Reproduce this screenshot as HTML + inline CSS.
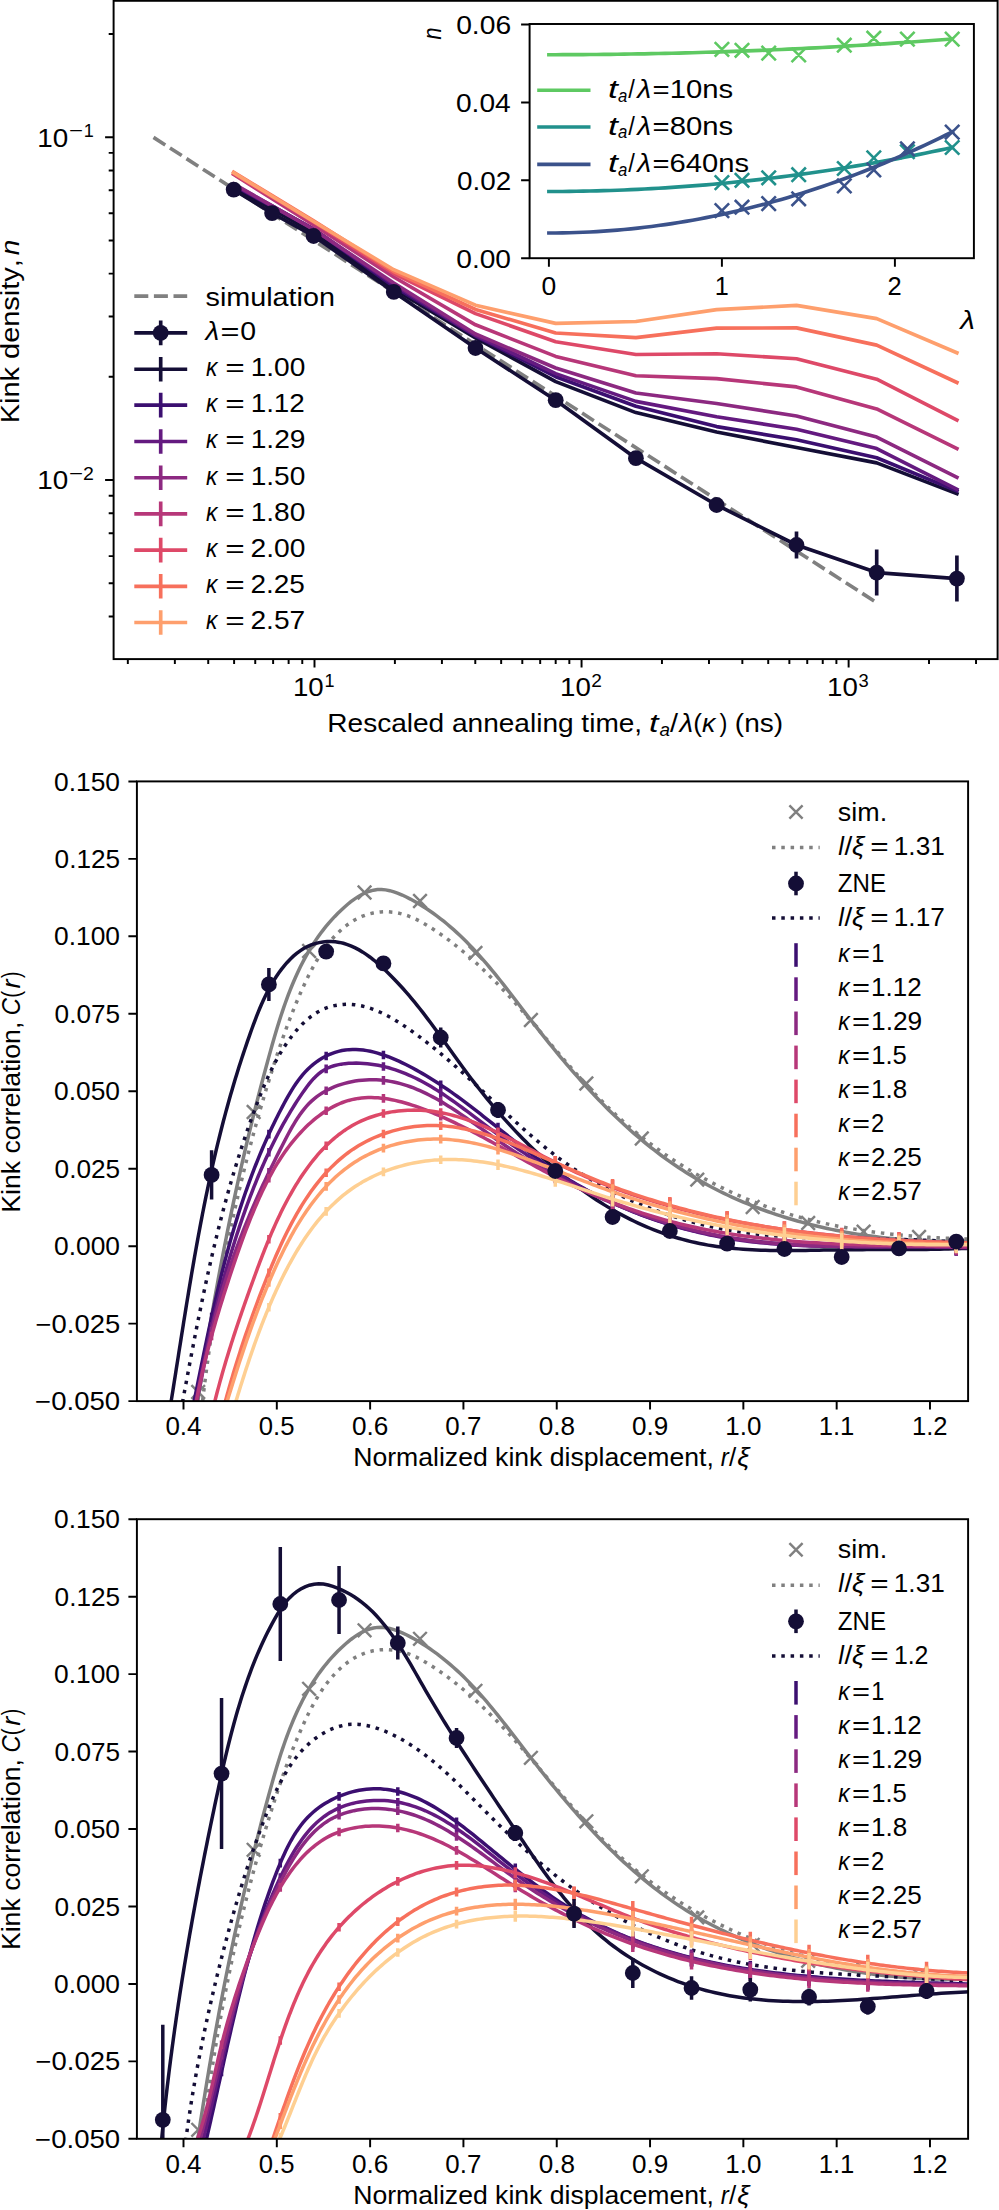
<!DOCTYPE html><html><head><meta charset="utf-8"><style>html,body{margin:0;padding:0;background:#fff;}svg{display:block}text{font-family:"Liberation Sans",sans-serif;fill:#000;font-kerning:none}</style></head><body>
<svg width="999" height="2210" viewBox="0 0 999 2210">
<rect width="999" height="2210" fill="#fff"/>
<clipPath id="c1"><rect x="113.6" y="0.8" width="884.0" height="658.3000000000001"/></clipPath>
<path d="M127.83,659.1 v4.9 M174.86,659.1 v4.9 M208.23,659.1 v4.9 M234.11,659.1 v4.9 M255.25,659.1 v4.9 M273.13,659.1 v4.9 M288.62,659.1 v4.9 M302.28,659.1 v4.9 M314.5,659.1 v8.5 M394.89,659.1 v4.9 M441.92,659.1 v4.9 M475.29,659.1 v4.9 M501.17,659.1 v4.9 M522.31,659.1 v4.9 M540.19,659.1 v4.9 M555.68,659.1 v4.9 M569.34,659.1 v4.9 M581.56,659.1 v8.5 M661.95,659.1 v4.9 M708.98,659.1 v4.9 M742.35,659.1 v4.9 M768.23,659.1 v4.9 M789.37,659.1 v4.9 M807.25,659.1 v4.9 M822.74,659.1 v4.9 M836.4,659.1 v4.9 M848.62,659.1 v8.5 M929.01,659.1 v4.9 M976.04,659.1 v4.9 M113.6,616.48 h-4.9 M113.6,583.26 h-4.9 M113.6,556.11 h-4.9 M113.6,533.16 h-4.9 M113.6,513.28 h-4.9 M113.6,495.74 h-4.9 M113.6,480.05 h-8.5 M113.6,376.84 h-4.9 M113.6,316.47 h-4.9 M113.6,273.63 h-4.9 M113.6,240.41 h-4.9 M113.6,213.26 h-4.9 M113.6,190.31 h-4.9 M113.6,170.43 h-4.9 M113.6,152.89 h-4.9 M113.6,137.2 h-8.5 M113.6,33.99 h-4.9 " stroke="#000" stroke-width="1.95" fill="none"/>
<g clip-path="url(#c1)">
<path d="M153.5,137.4 L876.7,602.6" stroke="#808080" stroke-width="3.65" stroke-dasharray="14 5.6" fill="none"/>
<path d="M233.7,187.2 L272.1,209.21 L313.6,233 L393.8,289 L475.5,338 L555.7,381.6 L635.9,412.6 L716.6,432 L796.5,447.5 L876.7,462.9 L956.9,493.7" stroke="#140e36" stroke-width="3.65" fill="none" stroke-linecap="square" stroke-linejoin="round"/>
<path d="M233.7,185.5 L272.1,206.41 L313.6,229 L393.8,286.5 L475.5,336 L555.7,376.7 L635.9,406.3 L716.6,426.6 L796.5,439.8 L876.7,457.8 L956.9,490.9" stroke="#3b0f70" stroke-width="3.65" fill="none" stroke-linecap="square" stroke-linejoin="round"/>
<path d="M233.7,184.5 L272.1,205.89 L313.6,229 L393.8,284.5 L475.5,335.4 L555.7,373.6 L635.9,401.4 L716.6,416.8 L796.5,429.2 L876.7,448.6 L956.9,489.3" stroke="#641a80" stroke-width="3.65" fill="none" stroke-linecap="square" stroke-linejoin="round"/>
<path d="M233.7,183.9 L272.1,205.82 L313.6,229.5 L393.8,283 L475.5,334 L555.7,368 L635.9,393 L716.6,403.5 L796.5,416 L876.7,437.1 L956.9,477.2" stroke="#8c2981" stroke-width="3.65" fill="none" stroke-linecap="square" stroke-linejoin="round"/>
<path d="M233.7,174.5 L272.1,198.77 L313.6,225 L393.8,277 L475.5,324.8 L555.7,356.4 L635.9,375.8 L716.6,378.6 L796.5,386.9 L876.7,408.9 L956.9,448.6" stroke="#b73779" stroke-width="3.65" fill="none" stroke-linecap="square" stroke-linejoin="round"/>
<path d="M233.7,173.8 L272.1,196.96 L313.6,222 L393.8,273.5 L475.5,313.6 L555.7,341.7 L635.9,354.5 L716.6,353.8 L796.5,358.7 L876.7,379.2 L956.9,420" stroke="#de4968" stroke-width="3.65" fill="none" stroke-linecap="square" stroke-linejoin="round"/>
<path d="M233.7,172.2 L272.1,195.56 L313.6,220.8 L393.8,271.5 L475.5,309.4 L555.7,333 L635.9,337.6 L716.6,328.1 L796.5,327.9 L876.7,345.1 L956.9,382.5" stroke="#f7705c" stroke-width="3.65" fill="none" stroke-linecap="square" stroke-linejoin="round"/>
<path d="M233.7,172.8 L272.1,196.21 L313.6,221.5 L393.8,269.7 L475.5,305.2 L555.7,323.4 L635.9,321.5 L716.6,309.6 L796.5,305.4 L876.7,318.6 L956.9,352.8" stroke="#fe9f6d" stroke-width="3.65" fill="none" stroke-linecap="square" stroke-linejoin="round"/>
<path d="M233.7,189.6 L272.1,213.1 L313.6,236 L393.8,291.9 L475.5,348 L555.7,400.2 L635.9,458.2 L716.6,505 L796.5,545 L876.7,572.6 L956.9,578.6" stroke="#140e36" stroke-width="3.65" fill="none" stroke-linejoin="round"/>
<path d="M796.5,531.5 V558.5 M876.7,549.6 V595.6 M956.9,555.6 V601.6 " stroke="#140e36" stroke-width="3.65" fill="none"/>
<circle cx="233.7" cy="189.6" r="7.9" fill="#140e36"/>
<circle cx="272.1" cy="213.1" r="7.9" fill="#140e36"/>
<circle cx="313.6" cy="236" r="7.9" fill="#140e36"/>
<circle cx="393.8" cy="291.9" r="7.9" fill="#140e36"/>
<circle cx="475.5" cy="348" r="7.9" fill="#140e36"/>
<circle cx="555.7" cy="400.2" r="7.9" fill="#140e36"/>
<circle cx="635.9" cy="458.2" r="7.9" fill="#140e36"/>
<circle cx="716.6" cy="505" r="7.9" fill="#140e36"/>
<circle cx="796.5" cy="545" r="7.9" fill="#140e36"/>
<circle cx="876.7" cy="572.6" r="7.9" fill="#140e36"/>
<circle cx="956.9" cy="578.6" r="7.9" fill="#140e36"/>
</g>
<rect x="113.6" y="0.8" width="884" height="658.3" fill="none" stroke="#000" stroke-width="1.95"/>
<text x="37.38" y="146.8" font-size="26.6" textLength="31.01" lengthAdjust="spacingAndGlyphs">10</text>
<text x="69.01" y="137.3" font-size="18.62" textLength="14.06" lengthAdjust="spacingAndGlyphs">−</text>
<text x="83.72" y="137.3" font-size="18.62" textLength="10.06" lengthAdjust="spacingAndGlyphs">1</text>
<text x="37.38" y="489.2" font-size="26.6" textLength="31.01" lengthAdjust="spacingAndGlyphs">10</text>
<text x="69.01" y="479.7" font-size="18.62" textLength="14.06" lengthAdjust="spacingAndGlyphs">−</text>
<text x="83.02" y="479.7" font-size="18.62" textLength="10.87" lengthAdjust="spacingAndGlyphs">2</text>
<text x="292.99" y="696.2" font-size="26.6" textLength="30.79" lengthAdjust="spacingAndGlyphs">10</text>
<text x="324.62" y="686.6" font-size="18.62" textLength="10.06" lengthAdjust="spacingAndGlyphs">1</text>
<text x="560.05" y="696.2" font-size="26.6" textLength="30.79" lengthAdjust="spacingAndGlyphs">10</text>
<text x="591.2" y="686.6" font-size="18.62" textLength="10.62" lengthAdjust="spacingAndGlyphs">2</text>
<text x="827.09" y="696.2" font-size="26.6" textLength="30.79" lengthAdjust="spacingAndGlyphs">10</text>
<text x="858.5" y="686.6" font-size="18.62" textLength="10.21" lengthAdjust="spacingAndGlyphs">3</text>
<text x="327.3" y="731.6" font-size="26.6" textLength="314.82" lengthAdjust="spacingAndGlyphs">Rescaled annealing time,</text>
<text x="648.95" y="731.6" font-size="26.6" textLength="9.47" lengthAdjust="spacingAndGlyphs" font-style="italic">t</text>
<text x="659.48" y="736" font-size="18.62" textLength="10.47" lengthAdjust="spacingAndGlyphs" font-style="italic">a</text>
<text x="670" y="731.6" font-size="26.6" textLength="8" lengthAdjust="spacingAndGlyphs">/</text>
<text x="679.56" y="731.6" font-size="26.6" textLength="13.62" lengthAdjust="spacingAndGlyphs" font-style="italic">λ</text>
<text x="693.36" y="731.6" font-size="26.6" textLength="8.79" lengthAdjust="spacingAndGlyphs">(</text>
<text x="702.06" y="731.6" font-size="26.6" textLength="13.32" lengthAdjust="spacingAndGlyphs" font-style="italic">κ</text>
<text x="719.56" y="731.6" font-size="26.6" textLength="7.91" lengthAdjust="spacingAndGlyphs">)</text>
<text x="734.86" y="731.6" font-size="26.6" textLength="48.28" lengthAdjust="spacingAndGlyphs">(ns)</text>
<g transform="translate(18.8,420.85) rotate(-90)">
<text x="-2.37" y="0" font-size="26.6" textLength="164.02" lengthAdjust="spacingAndGlyphs">Kink density,</text>
<text x="165.58" y="0" font-size="26.6" textLength="15.64" lengthAdjust="spacingAndGlyphs" font-style="italic">n</text>
</g>
<path d="M134.3,296.1 H187.2" stroke="#808080" stroke-width="3.65" stroke-dasharray="14 5.6"/>
<text x="205.5" y="305.5" font-size="26.6" textLength="129.47" lengthAdjust="spacingAndGlyphs">simulation</text>
<path d="M134.3,332.9 H187.2 M160.7,320.59999999999997 V345.2" stroke="#140e36" stroke-width="3.65"/>
<circle cx="160.7" cy="332.9" r="7.9" fill="#140e36"/>
<text x="205.57" y="340.4" font-size="26.6" textLength="13.72" lengthAdjust="spacingAndGlyphs" font-style="italic">λ</text>
<text x="220.41" y="340.4" font-size="26.6" textLength="18.99" lengthAdjust="spacingAndGlyphs">=</text>
<text x="240.39" y="340.4" font-size="26.6" textLength="15.82" lengthAdjust="spacingAndGlyphs">0</text>
<path d="M134.3,369.2 H187.2 M160.7,356.9 V381.5" stroke="#140e36" stroke-width="3.65"/>
<text x="205.92" y="376.15" font-size="26.6" textLength="11.42" lengthAdjust="spacingAndGlyphs" font-style="italic">κ</text>
<text x="225.17" y="376.15" font-size="26.6" textLength="19.47" lengthAdjust="spacingAndGlyphs">=</text>
<text x="250.66" y="376.15" font-size="26.6" textLength="54.7" lengthAdjust="spacingAndGlyphs">1.00</text>
<path d="M134.3,405.1 H187.2 M160.7,392.8 V417.4" stroke="#3b0f70" stroke-width="3.65"/>
<text x="205.92" y="412.05" font-size="26.6" textLength="11.42" lengthAdjust="spacingAndGlyphs" font-style="italic">κ</text>
<text x="225.17" y="412.05" font-size="26.6" textLength="19.47" lengthAdjust="spacingAndGlyphs">=</text>
<text x="250.68" y="412.05" font-size="26.6" textLength="54.13" lengthAdjust="spacingAndGlyphs">1.12</text>
<path d="M134.3,441.5 H187.2 M160.7,429.2 V453.8" stroke="#641a80" stroke-width="3.65"/>
<text x="205.92" y="448.45" font-size="26.6" textLength="11.42" lengthAdjust="spacingAndGlyphs" font-style="italic">κ</text>
<text x="225.17" y="448.45" font-size="26.6" textLength="19.47" lengthAdjust="spacingAndGlyphs">=</text>
<text x="250.65" y="448.45" font-size="26.6" textLength="54.85" lengthAdjust="spacingAndGlyphs">1.29</text>
<path d="M134.3,477.7 H187.2 M160.7,465.4 V490" stroke="#8c2981" stroke-width="3.65"/>
<text x="205.92" y="484.65" font-size="26.6" textLength="11.42" lengthAdjust="spacingAndGlyphs" font-style="italic">κ</text>
<text x="225.17" y="484.65" font-size="26.6" textLength="19.47" lengthAdjust="spacingAndGlyphs">=</text>
<text x="250.66" y="484.65" font-size="26.6" textLength="54.7" lengthAdjust="spacingAndGlyphs">1.50</text>
<path d="M134.3,513.9 H187.2 M160.7,501.6 V526.2" stroke="#b73779" stroke-width="3.65"/>
<text x="205.92" y="520.85" font-size="26.6" textLength="11.42" lengthAdjust="spacingAndGlyphs" font-style="italic">κ</text>
<text x="225.17" y="520.85" font-size="26.6" textLength="19.47" lengthAdjust="spacingAndGlyphs">=</text>
<text x="250.66" y="520.85" font-size="26.6" textLength="54.7" lengthAdjust="spacingAndGlyphs">1.80</text>
<path d="M134.3,550.1 H187.2 M160.7,537.8 V562.4" stroke="#de4968" stroke-width="3.65"/>
<text x="205.92" y="557.05" font-size="26.6" textLength="11.42" lengthAdjust="spacingAndGlyphs" font-style="italic">κ</text>
<text x="225.17" y="557.05" font-size="26.6" textLength="19.47" lengthAdjust="spacingAndGlyphs">=</text>
<text x="250.46" y="557.05" font-size="26.6" textLength="54.9" lengthAdjust="spacingAndGlyphs">2.00</text>
<path d="M134.3,586.3 H187.2 M160.7,574 V598.6" stroke="#f7705c" stroke-width="3.65"/>
<text x="205.92" y="593.25" font-size="26.6" textLength="11.42" lengthAdjust="spacingAndGlyphs" font-style="italic">κ</text>
<text x="225.17" y="593.25" font-size="26.6" textLength="19.47" lengthAdjust="spacingAndGlyphs">=</text>
<text x="250.47" y="593.25" font-size="26.6" textLength="54.44" lengthAdjust="spacingAndGlyphs">2.25</text>
<path d="M134.3,622.5 H187.2 M160.7,610.2 V634.8" stroke="#fe9f6d" stroke-width="3.65"/>
<text x="205.92" y="629.45" font-size="26.6" textLength="11.42" lengthAdjust="spacingAndGlyphs" font-style="italic">κ</text>
<text x="225.17" y="629.45" font-size="26.6" textLength="19.47" lengthAdjust="spacingAndGlyphs">=</text>
<text x="250.47" y="629.45" font-size="26.6" textLength="54.73" lengthAdjust="spacingAndGlyphs">2.57</text>
<rect x="529.6" y="24.0" width="444.3" height="234.2" fill="#fff"/>
<clipPath id="ci"><rect x="529.6" y="24.0" width="444.3" height="234.2"/></clipPath>
<g clip-path="url(#ci)">
<path d="M548.9,54.7 L555.74,54.7 L562.58,54.68 L569.41,54.66 L576.25,54.63 L583.09,54.59 L589.93,54.54 L596.77,54.48 L603.6,54.41 L610.44,54.33 L617.28,54.25 L624.12,54.15 L630.95,54.05 L637.79,53.93 L644.63,53.81 L651.47,53.68 L658.31,53.54 L665.14,53.39 L671.98,53.23 L678.82,53.06 L685.66,52.89 L692.5,52.7 L699.33,52.51 L706.17,52.3 L713.01,52.09 L719.85,51.87 L726.69,51.64 L733.52,51.4 L740.36,51.15 L747.2,50.89 L754.04,50.62 L760.87,50.35 L767.71,50.06 L774.55,49.77 L781.39,49.46 L788.23,49.15 L795.06,48.83 L801.9,48.5 L808.74,48.16 L815.58,47.81 L822.42,47.45 L829.25,47.08 L836.09,46.71 L842.93,46.32 L849.77,45.93 L856.61,45.53 L863.44,45.11 L870.28,44.69 L877.12,44.26 L883.96,43.82 L890.79,43.37 L897.63,42.92 L904.47,42.45 L911.31,41.97 L918.15,41.49 L924.98,41 L931.82,40.49 L938.66,39.98 L945.5,39.46 L952.34,38.93" stroke="#5ec962" stroke-width="3.65" fill="none" stroke-linecap="square"/>
<path d="M714.7,42.2 L729.1,56.6 M714.7,56.6 L729.1,42.2 M734.8,43.1 L749.2,57.5 M734.8,57.5 L749.2,43.1 M761.5,45.9 L775.9,60.3 M761.5,60.3 L775.9,45.9 M791.5,47.8 L805.9,62.2 M791.5,62.2 L805.9,47.8 M837.1,38 L851.5,52.4 M837.1,52.4 L851.5,38 M866.6,31 L881,45.4 M866.6,45.4 L881,31 M900.2,31.9 L914.6,46.3 M900.2,46.3 L914.6,31.9 M945,31.9 L959.4,46.3 M945,46.3 L959.4,31.9 " stroke="#5ec962" stroke-width="2.6" fill="none"/>
<path d="M548.9,191.5 L555.74,191.49 L562.58,191.45 L569.41,191.39 L576.25,191.3 L583.09,191.18 L589.93,191.04 L596.77,190.88 L603.6,190.69 L610.44,190.48 L617.28,190.23 L624.12,189.97 L630.95,189.68 L637.79,189.36 L644.63,189.02 L651.47,188.65 L658.31,188.26 L665.14,187.84 L671.98,187.4 L678.82,186.93 L685.66,186.44 L692.5,185.92 L699.33,185.38 L706.17,184.81 L713.01,184.21 L719.85,183.59 L726.69,182.95 L733.52,182.28 L740.36,181.58 L747.2,180.86 L754.04,180.11 L760.87,179.34 L767.71,178.54 L774.55,177.72 L781.39,176.87 L788.23,176 L795.06,175.1 L801.9,174.18 L808.74,173.23 L815.58,172.25 L822.42,171.25 L829.25,170.23 L836.09,169.18 L842.93,168.1 L849.77,167 L856.61,165.88 L863.44,164.72 L870.28,163.55 L877.12,162.34 L883.96,161.12 L890.79,159.86 L897.63,158.59 L904.47,157.28 L911.31,155.95 L918.15,154.6 L924.98,153.22 L931.82,151.82 L938.66,150.39 L945.5,148.93 L952.34,147.45" stroke="#21918c" stroke-width="3.65" fill="none" stroke-linecap="square"/>
<path d="M714.7,175.4 L729.1,189.8 M714.7,189.8 L729.1,175.4 M734.8,173.1 L749.2,187.5 M734.8,187.5 L749.2,173.1 M761.5,170.6 L775.9,185 M761.5,185 L775.9,170.6 M791.5,167.5 L805.9,181.9 M791.5,181.9 L805.9,167.5 M837.1,161.3 L851.5,175.7 M837.1,175.7 L851.5,161.3 M866.6,150.7 L881,165.1 M866.6,165.1 L881,150.7 M900.2,144.5 L914.6,158.9 M900.2,158.9 L914.6,144.5 M945,140.3 L959.4,154.7 M945,154.7 L959.4,140.3 " stroke="#21918c" stroke-width="2.6" fill="none"/>
<path d="M548.9,233 L555.74,232.97 L562.58,232.88 L569.41,232.74 L576.25,232.54 L583.09,232.27 L589.93,231.95 L596.77,231.58 L603.6,231.14 L610.44,230.65 L617.28,230.09 L624.12,229.48 L630.95,228.82 L637.79,228.09 L644.63,227.3 L651.47,226.46 L658.31,225.56 L665.14,224.6 L671.98,223.59 L678.82,222.51 L685.66,221.38 L692.5,220.19 L699.33,218.94 L706.17,217.63 L713.01,216.26 L719.85,214.84 L726.69,213.36 L733.52,211.82 L740.36,210.22 L747.2,208.56 L754.04,206.85 L760.87,205.08 L767.71,203.24 L774.55,201.36 L781.39,199.41 L788.23,197.4 L795.06,195.34 L801.9,193.22 L808.74,191.04 L815.58,188.8 L822.42,186.51 L829.25,184.15 L836.09,181.74 L842.93,179.27 L849.77,176.74 L856.61,174.16 L863.44,171.51 L870.28,168.81 L877.12,166.05 L883.96,163.23 L890.79,160.35 L897.63,157.42 L904.47,154.43 L911.31,151.38 L918.15,148.27 L924.98,145.1 L931.82,141.87 L938.66,138.59 L945.5,135.25 L952.34,131.85" stroke="#3b528b" stroke-width="3.65" fill="none" stroke-linecap="square"/>
<path d="M714.7,203.4 L729.1,217.8 M714.7,217.8 L729.1,203.4 M734.8,200 L749.2,214.4 M734.8,214.4 L749.2,200 M761.5,196.4 L775.9,210.8 M761.5,210.8 L775.9,196.4 M791.5,191.6 L805.9,206 M791.5,206 L805.9,191.6 M837.1,178.7 L851.5,193.1 M837.1,193.1 L851.5,178.7 M866.6,162.7 L881,177.1 M866.6,177.1 L881,162.7 M900.2,141.7 L914.6,156.1 M900.2,156.1 L914.6,141.7 M945,124.9 L959.4,139.3 M945,139.3 L959.4,124.9 " stroke="#3b528b" stroke-width="2.6" fill="none"/>
</g>
<rect x="529.6" y="24.0" width="444.3" height="234.2" fill="none" stroke="#000" stroke-width="1.95"/>
<path d="M529.6,258.2 h-8.5 M529.6,180.3 h-8.5 M529.6,102.4 h-8.5 M529.6,24.5 h-8.5 M548.9,258.2 v8.5 M721.9,258.2 v8.5 M894.9,258.2 v8.5 " stroke="#000" stroke-width="1.95" fill="none"/>
<text x="456.24" y="267.5" font-size="26.6" textLength="54.76" lengthAdjust="spacingAndGlyphs">0.00</text>
<text x="457.09" y="189.6" font-size="26.6" textLength="54.21" lengthAdjust="spacingAndGlyphs">0.02</text>
<text x="455.98" y="111.7" font-size="26.6" textLength="54.75" lengthAdjust="spacingAndGlyphs">0.04</text>
<text x="456.15" y="33.8" font-size="26.6" textLength="55" lengthAdjust="spacingAndGlyphs">0.06</text>
<text x="541.54" y="295.2" font-size="26.6" textLength="14.72" lengthAdjust="spacingAndGlyphs">0</text>
<text x="714.75" y="295.2" font-size="26.6" textLength="14.05" lengthAdjust="spacingAndGlyphs">1</text>
<text x="887.47" y="295.2" font-size="26.6" textLength="14.18" lengthAdjust="spacingAndGlyphs">2</text>
<g transform="translate(441,39.2) rotate(-90)">
<text x="-0.36" y="0" font-size="26.6" textLength="12.04" lengthAdjust="spacingAndGlyphs" font-style="italic">n</text>
</g>
<text x="960.15" y="328.7" font-size="26.6" textLength="14.63" lengthAdjust="spacingAndGlyphs" font-style="italic">λ</text>
<path d="M537.2,90.2 H590.5" stroke="#5ec962" stroke-width="3.65"/>
<text x="607.98" y="97.8" font-size="26.6" textLength="9.88" lengthAdjust="spacingAndGlyphs" font-style="italic">t</text>
<text x="618.12" y="101.5" font-size="18.62" textLength="9.35" lengthAdjust="spacingAndGlyphs" font-style="italic">a</text>
<text x="628.2" y="97.8" font-size="26.6" textLength="6.6" lengthAdjust="spacingAndGlyphs">/</text>
<text x="637.28" y="97.8" font-size="26.6" textLength="13.92" lengthAdjust="spacingAndGlyphs" font-style="italic">λ</text>
<text x="652.57" y="97.8" font-size="26.6" textLength="80.56" lengthAdjust="spacingAndGlyphs">=10ns</text>
<path d="M537.2,127.0 H590.5" stroke="#21918c" stroke-width="3.65"/>
<text x="607.98" y="134.6" font-size="26.6" textLength="9.88" lengthAdjust="spacingAndGlyphs" font-style="italic">t</text>
<text x="618.12" y="138.3" font-size="18.62" textLength="9.35" lengthAdjust="spacingAndGlyphs" font-style="italic">a</text>
<text x="628.2" y="134.6" font-size="26.6" textLength="6.6" lengthAdjust="spacingAndGlyphs">/</text>
<text x="637.28" y="134.6" font-size="26.6" textLength="13.92" lengthAdjust="spacingAndGlyphs" font-style="italic">λ</text>
<text x="652.57" y="134.6" font-size="26.6" textLength="80.56" lengthAdjust="spacingAndGlyphs">=80ns</text>
<path d="M537.2,164.4 H590.5" stroke="#3b528b" stroke-width="3.65"/>
<text x="607.98" y="172" font-size="26.6" textLength="9.88" lengthAdjust="spacingAndGlyphs" font-style="italic">t</text>
<text x="618.12" y="175.7" font-size="18.62" textLength="9.35" lengthAdjust="spacingAndGlyphs" font-style="italic">a</text>
<text x="628.2" y="172" font-size="26.6" textLength="6.6" lengthAdjust="spacingAndGlyphs">/</text>
<text x="637.28" y="172" font-size="26.6" textLength="13.92" lengthAdjust="spacingAndGlyphs" font-style="italic">λ</text>
<text x="652.58" y="172" font-size="26.6" textLength="96.52" lengthAdjust="spacingAndGlyphs">=640ns</text>
<clipPath id="c2"><rect x="136.9" y="781.4" width="831.2" height="619.7"/></clipPath>
<g clip-path="url(#c2)">
<path d="M195.24,1418.59 L195.9,1414.16 L196.56,1409.74 L197.22,1405.32 L197.89,1400.91 L198.56,1396.51 L199.23,1392.11 L199.9,1387.71 L200.58,1383.33 L201.27,1378.95 L201.96,1374.57 L202.65,1370.2 L203.34,1365.83 L204.04,1361.47 L204.75,1357.11 L205.45,1352.76 L206.17,1348.41 L206.88,1344.07 L207.6,1339.74 L208.33,1335.4 L209.06,1331.07 L209.79,1326.75 L210.53,1322.43 L211.27,1318.11 L212.02,1313.8 L212.78,1309.49 L213.53,1305.19 L214.3,1300.88 L215.07,1296.59 L215.84,1292.29 L216.62,1288 L217.4,1283.71 L218.19,1279.43 L218.99,1275.14 L219.79,1270.86 L220.6,1266.59 L221.41,1262.31 L222.23,1258.04 L223.05,1253.77 L223.88,1249.5 L224.71,1245.24 L225.56,1240.98 L226.4,1236.72 L227.26,1232.46 L228.12,1228.2 L228.98,1223.95 L229.86,1219.69 L230.74,1215.44 L231.62,1211.19 L232.51,1206.94 L233.41,1202.69 L234.32,1198.44 L235.23,1194.2 L236.15,1189.95 L237.08,1185.7 L238.01,1181.46 L238.95,1177.22 L239.9,1172.97 L240.86,1168.73 L241.82,1164.48 L242.79,1160.24 L243.77,1156 L244.75,1151.76 L245.75,1147.51 L246.75,1143.27 L247.75,1139.02 L248.77,1134.78 L249.8,1130.53 L250.83,1126.29 L251.87,1122.04 L252.92,1117.79 L253.97,1113.54 L255.04,1109.29 L256.11,1105.04 L257.19,1100.78 L258.28,1096.53 L259.38,1092.27 L260.49,1088.02 L261.6,1083.76 L262.73,1079.49 L263.86,1075.23 L265.01,1070.96 L266.16,1066.69 L267.32,1062.42 L268.49,1058.15 L269.67,1053.87 L270.86,1049.6 L272.06,1045.32 L273.28,1041.04 L274.51,1036.77 L275.77,1032.51 L277.04,1028.25 L278.35,1024 L279.68,1019.76 L281.03,1015.54 L282.43,1011.33 L283.85,1007.14 L285.31,1002.97 L286.81,998.82 L288.36,994.69 L289.94,990.59 L291.58,986.51 L293.26,982.46 L294.99,978.45 L296.78,974.46 L298.62,970.51 L300.52,966.6 L302.48,962.72 L304.51,958.89 L306.6,955.09 L308.76,951.34 L310.98,947.64 L313.29,943.98 L315.66,940.37 L318.12,936.81 L320.65,933.31 L323.27,929.86 L325.97,926.47 L328.76,923.14 L331.63,919.87 L334.6,916.66 L337.67,913.52 L340.83,910.44 L344.09,907.43 L347.45,904.5 L350.9,901.7 L354.45,899.06 L358.09,896.65 L361.81,894.5 L365.61,892.67 L369.48,891.21 L373.43,890.16 L377.44,889.58 L381.51,889.5 L385.62,889.88 L389.77,890.68 L393.93,891.84 L398.09,893.31 L402.22,895.04 L406.33,896.98 L410.38,899.08 L414.37,901.28 L418.28,903.55 L422.11,905.89 L425.87,908.29 L429.56,910.76 L433.19,913.29 L436.75,915.88 L440.24,918.53 L443.68,921.24 L447.05,923.99 L450.37,926.81 L453.64,929.67 L456.85,932.58 L460.02,935.54 L463.14,938.54 L466.21,941.58 L469.25,944.67 L472.24,947.79 L475.19,950.95 L478.11,954.15 L481,957.38 L483.86,960.64 L486.69,963.93 L489.49,967.25 L492.27,970.59 L495.03,973.95 L497.77,977.34 L500.49,980.75 L503.2,984.17 L505.9,987.61 L508.59,991.07 L511.27,994.53 L513.95,998.01 L516.62,1001.49 L519.3,1004.98 L521.97,1008.48 L524.65,1011.98 L527.34,1015.47 L530.04,1018.97 L532.75,1022.46 L535.47,1025.95 L538.2,1029.43 L540.94,1032.91 L543.7,1036.38 L546.47,1039.84 L549.25,1043.3 L552.05,1046.74 L554.86,1050.18 L557.68,1053.6 L560.52,1057.02 L563.38,1060.42 L566.25,1063.8 L569.13,1067.18 L572.03,1070.54 L574.95,1073.88 L577.88,1077.21 L580.83,1080.52 L583.8,1083.81 L586.79,1087.08 L589.79,1090.34 L592.81,1093.57 L595.85,1096.78 L598.91,1099.97 L601.98,1103.13 L605.08,1106.28 L608.2,1109.39 L611.33,1112.48 L614.49,1115.55 L617.67,1118.59 L620.87,1121.6 L624.09,1124.58 L627.33,1127.53 L630.59,1130.46 L633.88,1133.35 L637.19,1136.2 L640.52,1139.03 L643.88,1141.82 L647.26,1144.58 L650.66,1147.3 L654.09,1149.99 L657.54,1152.64 L661.02,1155.25 L664.52,1157.82 L668.05,1160.36 L671.6,1162.85 L675.18,1165.3 L678.79,1167.71 L682.42,1170.08 L686.08,1172.41 L689.76,1174.69 L693.48,1176.93 L697.21,1179.13 L700.98,1181.29 L704.76,1183.4 L708.57,1185.47 L712.4,1187.51 L716.26,1189.5 L720.14,1191.45 L724.04,1193.36 L727.96,1195.23 L731.9,1197.05 L735.86,1198.84 L739.84,1200.59 L743.85,1202.3 L747.87,1203.97 L751.91,1205.6 L755.96,1207.19 L760.04,1208.74 L764.13,1210.25 L768.24,1211.73 L772.36,1213.16 L776.5,1214.56 L780.66,1215.92 L784.83,1217.24 L789.01,1218.53 L793.21,1219.77 L797.42,1220.98 L801.65,1222.16 L805.88,1223.29 L810.13,1224.39 L814.39,1225.45 L818.66,1226.48 L822.94,1227.47 L827.23,1228.42 L831.53,1229.34 L835.84,1230.23 L840.16,1231.07 L844.49,1231.89 L848.82,1232.67 L853.16,1233.41 L857.51,1234.12 L861.86,1234.79 L866.22,1235.43 L870.58,1236.04 L874.95,1236.61 L879.32,1237.15 L883.7,1237.66 L888.08,1238.13 L892.46,1238.57 L896.85,1238.98 L901.23,1239.35 L905.62,1239.7 L910.01,1240.01 L914.4,1240.28 L918.79,1240.53 L923.18,1240.74 L927.57,1240.93 L931.95,1241.08 L936.34,1241.2 L940.72,1241.29 L945.1,1241.35 L949.48,1241.38 L953.85,1241.38 L958.21,1241.35 L962.58,1241.29 L966.93,1241.2 L971.29,1241.08 L975.63,1240.93 L979.97,1240.75" stroke="#808080" stroke-width="3.5" fill="none"/>
<path d="M202.62,1400.78 L203.1,1396.67 L203.59,1392.56 L204.09,1388.45 L204.6,1384.33 L205.12,1380.22 L205.65,1376.1 L206.18,1371.98 L206.73,1367.86 L207.29,1363.73 L207.85,1359.6 L208.43,1355.48 L209.01,1351.35 L209.6,1347.22 L210.21,1343.08 L210.82,1338.95 L211.44,1334.81 L212.07,1330.68 L212.71,1326.54 L213.36,1322.4 L214.02,1318.27 L214.69,1314.13 L215.37,1309.99 L216.06,1305.85 L216.76,1301.71 L217.46,1297.57 L218.18,1293.43 L218.91,1289.29 L219.64,1285.16 L220.39,1281.02 L221.14,1276.88 L221.9,1272.74 L222.68,1268.61 L223.46,1264.47 L224.25,1260.34 L225.06,1256.2 L225.87,1252.07 L226.69,1247.94 L227.52,1243.81 L228.36,1239.68 L229.21,1235.55 L230.07,1231.43 L230.94,1227.31 L231.82,1223.19 L232.71,1219.07 L233.61,1214.95 L234.52,1210.84 L235.44,1206.73 L236.37,1202.62 L237.3,1198.51 L238.25,1194.41 L239.21,1190.31 L240.17,1186.21 L241.15,1182.12 L242.14,1178.03 L243.13,1173.94 L244.14,1169.85 L245.15,1165.77 L246.18,1161.7 L247.21,1157.63 L248.26,1153.56 L249.31,1149.49 L250.37,1145.43 L251.45,1141.38 L252.53,1137.32 L253.62,1133.28 L254.73,1129.23 L255.84,1125.2 L256.96,1121.16 L258.1,1117.14 L259.24,1113.11 L260.39,1109.09 L261.55,1105.08 L262.73,1101.08 L263.91,1097.07 L265.1,1093.08 L266.3,1089.09 L267.51,1085.11 L268.73,1081.13 L269.97,1077.16 L271.21,1073.19 L272.46,1069.23 L273.72,1065.28 L274.99,1061.33 L276.28,1057.39 L277.57,1053.46 L278.89,1049.53 L280.22,1045.6 L281.57,1041.68 L282.93,1037.76 L284.32,1033.84 L285.74,1029.93 L287.17,1026.01 L288.64,1022.1 L290.13,1018.18 L291.65,1014.27 L293.21,1010.35 L294.79,1006.44 L296.41,1002.52 L298.07,998.6 L299.76,994.67 L301.49,990.74 L303.27,986.81 L305.08,982.88 L306.95,978.95 L308.87,975.04 L310.86,971.16 L312.91,967.31 L315.03,963.51 L317.23,959.75 L319.51,956.05 L321.88,952.42 L324.35,948.87 L326.91,945.4 L329.58,942.03 L332.36,938.76 L335.25,935.6 L338.24,932.58 L341.33,929.7 L344.52,926.99 L347.81,924.46 L351.19,922.13 L354.65,920.01 L358.2,918.11 L361.83,916.46 L365.54,915.05 L369.31,913.9 L373.14,912.99 L377,912.34 L380.91,911.93 L384.83,911.77 L388.76,911.85 L392.7,912.18 L396.62,912.76 L400.53,913.58 L404.4,914.64 L408.24,915.93 L412.04,917.44 L415.8,919.14 L419.52,921 L423.2,923.01 L426.84,925.15 L430.44,927.38 L434,929.68 L437.52,932.05 L440.99,934.46 L444.42,936.91 L447.82,939.41 L451.18,941.94 L454.5,944.52 L457.78,947.13 L461.03,949.79 L464.25,952.48 L467.43,955.2 L470.58,957.96 L473.7,960.75 L476.8,963.58 L479.86,966.43 L482.9,969.31 L485.91,972.22 L488.9,975.16 L491.87,978.12 L494.81,981.11 L497.73,984.12 L500.63,987.15 L503.51,990.2 L506.38,993.27 L509.23,996.36 L512.06,999.47 L514.88,1002.59 L517.68,1005.73 L520.47,1008.88 L523.26,1012.04 L526.03,1015.22 L528.79,1018.4 L531.55,1021.59 L534.3,1024.79 L537.04,1027.99 L539.78,1031.2 L542.52,1034.41 L545.25,1037.63 L547.99,1040.84 L550.72,1044.06 L553.46,1047.27 L556.2,1050.48 L558.94,1053.69 L561.68,1056.89 L564.44,1060.09 L567.2,1063.28 L569.97,1066.46 L572.75,1069.63 L575.53,1072.79 L578.33,1075.94 L581.15,1079.07 L583.97,1082.19 L586.82,1085.29 L589.67,1088.38 L592.55,1091.44 L595.44,1094.49 L598.36,1097.52 L601.29,1100.52 L604.25,1103.5 L607.23,1106.46 L610.23,1109.39 L613.26,1112.29 L616.31,1115.17 L619.39,1118.02 L622.5,1120.83 L625.64,1123.62 L628.81,1126.37 L632,1129.09 L635.22,1131.79 L638.47,1134.45 L641.74,1137.07 L645.04,1139.67 L648.37,1142.24 L651.72,1144.77 L655.09,1147.27 L658.49,1149.74 L661.91,1152.17 L665.36,1154.57 L668.83,1156.94 L672.32,1159.28 L675.83,1161.58 L679.37,1163.85 L682.92,1166.08 L686.5,1168.28 L690.1,1170.45 L693.72,1172.58 L697.35,1174.68 L701.01,1176.75 L704.69,1178.77 L708.38,1180.77 L712.09,1182.73 L715.82,1184.65 L719.57,1186.54 L723.34,1188.39 L727.12,1190.21 L730.91,1191.99 L734.73,1193.73 L738.55,1195.44 L742.4,1197.11 L746.26,1198.75 L750.13,1200.34 L754.01,1201.9 L757.91,1203.43 L761.82,1204.91 L765.75,1206.36 L769.68,1207.77 L773.63,1209.15 L777.59,1210.48 L781.56,1211.78 L785.54,1213.03 L789.53,1214.25 L793.53,1215.44 L797.54,1216.58 L801.57,1217.7 L805.6,1218.77 L809.63,1219.81 L813.68,1220.82 L817.74,1221.79 L821.8,1222.73 L825.87,1223.63 L829.96,1224.51 L834.04,1225.35 L838.14,1226.16 L842.24,1226.94 L846.35,1227.69 L850.47,1228.42 L854.59,1229.11 L858.72,1229.78 L862.85,1230.41 L866.99,1231.02 L871.14,1231.61 L875.29,1232.17 L879.45,1232.7 L883.61,1233.21 L887.77,1233.69 L891.94,1234.15 L896.12,1234.59 L900.29,1235 L904.47,1235.4 L908.66,1235.77 L912.85,1236.12 L917.04,1236.45 L921.23,1236.76 L925.42,1237.05 L929.62,1237.33 L933.82,1237.58 L938.02,1237.82 L942.22,1238.04 L946.42,1238.24 L950.63,1238.43 L954.83,1238.61 L959.04,1238.76 L963.24,1238.91 L967.44,1239.04 L971.65,1239.16 L975.85,1239.27 L980.05,1239.36" stroke="#808080" stroke-width="3.5" fill="none" stroke-dasharray="3.5 5.8"/>
<path d="M191.4,1385.2 L205,1398.8 M191.4,1398.8 L205,1385.2 M246.85,1105.2 L260.45,1118.8 M246.85,1118.8 L260.45,1105.2 M302.3,944.2 L315.9,957.8 M302.3,957.8 L315.9,944.2 M357.75,885.7 L371.35,899.3 M357.75,899.3 L371.35,885.7 M413.2,894.2 L426.8,907.8 M413.2,907.8 L426.8,894.2 M468.65,946.2 L482.25,959.8 M468.65,959.8 L482.25,946.2 M524.1,1013.2 L537.7,1026.8 M524.1,1026.8 L537.7,1013.2 M579.55,1076.7 L593.15,1090.3 M579.55,1090.3 L593.15,1076.7 M635,1131.7 L648.6,1145.3 M635,1145.3 L648.6,1131.7 M690.45,1172.8 L704.05,1186.4 M690.45,1186.4 L704.05,1172.8 M745.9,1200.2 L759.5,1213.8 M745.9,1213.8 L759.5,1200.2 M801.35,1216.2 L814.95,1229.8 M801.35,1229.8 L814.95,1216.2 M856.8,1224.8 L870.4,1238.4 M856.8,1238.4 L870.4,1224.8 M912.25,1230.2 L925.85,1243.8 M912.25,1243.8 L925.85,1230.2 " stroke="#808080" stroke-width="2.45" fill="none"/>
<path d="M166.5,1429.89 L167.21,1425.6 L167.92,1421.3 L168.62,1417 L169.32,1412.7 L170.02,1408.4 L170.71,1404.1 L171.4,1399.79 L172.09,1395.48 L172.78,1391.17 L173.47,1386.86 L174.15,1382.55 L174.83,1378.24 L175.51,1373.92 L176.19,1369.6 L176.87,1365.29 L177.55,1360.97 L178.23,1356.65 L178.91,1352.33 L179.59,1348.01 L180.28,1343.69 L180.96,1339.37 L181.64,1335.05 L182.33,1330.73 L183.01,1326.41 L183.7,1322.08 L184.4,1317.76 L185.09,1313.44 L185.79,1309.12 L186.49,1304.8 L187.19,1300.48 L187.9,1296.16 L188.62,1291.84 L189.33,1287.52 L190.05,1283.2 L190.78,1278.88 L191.51,1274.57 L192.25,1270.25 L192.99,1265.93 L193.74,1261.62 L194.49,1257.31 L195.26,1253 L196.02,1248.69 L196.8,1244.38 L197.58,1240.08 L198.37,1235.77 L199.17,1231.47 L199.98,1227.17 L200.79,1222.87 L201.61,1218.57 L202.44,1214.28 L203.29,1209.99 L204.14,1205.7 L205,1201.41 L205.87,1197.13 L206.75,1192.85 L207.64,1188.57 L208.54,1184.29 L209.45,1180.02 L210.38,1175.75 L211.31,1171.48 L212.26,1167.22 L213.22,1162.96 L214.2,1158.7 L215.18,1154.45 L216.18,1150.2 L217.19,1145.96 L218.22,1141.71 L219.25,1137.48 L220.31,1133.24 L221.38,1129.01 L222.46,1124.79 L223.55,1120.56 L224.67,1116.35 L225.79,1112.13 L226.94,1107.93 L228.1,1103.72 L229.27,1099.52 L230.46,1095.33 L231.67,1091.14 L232.89,1086.95 L234.14,1082.77 L235.39,1078.59 L236.67,1074.42 L237.96,1070.25 L239.27,1066.08 L240.6,1061.92 L241.95,1057.77 L243.32,1053.62 L244.7,1049.47 L246.11,1045.32 L247.53,1041.18 L248.97,1037.05 L250.43,1032.91 L251.91,1028.78 L253.41,1024.66 L254.95,1020.54 L256.52,1016.44 L258.13,1012.35 L259.8,1008.27 L261.54,1004.22 L263.34,1000.2 L265.23,996.2 L267.2,992.23 L269.28,988.3 L271.46,984.41 L273.75,980.56 L276.17,976.76 L278.72,973.02 L281.39,969.36 L284.19,965.82 L287.12,962.43 L290.18,959.2 L293.36,956.17 L296.66,953.37 L300.09,950.82 L303.65,948.55 L307.33,946.58 L311.12,944.94 L315.02,943.61 L318.99,942.61 L323.02,941.94 L327.1,941.58 L331.19,941.53 L335.29,941.81 L339.38,942.41 L343.42,943.31 L347.42,944.54 L351.36,946.05 L355.24,947.84 L359.06,949.88 L362.82,952.14 L366.52,954.6 L370.15,957.23 L373.73,960.02 L377.23,962.95 L380.68,965.97 L384.05,969.08 L387.36,972.25 L390.6,975.46 L393.78,978.7 L396.89,981.95 L399.94,985.24 L402.94,988.54 L405.88,991.87 L408.77,995.21 L411.61,998.58 L414.4,1001.96 L417.16,1005.36 L419.88,1008.77 L422.56,1012.2 L425.21,1015.64 L427.83,1019.09 L430.43,1022.55 L433,1026.02 L435.56,1029.5 L438.1,1032.99 L440.62,1036.48 L443.14,1039.98 L445.65,1043.48 L448.15,1046.99 L450.66,1050.49 L453.17,1054 L455.68,1057.5 L458.21,1061 L460.74,1064.5 L463.3,1067.99 L465.87,1071.48 L468.46,1074.96 L471.08,1078.43 L473.72,1081.89 L476.39,1085.34 L479.08,1088.78 L481.8,1092.21 L484.55,1095.63 L487.32,1099.03 L490.12,1102.41 L492.94,1105.79 L495.79,1109.14 L498.66,1112.48 L501.56,1115.8 L504.49,1119.1 L507.44,1122.38 L510.41,1125.64 L513.41,1128.87 L516.44,1132.09 L519.49,1135.28 L522.57,1138.44 L525.67,1141.58 L528.8,1144.69 L531.95,1147.78 L535.13,1150.84 L538.33,1153.86 L541.56,1156.86 L544.81,1159.83 L548.09,1162.76 L551.39,1165.66 L554.72,1168.53 L558.08,1171.37 L561.46,1174.16 L564.86,1176.92 L568.29,1179.65 L571.74,1182.33 L575.22,1184.98 L578.72,1187.58 L582.25,1190.15 L585.8,1192.67 L589.38,1195.15 L592.98,1197.59 L596.61,1199.98 L600.26,1202.33 L603.94,1204.62 L607.64,1206.88 L611.36,1209.08 L615.11,1211.23 L618.89,1213.34 L622.69,1215.39 L626.51,1217.39 L630.36,1219.34 L634.23,1221.23 L638.13,1223.07 L642.05,1224.86 L646,1226.59 L649.97,1228.26 L653.97,1229.87 L657.99,1231.42 L662.03,1232.91 L666.1,1234.34 L670.19,1235.71 L674.31,1237.02 L678.45,1238.26 L682.61,1239.44 L686.8,1240.55 L691.01,1241.6 L695.25,1242.58 L699.51,1243.49 L703.8,1244.33 L708.1,1245.1 L712.43,1245.82 L716.78,1246.47 L721.15,1247.06 L725.53,1247.59 L729.93,1248.07 L734.34,1248.5 L738.77,1248.88 L743.21,1249.22 L747.66,1249.51 L752.12,1249.76 L756.58,1249.96 L761.06,1250.14 L765.53,1250.28 L770.02,1250.38 L774.5,1250.46 L778.98,1250.51 L783.47,1250.54 L787.95,1250.54 L792.43,1250.53 L796.9,1250.5 L801.37,1250.45 L805.83,1250.4 L810.28,1250.33 L814.73,1250.26 L819.16,1250.18 L823.58,1250.1 L827.98,1250.02 L832.37,1249.95 L836.74,1249.88 L841.1,1249.82 L845.43,1249.76 L849.75,1249.72 L854.05,1249.69 L858.34,1249.66 L862.62,1249.64 L866.89,1249.62 L871.15,1249.61 L875.4,1249.6 L879.65,1249.6 L883.89,1249.59 L888.14,1249.59 L892.38,1249.58 L896.63,1249.58 L900.88,1249.57 L905.14,1249.55 L909.41,1249.54 L913.68,1249.51 L917.97,1249.48 L922.28,1249.44 L926.59,1249.39 L930.93,1249.33 L935.29,1249.26 L939.66,1249.18 L944.06,1249.09 L948.49,1248.98 L952.94,1248.86 L957.42,1248.72 L961.92,1248.56 L966.47,1248.38 L971.04,1248.19 L975.65,1247.97 L980.3,1247.74" stroke="#140e36" stroke-width="3.5" fill="none"/>
<path d="M177.42,1429.87 L178.14,1425.98 L178.86,1422.1 L179.57,1418.21 L180.29,1414.32 L181,1410.44 L181.72,1406.55 L182.44,1402.66 L183.16,1398.77 L183.87,1394.88 L184.59,1390.99 L185.31,1387.1 L186.04,1383.2 L186.76,1379.31 L187.49,1375.42 L188.22,1371.53 L188.95,1367.64 L189.68,1363.75 L190.42,1359.86 L191.16,1355.97 L191.9,1352.08 L192.65,1348.19 L193.4,1344.3 L194.15,1340.41 L194.91,1336.52 L195.67,1332.63 L196.43,1328.75 L197.21,1324.86 L197.98,1320.98 L198.76,1317.09 L199.55,1313.21 L200.34,1309.33 L201.14,1305.45 L201.94,1301.57 L202.75,1297.69 L203.57,1293.82 L204.39,1289.94 L205.22,1286.07 L206.05,1282.2 L206.9,1278.33 L207.75,1274.46 L208.61,1270.6 L209.47,1266.73 L210.35,1262.87 L211.23,1259.01 L212.12,1255.16 L213.02,1251.3 L213.93,1247.45 L214.85,1243.6 L215.77,1239.75 L216.71,1235.91 L217.65,1232.07 L218.61,1228.23 L219.58,1224.39 L220.55,1220.56 L221.54,1216.73 L222.53,1212.9 L223.54,1209.07 L224.56,1205.25 L225.59,1201.43 L226.63,1197.62 L227.69,1193.81 L228.75,1190 L229.83,1186.19 L230.92,1182.39 L232.03,1178.6 L233.14,1174.8 L234.27,1171.01 L235.41,1167.23 L236.57,1163.45 L237.74,1159.67 L238.92,1155.9 L240.12,1152.13 L241.33,1148.36 L242.55,1144.6 L243.79,1140.84 L245.05,1137.09 L246.32,1133.35 L247.6,1129.6 L248.9,1125.86 L250.22,1122.13 L251.55,1118.4 L252.9,1114.68 L254.27,1110.96 L255.65,1107.25 L257.05,1103.54 L258.46,1099.84 L259.9,1096.15 L261.36,1092.46 L262.86,1088.79 L264.39,1085.14 L265.95,1081.5 L267.56,1077.88 L269.21,1074.28 L270.91,1070.7 L272.66,1067.15 L274.47,1063.63 L276.33,1060.13 L278.26,1056.67 L280.26,1053.24 L282.33,1049.85 L284.48,1046.5 L286.7,1043.18 L289.01,1039.91 L291.4,1036.69 L293.88,1033.52 L296.46,1030.42 L299.13,1027.41 L301.9,1024.51 L304.77,1021.73 L307.74,1019.11 L310.82,1016.64 L314,1014.36 L317.3,1012.27 L320.72,1010.4 L324.25,1008.77 L327.9,1007.39 L331.65,1006.27 L335.47,1005.4 L339.33,1004.79 L343.19,1004.42 L347.03,1004.29 L350.85,1004.4 L354.63,1004.72 L358.39,1005.26 L362.12,1005.99 L365.82,1006.92 L369.49,1008.01 L373.13,1009.27 L376.74,1010.69 L380.32,1012.24 L383.87,1013.93 L387.4,1015.73 L390.89,1017.65 L394.35,1019.65 L397.79,1021.75 L401.19,1023.91 L404.57,1026.14 L407.91,1028.42 L411.23,1030.74 L414.51,1033.09 L417.77,1035.47 L420.99,1037.88 L424.19,1040.31 L427.37,1042.77 L430.52,1045.25 L433.65,1047.76 L436.75,1050.28 L439.83,1052.83 L442.89,1055.4 L445.94,1057.98 L448.96,1060.58 L451.97,1063.2 L454.96,1065.83 L457.94,1068.47 L460.9,1071.13 L463.85,1073.79 L466.79,1076.47 L469.72,1079.15 L472.64,1081.84 L475.55,1084.54 L478.45,1087.24 L481.35,1089.95 L484.24,1092.65 L487.13,1095.36 L490.02,1098.07 L492.9,1100.77 L495.78,1103.48 L498.66,1106.17 L501.55,1108.87 L504.43,1111.56 L507.32,1114.24 L510.22,1116.91 L513.12,1119.57 L516.03,1122.22 L518.94,1124.86 L521.87,1127.48 L524.8,1130.09 L527.75,1132.68 L530.7,1135.26 L533.67,1137.82 L536.66,1140.35 L539.66,1142.87 L542.68,1145.37 L545.71,1147.84 L548.77,1150.28 L551.84,1152.7 L554.93,1155.1 L558.05,1157.46 L561.19,1159.8 L564.35,1162.11 L567.54,1164.38 L570.76,1166.62 L574,1168.83 L577.27,1171 L580.56,1173.14 L583.88,1175.24 L587.23,1177.31 L590.6,1179.35 L593.99,1181.35 L597.41,1183.32 L600.84,1185.25 L604.3,1187.15 L607.79,1189.01 L611.29,1190.84 L614.81,1192.63 L618.36,1194.39 L621.92,1196.12 L625.5,1197.8 L629.1,1199.46 L632.72,1201.08 L636.35,1202.66 L640.01,1204.21 L643.67,1205.72 L647.36,1207.19 L651.06,1208.63 L654.77,1210.04 L658.5,1211.41 L662.24,1212.74 L665.99,1214.04 L669.76,1215.3 L673.54,1216.52 L677.33,1217.71 L681.13,1218.87 L684.94,1219.98 L688.76,1221.06 L692.59,1222.1 L696.43,1223.11 L700.28,1224.08 L704.13,1225.01 L707.99,1225.91 L711.86,1226.77 L715.73,1227.59 L719.61,1228.38 L723.5,1229.13 L727.39,1229.84 L731.28,1230.51 L735.18,1231.15 L739.08,1231.75 L742.98,1232.32 L746.89,1232.86 L750.8,1233.36 L754.71,1233.84 L758.63,1234.28 L762.55,1234.69 L766.48,1235.08 L770.4,1235.44 L774.33,1235.78 L778.26,1236.09 L782.2,1236.38 L786.14,1236.64 L790.07,1236.88 L794.02,1237.11 L797.96,1237.31 L801.91,1237.5 L805.85,1237.67 L809.8,1237.82 L813.75,1237.96 L817.71,1238.09 L821.66,1238.2 L825.62,1238.3 L829.58,1238.4 L833.53,1238.48 L837.49,1238.55 L841.46,1238.62 L845.42,1238.68 L849.38,1238.73 L853.34,1238.78 L857.31,1238.83 L861.27,1238.88 L865.24,1238.92 L869.2,1238.97 L873.17,1239.02 L877.14,1239.07 L881.1,1239.12 L885.07,1239.18 L889.03,1239.24 L893,1239.31 L896.96,1239.39 L900.93,1239.47 L904.89,1239.57 L908.86,1239.68 L912.82,1239.79 L916.78,1239.93 L920.74,1240.07 L924.7,1240.24 L928.66,1240.41 L932.62,1240.61 L936.57,1240.82 L940.53,1241.06 L944.48,1241.31 L948.43,1241.59 L952.38,1241.89 L956.33,1242.21 L960.28,1242.56 L964.22,1242.93 L968.16,1243.33 L972.1,1243.76 L976.04,1244.22 L979.97,1244.71" stroke="#140e36" stroke-width="3.5" fill="none" stroke-dasharray="3.5 5.8"/>
<path d="M188.21,1429.85 L188.98,1426.19 L189.74,1422.53 L190.5,1418.88 L191.26,1415.22 L192.01,1411.56 L192.76,1407.91 L193.5,1404.26 L194.25,1400.6 L194.99,1396.95 L195.74,1393.3 L196.48,1389.65 L197.22,1386 L197.96,1382.35 L198.7,1378.7 L199.44,1375.06 L200.18,1371.41 L200.92,1367.77 L201.66,1364.13 L202.41,1360.49 L203.16,1356.85 L203.91,1353.21 L204.66,1349.58 L205.41,1345.94 L206.17,1342.31 L206.93,1338.68 L207.7,1335.05 L208.47,1331.43 L209.25,1327.8 L210.03,1324.18 L210.82,1320.56 L211.61,1316.95 L212.41,1313.33 L213.21,1309.72 L214.02,1306.11 L214.84,1302.5 L215.66,1298.9 L216.5,1295.29 L217.34,1291.69 L218.19,1288.1 L219.05,1284.5 L219.92,1280.91 L220.79,1277.33 L221.68,1273.74 L222.58,1270.16 L223.49,1266.58 L224.41,1263.01 L225.34,1259.43 L226.28,1255.87 L227.23,1252.3 L228.2,1248.74 L229.17,1245.18 L230.16,1241.63 L231.17,1238.08 L232.19,1234.53 L233.22,1230.99 L234.26,1227.45 L235.32,1223.91 L236.4,1220.38 L237.49,1216.86 L238.59,1213.33 L239.72,1209.82 L240.85,1206.3 L242.01,1202.79 L243.18,1199.29 L244.37,1195.79 L245.57,1192.29 L246.8,1188.8 L248.04,1185.31 L249.3,1181.83 L250.58,1178.36 L251.88,1174.88 L253.2,1171.42 L254.54,1167.96 L255.89,1164.5 L257.27,1161.05 L258.67,1157.6 L260.1,1154.16 L261.54,1150.72 L263,1147.29 L264.49,1143.87 L266,1140.45 L267.53,1137.04 L269.09,1133.63 L270.67,1130.23 L272.28,1126.83 L273.9,1123.44 L275.56,1120.06 L277.23,1116.68 L278.94,1113.31 L280.67,1109.94 L282.42,1106.58 L284.2,1103.23 L286.02,1099.89 L287.87,1096.58 L289.78,1093.3 L291.73,1090.07 L293.75,1086.89 L295.83,1083.77 L298,1080.73 L300.24,1077.77 L302.57,1074.91 L305,1072.15 L307.54,1069.5 L310.19,1066.97 L312.95,1064.58 L315.83,1062.33 L318.83,1060.23 L321.92,1058.29 L325.1,1056.52 L328.36,1054.93 L331.68,1053.53 L335.06,1052.32 L338.49,1051.33 L341.95,1050.55 L345.44,1049.99 L348.95,1049.63 L352.49,1049.47 L356.04,1049.5 L359.61,1049.71 L363.18,1050.1 L366.77,1050.64 L370.36,1051.33 L373.95,1052.17 L377.54,1053.13 L381.12,1054.23 L384.7,1055.43 L388.27,1056.74 L391.82,1058.15 L395.35,1059.64 L398.86,1061.2 L402.34,1062.84 L405.8,1064.53 L409.22,1066.27 L412.62,1068.06 L415.97,1069.87 L419.3,1071.73 L422.59,1073.62 L425.85,1075.54 L429.09,1077.49 L432.29,1079.47 L435.47,1081.49 L438.63,1083.53 L441.76,1085.59 L444.86,1087.68 L447.94,1089.8 L451.01,1091.93 L454.05,1094.09 L457.08,1096.27 L460.08,1098.46 L463.07,1100.67 L466.05,1102.9 L469.01,1105.14 L471.96,1107.4 L474.9,1109.66 L477.83,1111.94 L480.75,1114.22 L483.66,1116.52 L486.57,1118.82 L489.47,1121.12 L492.36,1123.43 L495.26,1125.74 L498.15,1128.05 L501.04,1130.36 L503.93,1132.67 L506.82,1134.98 L509.72,1137.28 L512.62,1139.57 L515.52,1141.86 L518.44,1144.14 L521.36,1146.41 L524.29,1148.67 L527.22,1150.92 L530.17,1153.15 L533.14,1155.37 L536.11,1157.57 L539.11,1159.76 L542.11,1161.92 L545.14,1164.07 L548.18,1166.19 L551.24,1168.29 L554.33,1170.37 L557.43,1172.42 L560.56,1174.45 L563.71,1176.45 L566.87,1178.42 L570.06,1180.37 L573.27,1182.29 L576.49,1184.18 L579.74,1186.05 L583,1187.89 L586.28,1189.7 L589.58,1191.48 L592.89,1193.24 L596.22,1194.97 L599.57,1196.67 L602.93,1198.34 L606.3,1199.98 L609.69,1201.59 L613.1,1203.18 L616.52,1204.73 L619.95,1206.25 L623.39,1207.75 L626.85,1209.21 L630.32,1210.64 L633.8,1212.05 L637.29,1213.42 L640.79,1214.76 L644.3,1216.06 L647.82,1217.34 L651.35,1218.59 L654.89,1219.8 L658.43,1220.98 L661.99,1222.12 L665.55,1223.24 L669.12,1224.32 L672.7,1225.37 L676.28,1226.38 L679.86,1227.36 L683.46,1228.31 L687.06,1229.23 L690.66,1230.12 L694.28,1230.97 L697.89,1231.8 L701.52,1232.6 L705.14,1233.37 L708.78,1234.11 L712.41,1234.82 L716.06,1235.51 L719.71,1236.17 L723.36,1236.8 L727.02,1237.41 L730.68,1237.99 L734.34,1238.55 L738.01,1239.08 L741.69,1239.59 L745.37,1240.08 L749.05,1240.55 L752.74,1240.99 L756.43,1241.41 L760.12,1241.81 L763.82,1242.2 L767.52,1242.56 L771.22,1242.9 L774.93,1243.22 L778.64,1243.53 L782.35,1243.82 L786.06,1244.09 L789.78,1244.34 L793.5,1244.58 L797.22,1244.81 L800.95,1245.02 L804.68,1245.21 L808.4,1245.39 L812.14,1245.56 L815.87,1245.71 L819.6,1245.86 L823.34,1245.99 L827.07,1246.11 L830.81,1246.22 L834.55,1246.31 L838.29,1246.4 L842.03,1246.48 L845.77,1246.56 L849.52,1246.62 L853.26,1246.68 L857,1246.73 L860.75,1246.77 L864.49,1246.81 L868.23,1246.84 L871.98,1246.87 L875.72,1246.9 L879.47,1246.92 L883.21,1246.93 L886.95,1246.95 L890.69,1246.96 L894.43,1246.97 L898.17,1246.98 L901.91,1246.99 L905.65,1247 L909.39,1247.01 L913.12,1247.03 L916.86,1247.04 L920.59,1247.05 L924.32,1247.07 L928.05,1247.1 L931.77,1247.12 L935.5,1247.15 L939.22,1247.19 L942.94,1247.23 L946.66,1247.28 L950.37,1247.33 L954.08,1247.39 L957.79,1247.46 L961.5,1247.53 L965.2,1247.62 L968.9,1247.71 L972.6,1247.82 L976.29,1247.93 L979.98,1248.06" stroke="#3b0f70" stroke-width="3.5" fill="none"/>
<path d="M211.6,1312.68 V1321.28 M268.88,1129.79 V1138.39 M326.16,1051.7 V1060.3 M383.44,1050.71 V1059.31 M440.72,1080.61 V1089.21 M498,1122.67 V1133.19 M555.28,1164.59 V1177.4 M612.56,1195.37 V1210.48 M669.84,1216.23 V1232.83 M727.12,1229.12 V1245.72 M784.4,1235.67 V1252.27 M841.68,1238.18 V1254.78 M898.96,1238.68 V1255.28 M956.24,1239.13 V1255.73 " stroke="#3b0f70" stroke-width="3.5" fill="none"/>
<path d="M190.27,1429.95 L190.95,1426.36 L191.62,1422.77 L192.3,1419.19 L192.98,1415.6 L193.67,1412.02 L194.36,1408.43 L195.05,1404.84 L195.75,1401.26 L196.45,1397.67 L197.16,1394.09 L197.87,1390.5 L198.58,1386.92 L199.3,1383.33 L200.03,1379.75 L200.76,1376.17 L201.49,1372.59 L202.24,1369.01 L202.98,1365.43 L203.74,1361.85 L204.5,1358.27 L205.27,1354.7 L206.04,1351.12 L206.83,1347.55 L207.61,1343.98 L208.41,1340.41 L209.22,1336.84 L210.03,1333.27 L210.85,1329.71 L211.68,1326.15 L212.52,1322.59 L213.36,1319.03 L214.22,1315.48 L215.09,1311.92 L215.96,1308.37 L216.84,1304.83 L217.74,1301.28 L218.64,1297.74 L219.56,1294.2 L220.48,1290.67 L221.42,1287.13 L222.36,1283.61 L223.32,1280.08 L224.29,1276.56 L225.27,1273.04 L226.26,1269.52 L227.27,1266.01 L228.29,1262.5 L229.31,1259 L230.36,1255.5 L231.41,1252 L232.48,1248.51 L233.56,1245.02 L234.65,1241.54 L235.76,1238.06 L236.88,1234.58 L238.02,1231.11 L239.17,1227.64 L240.33,1224.18 L241.51,1220.73 L242.7,1217.28 L243.91,1213.83 L245.14,1210.39 L246.37,1206.95 L247.63,1203.52 L248.9,1200.1 L250.19,1196.68 L251.49,1193.27 L252.81,1189.86 L254.15,1186.46 L255.51,1183.06 L256.88,1179.67 L258.27,1176.29 L259.68,1172.92 L261.11,1169.56 L262.57,1166.21 L264.04,1162.87 L265.53,1159.53 L267.04,1156.21 L268.58,1152.9 L270.14,1149.61 L271.72,1146.32 L273.32,1143.05 L274.95,1139.79 L276.6,1136.54 L278.28,1133.31 L279.98,1130.1 L281.71,1126.9 L283.46,1123.71 L285.24,1120.55 L287.05,1117.4 L288.88,1114.26 L290.74,1111.15 L292.63,1108.05 L294.55,1104.97 L296.5,1101.92 L298.48,1098.88 L300.49,1095.86 L302.53,1092.86 L304.61,1089.89 L306.73,1086.96 L308.9,1084.1 L311.16,1081.34 L313.52,1078.69 L315.99,1076.2 L318.58,1073.89 L321.33,1071.77 L324.23,1069.89 L327.32,1068.26 L330.58,1066.89 L333.99,1065.76 L337.52,1064.85 L341.15,1064.15 L344.86,1063.64 L348.62,1063.31 L352.41,1063.14 L356.21,1063.11 L359.98,1063.21 L363.72,1063.43 L367.42,1063.75 L371.07,1064.18 L374.68,1064.71 L378.25,1065.34 L381.78,1066.07 L385.28,1066.89 L388.74,1067.8 L392.17,1068.8 L395.56,1069.89 L398.92,1071.06 L402.26,1072.3 L405.56,1073.62 L408.83,1075.02 L412.08,1076.48 L415.3,1078.02 L418.49,1079.61 L421.66,1081.27 L424.81,1082.98 L427.94,1084.75 L431.05,1086.58 L434.14,1088.45 L437.22,1090.37 L440.27,1092.33 L443.32,1094.33 L446.35,1096.37 L449.36,1098.44 L452.37,1100.55 L455.37,1102.68 L458.36,1104.84 L461.34,1107.02 L464.31,1109.23 L467.28,1111.45 L470.25,1113.68 L473.21,1115.92 L476.17,1118.17 L479.14,1120.43 L482.1,1122.69 L485.07,1124.94 L488.04,1127.2 L491.01,1129.44 L493.99,1131.68 L496.98,1133.9 L499.98,1136.11 L502.99,1138.3 L506,1140.48 L509.02,1142.64 L512.06,1144.78 L515.1,1146.9 L518.15,1149.01 L521.21,1151.1 L524.28,1153.17 L527.35,1155.22 L530.44,1157.26 L533.53,1159.28 L536.63,1161.28 L539.75,1163.26 L542.87,1165.22 L545.99,1167.16 L549.13,1169.09 L552.28,1170.99 L555.43,1172.87 L558.59,1174.74 L561.77,1176.58 L564.95,1178.41 L568.14,1180.21 L571.33,1181.99 L574.54,1183.76 L577.75,1185.5 L580.98,1187.22 L584.21,1188.92 L587.45,1190.59 L590.7,1192.25 L593.96,1193.88 L597.22,1195.49 L600.5,1197.08 L603.78,1198.65 L607.07,1200.19 L610.37,1201.71 L613.68,1203.21 L616.99,1204.68 L620.32,1206.13 L623.65,1207.56 L626.99,1208.96 L630.34,1210.34 L633.7,1211.69 L637.07,1213.02 L640.44,1214.33 L643.83,1215.61 L647.22,1216.86 L650.62,1218.09 L654.02,1219.29 L657.44,1220.47 L660.87,1221.62 L664.3,1222.75 L667.74,1223.85 L671.19,1224.92 L674.65,1225.97 L678.11,1226.99 L681.59,1227.98 L685.07,1228.94 L688.56,1229.88 L692.06,1230.79 L695.56,1231.67 L699.08,1232.53 L702.6,1233.35 L706.13,1234.15 L709.67,1234.92 L713.22,1235.66 L716.77,1236.37 L720.34,1237.05 L723.91,1237.7 L727.49,1238.32 L731.08,1238.91 L734.67,1239.48 L738.27,1240.01 L741.88,1240.52 L745.5,1241 L749.12,1241.46 L752.75,1241.89 L756.39,1242.29 L760.03,1242.67 L763.68,1243.03 L767.33,1243.36 L770.99,1243.68 L774.65,1243.97 L778.32,1244.24 L781.99,1244.49 L785.67,1244.73 L789.35,1244.94 L793.04,1245.14 L796.72,1245.32 L800.41,1245.48 L804.11,1245.63 L807.8,1245.76 L811.5,1245.88 L815.2,1245.98 L818.91,1246.08 L822.61,1246.16 L826.32,1246.23 L830.02,1246.28 L833.73,1246.33 L837.44,1246.37 L841.15,1246.4 L844.86,1246.43 L848.57,1246.44 L852.28,1246.45 L855.98,1246.45 L859.69,1246.45 L863.4,1246.45 L867.1,1246.44 L870.8,1246.42 L874.5,1246.41 L878.2,1246.39 L881.9,1246.38 L885.59,1246.36 L889.28,1246.34 L892.97,1246.33 L896.66,1246.31 L900.34,1246.3 L904.01,1246.3 L907.69,1246.29 L911.35,1246.29 L915.02,1246.3 L918.68,1246.31 L922.33,1246.33 L925.98,1246.36 L929.62,1246.4 L933.26,1246.44 L936.89,1246.5 L940.51,1246.56 L944.13,1246.64 L947.74,1246.73 L951.34,1246.83 L954.94,1246.94 L958.52,1247.07 L962.1,1247.21 L965.68,1247.37 L969.24,1247.54 L972.79,1247.73 L976.34,1247.94 L979.88,1248.17" stroke="#641a80" stroke-width="3.5" fill="none"/>
<path d="M211.6,1322.19 V1330.79 M268.88,1147.96 V1156.56 M326.16,1064.57 V1073.17 M383.44,1062.16 V1070.76 M440.72,1088.32 V1096.92 M498,1129.39 V1139.91 M555.28,1166.38 V1179.19 M612.56,1195.15 V1210.25 M669.84,1216.2 V1232.8 M727.12,1229.96 V1246.56 M784.4,1236.35 V1252.95 M841.68,1238.11 V1254.71 M898.96,1238.01 V1254.61 M956.24,1238.69 V1255.29 " stroke="#641a80" stroke-width="3.5" fill="none"/>
<path d="M190.64,1429.92 L191.42,1426.45 L192.18,1422.97 L192.94,1419.49 L193.69,1416.01 L194.42,1412.52 L195.16,1409.04 L195.88,1405.55 L196.6,1402.06 L197.32,1398.56 L198.04,1395.07 L198.75,1391.58 L199.46,1388.08 L200.17,1384.59 L200.88,1381.09 L201.59,1377.6 L202.3,1374.1 L203.02,1370.61 L203.74,1367.12 L204.46,1363.62 L205.19,1360.13 L205.93,1356.64 L206.67,1353.15 L207.43,1349.66 L208.19,1346.18 L208.96,1342.7 L209.74,1339.22 L210.53,1335.74 L211.34,1332.26 L212.16,1328.79 L212.99,1325.32 L213.84,1321.86 L214.71,1318.4 L215.59,1314.94 L216.49,1311.49 L217.41,1308.04 L218.35,1304.6 L219.31,1301.16 L220.28,1297.73 L221.28,1294.3 L222.29,1290.87 L223.32,1287.46 L224.37,1284.04 L225.44,1280.64 L226.52,1277.23 L227.62,1273.84 L228.74,1270.45 L229.87,1267.06 L231.02,1263.68 L232.19,1260.31 L233.37,1256.94 L234.57,1253.58 L235.79,1250.23 L237.02,1246.88 L238.27,1243.54 L239.53,1240.2 L240.81,1236.87 L242.1,1233.55 L243.4,1230.24 L244.72,1226.93 L246.06,1223.63 L247.4,1220.33 L248.77,1217.05 L250.14,1213.77 L251.53,1210.5 L252.93,1207.23 L254.35,1203.98 L255.77,1200.73 L257.21,1197.49 L258.66,1194.25 L260.13,1191.03 L261.6,1187.81 L263.09,1184.6 L264.59,1181.39 L266.1,1178.19 L267.63,1174.99 L269.17,1171.79 L270.72,1168.6 L272.28,1165.4 L273.86,1162.2 L275.45,1159.01 L277.05,1155.81 L278.66,1152.6 L280.29,1149.39 L281.93,1146.18 L283.58,1142.96 L285.25,1139.73 L286.94,1136.51 L288.65,1133.29 L290.39,1130.08 L292.17,1126.91 L294,1123.78 L295.88,1120.7 L297.83,1117.67 L299.84,1114.72 L301.94,1111.85 L304.11,1109.08 L306.38,1106.4 L308.75,1103.84 L311.23,1101.4 L313.82,1099.1 L316.52,1096.93 L319.33,1094.89 L322.23,1092.99 L325.22,1091.22 L328.3,1089.58 L331.45,1088.07 L334.68,1086.69 L337.96,1085.44 L341.31,1084.32 L344.7,1083.32 L348.13,1082.45 L351.61,1081.7 L355.11,1081.07 L358.63,1080.57 L362.17,1080.19 L365.72,1079.92 L369.27,1079.78 L372.82,1079.76 L376.36,1079.85 L379.88,1080.06 L383.37,1080.38 L386.84,1080.82 L390.28,1081.37 L393.68,1082.02 L397.06,1082.78 L400.42,1083.64 L403.74,1084.59 L407.05,1085.63 L410.33,1086.77 L413.58,1087.98 L416.81,1089.28 L420.03,1090.66 L423.22,1092.1 L426.39,1093.62 L429.55,1095.21 L432.69,1096.85 L435.81,1098.56 L438.91,1100.32 L442,1102.13 L445.08,1103.99 L448.14,1105.89 L451.2,1107.83 L454.24,1109.81 L457.27,1111.82 L460.3,1113.86 L463.31,1115.93 L466.32,1118.01 L469.32,1120.12 L472.32,1122.24 L475.31,1124.37 L478.3,1126.5 L481.29,1128.64 L484.27,1130.78 L487.26,1132.92 L490.24,1135.04 L493.23,1137.16 L496.22,1139.26 L499.21,1141.34 L502.21,1143.4 L505.21,1145.44 L508.21,1147.45 L511.22,1149.44 L514.23,1151.42 L517.25,1153.37 L520.28,1155.3 L523.31,1157.2 L526.34,1159.09 L529.38,1160.96 L532.43,1162.8 L535.48,1164.63 L538.54,1166.43 L541.61,1168.21 L544.68,1169.98 L547.76,1171.72 L550.85,1173.45 L553.94,1175.15 L557.04,1176.83 L560.15,1178.5 L563.27,1180.14 L566.39,1181.77 L569.53,1183.38 L572.67,1184.96 L575.82,1186.53 L578.98,1188.08 L582.15,1189.61 L585.33,1191.13 L588.52,1192.62 L591.72,1194.1 L594.92,1195.56 L598.14,1197 L601.37,1198.42 L604.61,1199.83 L607.86,1201.21 L611.12,1202.58 L614.39,1203.94 L617.67,1205.27 L620.96,1206.59 L624.27,1207.89 L627.58,1209.18 L630.91,1210.44 L634.24,1211.69 L637.58,1212.91 L640.94,1214.12 L644.3,1215.31 L647.67,1216.48 L651.05,1217.62 L654.44,1218.75 L657.84,1219.86 L661.24,1220.94 L664.66,1222.01 L668.08,1223.05 L671.51,1224.07 L674.94,1225.07 L678.38,1226.05 L681.83,1227 L685.29,1227.93 L688.75,1228.84 L692.21,1229.72 L695.69,1230.58 L699.16,1231.42 L702.65,1232.23 L706.13,1233.01 L709.63,1233.78 L713.12,1234.51 L716.63,1235.22 L720.13,1235.91 L723.64,1236.57 L727.15,1237.2 L730.67,1237.8 L734.19,1238.38 L737.71,1238.94 L741.24,1239.46 L744.76,1239.97 L748.29,1240.45 L751.83,1240.91 L755.37,1241.34 L758.91,1241.75 L762.45,1242.15 L765.99,1242.52 L769.54,1242.86 L773.09,1243.19 L776.64,1243.51 L780.19,1243.8 L783.75,1244.07 L787.3,1244.33 L790.86,1244.57 L794.43,1244.79 L797.99,1245 L801.55,1245.19 L805.12,1245.37 L808.69,1245.53 L812.25,1245.68 L815.82,1245.82 L819.4,1245.94 L822.97,1246.05 L826.54,1246.16 L830.12,1246.25 L833.69,1246.33 L837.27,1246.4 L840.84,1246.46 L844.42,1246.52 L848,1246.56 L851.58,1246.6 L855.16,1246.63 L858.73,1246.66 L862.31,1246.68 L865.89,1246.7 L869.47,1246.71 L873.05,1246.72 L876.63,1246.72 L880.21,1246.73 L883.79,1246.73 L887.37,1246.73 L890.94,1246.73 L894.52,1246.72 L898.1,1246.72 L901.67,1246.72 L905.25,1246.72 L908.82,1246.73 L912.39,1246.73 L915.97,1246.74 L919.54,1246.75 L923.11,1246.77 L926.68,1246.79 L930.24,1246.82 L933.81,1246.85 L937.37,1246.89 L940.93,1246.94 L944.49,1246.99 L948.05,1247.06 L951.61,1247.13 L955.16,1247.21 L958.72,1247.3 L962.27,1247.4 L965.81,1247.52 L969.36,1247.64 L972.9,1247.78 L976.44,1247.93 L979.98,1248.09" stroke="#8c2981" stroke-width="3.5" fill="none"/>
<path d="M211.6,1326.87 V1335.47 M268.88,1168.09 V1176.69 M326.16,1086.42 V1095.02 M383.44,1076.09 V1084.69 M440.72,1097.08 V1105.68 M498,1135.24 V1145.76 M555.28,1169.47 V1182.28 M612.56,1195.63 V1210.73 M669.84,1215.27 V1231.87 M727.12,1228.89 V1245.49 M784.4,1235.82 V1252.42 M841.68,1238.17 V1254.77 M898.96,1238.42 V1255.02 M956.24,1238.94 V1255.54 " stroke="#8c2981" stroke-width="3.5" fill="none"/>
<path d="M191.68,1429.98 L192.16,1426.54 L192.66,1423.11 L193.19,1419.68 L193.73,1416.25 L194.29,1412.83 L194.87,1409.41 L195.47,1405.99 L196.09,1402.58 L196.73,1399.16 L197.39,1395.76 L198.06,1392.35 L198.75,1388.95 L199.46,1385.55 L200.18,1382.16 L200.92,1378.77 L201.68,1375.38 L202.45,1371.99 L203.24,1368.61 L204.04,1365.23 L204.86,1361.86 L205.69,1358.48 L206.54,1355.12 L207.4,1351.75 L208.27,1348.39 L209.16,1345.03 L210.05,1341.68 L210.96,1338.32 L211.89,1334.98 L212.82,1331.63 L213.77,1328.29 L214.72,1324.95 L215.69,1321.62 L216.67,1318.28 L217.65,1314.96 L218.65,1311.63 L219.65,1308.31 L220.67,1304.99 L221.69,1301.68 L222.72,1298.37 L223.76,1295.06 L224.81,1291.76 L225.86,1288.46 L226.93,1285.16 L227.99,1281.86 L229.07,1278.57 L230.15,1275.29 L231.23,1272 L232.32,1268.72 L233.42,1265.45 L234.52,1262.18 L235.63,1258.91 L236.75,1255.64 L237.88,1252.38 L239.02,1249.13 L240.17,1245.88 L241.33,1242.64 L242.51,1239.4 L243.7,1236.16 L244.9,1232.94 L246.12,1229.71 L247.35,1226.5 L248.6,1223.29 L249.87,1220.09 L251.16,1216.89 L252.47,1213.71 L253.79,1210.52 L255.14,1207.35 L256.51,1204.19 L257.9,1201.03 L259.32,1197.88 L260.76,1194.74 L262.22,1191.61 L263.72,1188.48 L265.24,1185.37 L266.8,1182.27 L268.4,1179.18 L270.03,1176.11 L271.71,1173.05 L273.43,1170 L275.19,1166.97 L277.01,1163.95 L278.88,1160.95 L280.8,1157.97 L282.78,1155.01 L284.82,1152.07 L286.91,1149.15 L289.07,1146.27 L291.27,1143.42 L293.54,1140.6 L295.86,1137.84 L298.23,1135.12 L300.65,1132.46 L303.12,1129.86 L305.64,1127.32 L308.21,1124.86 L310.83,1122.46 L313.5,1120.15 L316.2,1117.92 L318.96,1115.79 L321.75,1113.74 L324.59,1111.8 L327.47,1109.96 L330.39,1108.23 L333.34,1106.62 L336.34,1105.12 L339.37,1103.75 L342.43,1102.51 L345.53,1101.4 L348.67,1100.44 L351.83,1099.61 L355.03,1098.93 L358.25,1098.39 L361.5,1097.99 L364.78,1097.72 L368.07,1097.58 L371.39,1097.55 L374.73,1097.65 L378.08,1097.85 L381.45,1098.17 L384.83,1098.58 L388.22,1099.1 L391.61,1099.71 L395.02,1100.41 L398.42,1101.19 L401.83,1102.05 L405.24,1102.99 L408.65,1103.99 L412.06,1105.07 L415.45,1106.2 L418.85,1107.39 L422.22,1108.63 L425.59,1109.92 L428.95,1111.25 L432.28,1112.62 L435.6,1114.02 L438.9,1115.45 L442.18,1116.9 L445.43,1118.37 L448.67,1119.87 L451.88,1121.38 L455.07,1122.91 L458.24,1124.45 L461.4,1126.02 L464.53,1127.59 L467.66,1129.18 L470.76,1130.79 L473.86,1132.4 L476.93,1134.03 L480,1135.67 L483.06,1137.31 L486.1,1138.97 L489.14,1140.63 L492.17,1142.29 L495.19,1143.97 L498.2,1145.64 L501.21,1147.32 L504.21,1149 L507.21,1150.69 L510.21,1152.37 L513.21,1154.05 L516.2,1155.73 L519.2,1157.41 L522.19,1159.09 L525.19,1160.76 L528.19,1162.42 L531.2,1164.08 L534.21,1165.73 L537.23,1167.37 L540.25,1169 L543.28,1170.63 L546.32,1172.24 L549.37,1173.83 L552.43,1175.42 L555.5,1176.99 L558.59,1178.55 L561.68,1180.09 L564.79,1181.61 L567.91,1183.12 L571.04,1184.62 L574.18,1186.1 L577.33,1187.56 L580.5,1189 L583.67,1190.43 L586.85,1191.84 L590.04,1193.24 L593.24,1194.62 L596.45,1195.98 L599.67,1197.32 L602.9,1198.64 L606.14,1199.95 L609.39,1201.24 L612.64,1202.5 L615.9,1203.75 L619.17,1204.98 L622.45,1206.2 L625.73,1207.39 L629.03,1208.56 L632.32,1209.71 L635.63,1210.84 L638.94,1211.95 L642.26,1213.04 L645.58,1214.11 L648.91,1215.16 L652.25,1216.19 L655.59,1217.19 L658.93,1218.18 L662.28,1219.14 L665.64,1220.08 L669,1220.99 L672.36,1221.88 L675.73,1222.76 L679.1,1223.6 L682.48,1224.43 L685.86,1225.24 L689.24,1226.02 L692.63,1226.78 L696.02,1227.53 L699.41,1228.25 L702.81,1228.95 L706.21,1229.63 L709.61,1230.29 L713.02,1230.94 L716.43,1231.56 L719.85,1232.17 L723.27,1232.75 L726.69,1233.32 L730.11,1233.87 L733.54,1234.41 L736.97,1234.93 L740.4,1235.43 L743.83,1235.91 L747.27,1236.38 L750.71,1236.83 L754.16,1237.27 L757.6,1237.69 L761.05,1238.09 L764.5,1238.49 L767.95,1238.86 L771.4,1239.23 L774.86,1239.58 L778.32,1239.91 L781.78,1240.24 L785.24,1240.55 L788.71,1240.85 L792.17,1241.13 L795.64,1241.41 L799.11,1241.67 L802.58,1241.92 L806.05,1242.16 L809.52,1242.39 L813,1242.61 L816.47,1242.82 L819.95,1243.02 L823.43,1243.21 L826.91,1243.39 L830.39,1243.56 L833.87,1243.73 L837.35,1243.88 L840.84,1244.03 L844.32,1244.17 L847.8,1244.3 L851.29,1244.43 L854.77,1244.55 L858.26,1244.66 L861.74,1244.77 L865.23,1244.87 L868.72,1244.97 L872.2,1245.06 L875.69,1245.14 L879.18,1245.22 L882.66,1245.3 L886.15,1245.37 L889.64,1245.44 L893.12,1245.51 L896.61,1245.57 L900.1,1245.63 L903.58,1245.69 L907.07,1245.75 L910.55,1245.8 L914.03,1245.85 L917.51,1245.9 L921,1245.96 L924.48,1246.01 L927.96,1246.06 L931.44,1246.11 L934.91,1246.16 L938.39,1246.21 L941.87,1246.26 L945.34,1246.31 L948.81,1246.37 L952.28,1246.42 L955.75,1246.48 L959.22,1246.54 L962.69,1246.61 L966.15,1246.67 L969.61,1246.74 L973.08,1246.82 L976.54,1246.9 L979.99,1246.98" stroke="#b73779" stroke-width="3.5" fill="none"/>
<path d="M211.6,1331.71 V1340.31 M268.88,1173.98 V1182.58 M326.16,1106.5 V1115.1 M383.44,1094.11 V1102.71 M440.72,1111.95 V1120.55 M498,1140.27 V1150.79 M555.28,1170.47 V1183.28 M612.56,1194.92 V1210.02 M669.84,1212.92 V1229.52 M727.12,1225.09 V1241.69 M784.4,1232.17 V1248.77 M841.68,1235.77 V1252.37 M898.96,1237.31 V1253.91 M956.24,1238.19 V1254.79 " stroke="#b73779" stroke-width="3.5" fill="none"/>
<path d="M208.2,1430.19 L208.91,1426.86 L209.63,1423.53 L210.37,1420.21 L211.12,1416.91 L211.88,1413.61 L212.65,1410.33 L213.44,1407.05 L214.24,1403.78 L215.05,1400.53 L215.87,1397.28 L216.7,1394.03 L217.55,1390.8 L218.41,1387.58 L219.28,1384.36 L220.16,1381.15 L221.05,1377.94 L221.95,1374.75 L222.86,1371.55 L223.78,1368.37 L224.71,1365.19 L225.65,1362.02 L226.61,1358.85 L227.57,1355.68 L228.54,1352.53 L229.52,1349.37 L230.51,1346.22 L231.5,1343.07 L232.51,1339.93 L233.52,1336.79 L234.55,1333.65 L235.58,1330.52 L236.62,1327.39 L237.67,1324.26 L238.72,1321.13 L239.78,1318 L240.85,1314.88 L241.93,1311.75 L243.01,1308.63 L244.1,1305.51 L245.2,1302.38 L246.3,1299.26 L247.41,1296.14 L248.52,1293.01 L249.64,1289.89 L250.77,1286.76 L251.9,1283.63 L253.04,1280.5 L254.18,1277.37 L255.33,1274.24 L256.48,1271.1 L257.65,1267.97 L258.82,1264.83 L260,1261.7 L261.2,1258.57 L262.4,1255.44 L263.62,1252.31 L264.85,1249.18 L266.1,1246.06 L267.37,1242.94 L268.65,1239.83 L269.95,1236.72 L271.27,1233.62 L272.61,1230.52 L273.97,1227.43 L275.35,1224.35 L276.76,1221.27 L278.19,1218.21 L279.64,1215.15 L281.13,1212.1 L282.63,1209.07 L284.17,1206.04 L285.74,1203.03 L287.34,1200.02 L288.97,1197.03 L290.63,1194.06 L292.32,1191.09 L294.05,1188.15 L295.81,1185.22 L297.61,1182.31 L299.44,1179.43 L301.31,1176.57 L303.21,1173.74 L305.16,1170.94 L307.13,1168.18 L309.15,1165.45 L311.2,1162.77 L313.29,1160.12 L315.42,1157.52 L317.59,1154.96 L319.8,1152.46 L322.05,1150 L324.34,1147.61 L326.67,1145.26 L329.04,1142.98 L331.46,1140.76 L333.91,1138.61 L336.41,1136.52 L338.95,1134.5 L341.54,1132.55 L344.17,1130.68 L346.84,1128.89 L349.56,1127.18 L352.32,1125.55 L355.13,1124 L357.99,1122.54 L360.88,1121.16 L363.81,1119.87 L366.78,1118.65 L369.79,1117.52 L372.83,1116.48 L375.89,1115.51 L378.99,1114.63 L382.12,1113.82 L385.26,1113.1 L388.43,1112.45 L391.62,1111.89 L394.83,1111.4 L398.06,1110.99 L401.3,1110.66 L404.55,1110.41 L407.81,1110.23 L411.07,1110.13 L414.35,1110.1 L417.62,1110.15 L420.9,1110.28 L424.18,1110.47 L427.45,1110.75 L430.72,1111.09 L433.98,1111.51 L437.24,1112 L440.48,1112.57 L443.71,1113.2 L446.92,1113.9 L450.13,1114.67 L453.32,1115.5 L456.51,1116.39 L459.68,1117.34 L462.85,1118.35 L466,1119.41 L469.15,1120.52 L472.28,1121.67 L475.41,1122.88 L478.53,1124.12 L481.64,1125.41 L484.74,1126.73 L487.84,1128.1 L490.93,1129.49 L494.01,1130.92 L497.08,1132.37 L500.15,1133.85 L503.22,1135.36 L506.28,1136.88 L509.33,1138.43 L512.38,1139.99 L515.43,1141.56 L518.47,1143.15 L521.51,1144.74 L524.55,1146.35 L527.58,1147.95 L530.61,1149.56 L533.64,1151.16 L536.67,1152.77 L539.69,1154.36 L542.72,1155.95 L545.74,1157.53 L548.76,1159.09 L551.79,1160.64 L554.81,1162.17 L557.84,1163.68 L560.86,1165.17 L563.89,1166.63 L566.92,1168.08 L569.95,1169.51 L572.98,1170.92 L576.02,1172.3 L579.05,1173.67 L582.09,1175.02 L585.14,1176.35 L588.19,1177.66 L591.24,1178.96 L594.3,1180.23 L597.36,1181.49 L600.42,1182.73 L603.5,1183.95 L606.57,1185.16 L609.66,1186.35 L612.75,1187.52 L615.84,1188.68 L618.94,1189.82 L622.05,1190.95 L625.17,1192.06 L628.29,1193.15 L631.41,1194.23 L634.54,1195.29 L637.68,1196.34 L640.83,1197.37 L643.98,1198.39 L647.13,1199.39 L650.29,1200.38 L653.46,1201.35 L656.63,1202.31 L659.81,1203.25 L662.99,1204.18 L666.18,1205.09 L669.37,1205.99 L672.57,1206.88 L675.77,1207.75 L678.98,1208.61 L682.19,1209.46 L685.41,1210.29 L688.63,1211.1 L691.85,1211.91 L695.08,1212.7 L698.32,1213.48 L701.55,1214.24 L704.8,1214.99 L708.04,1215.73 L711.29,1216.46 L714.55,1217.17 L717.8,1217.87 L721.07,1218.56 L724.33,1219.23 L727.6,1219.9 L730.87,1220.55 L734.15,1221.19 L737.43,1221.82 L740.71,1222.43 L743.99,1223.04 L747.28,1223.63 L750.57,1224.21 L753.86,1224.78 L757.16,1225.34 L760.46,1225.89 L763.76,1226.42 L767.07,1226.95 L770.37,1227.46 L773.68,1227.97 L776.99,1228.46 L780.31,1228.95 L783.62,1229.42 L786.94,1229.88 L790.26,1230.33 L793.58,1230.78 L796.9,1231.21 L800.23,1231.63 L803.55,1232.05 L806.88,1232.45 L810.21,1232.84 L813.54,1233.23 L816.87,1233.61 L820.21,1233.97 L823.54,1234.33 L826.88,1234.68 L830.21,1235.02 L833.55,1235.35 L836.89,1235.68 L840.22,1235.99 L843.56,1236.3 L846.9,1236.59 L850.24,1236.88 L853.58,1237.17 L856.92,1237.44 L860.26,1237.71 L863.6,1237.97 L866.94,1238.22 L870.28,1238.46 L873.62,1238.7 L876.96,1238.93 L880.3,1239.15 L883.64,1239.37 L886.98,1239.57 L890.32,1239.78 L893.65,1239.97 L896.99,1240.16 L900.32,1240.34 L903.66,1240.52 L906.99,1240.69 L910.33,1240.85 L913.66,1241.01 L916.99,1241.16 L920.31,1241.31 L923.64,1241.45 L926.97,1241.58 L930.29,1241.71 L933.61,1241.84 L936.93,1241.95 L940.25,1242.07 L943.57,1242.18 L946.88,1242.28 L950.2,1242.38 L953.51,1242.47 L956.81,1242.56 L960.12,1242.65 L963.42,1242.73 L966.72,1242.81 L970.02,1242.88 L973.32,1242.95 L976.61,1243.02 L979.9,1243.08" stroke="#de4968" stroke-width="3.5" fill="none"/>
<path d="M211.6,1410.51 V1419.11 M268.88,1234.98 V1243.58 M326.16,1141.48 V1150.08 M383.44,1109.22 V1117.82 M440.72,1108.32 V1116.92 M498,1127.55 V1138.07 M555.28,1156 V1168.81 M612.56,1179.9 V1195 M669.84,1197.82 V1214.42 M727.12,1211.5 V1228.1 M784.4,1221.23 V1237.83 M841.68,1227.82 V1244.42 M898.96,1231.97 V1248.57 M956.24,1234.25 V1250.85 " stroke="#de4968" stroke-width="3.5" fill="none"/>
<path d="M217.71,1430.17 L218.54,1426.89 L219.38,1423.63 L220.22,1420.39 L221.06,1417.16 L221.91,1413.95 L222.76,1410.76 L223.61,1407.57 L224.47,1404.41 L225.33,1401.25 L226.2,1398.11 L227.07,1394.98 L227.95,1391.86 L228.84,1388.76 L229.72,1385.66 L230.62,1382.57 L231.52,1379.5 L232.43,1376.43 L233.34,1373.37 L234.26,1370.32 L235.19,1367.28 L236.12,1364.25 L237.06,1361.22 L238.01,1358.2 L238.97,1355.18 L239.93,1352.17 L240.9,1349.16 L241.88,1346.16 L242.87,1343.16 L243.87,1340.16 L244.87,1337.17 L245.89,1334.18 L246.91,1331.19 L247.94,1328.2 L248.99,1325.21 L250.04,1322.22 L251.1,1319.23 L252.17,1316.24 L253.25,1313.25 L254.35,1310.25 L255.45,1307.26 L256.57,1304.26 L257.69,1301.25 L258.83,1298.24 L259.98,1295.23 L261.14,1292.21 L262.31,1289.19 L263.5,1286.16 L264.69,1283.12 L265.9,1280.07 L267.12,1277.02 L268.36,1273.96 L269.61,1270.9 L270.87,1267.84 L272.15,1264.77 L273.45,1261.7 L274.76,1258.63 L276.09,1255.57 L277.44,1252.51 L278.81,1249.45 L280.19,1246.4 L281.6,1243.36 L283.02,1240.33 L284.47,1237.31 L285.93,1234.3 L287.42,1231.31 L288.94,1228.33 L290.47,1225.36 L292.03,1222.42 L293.62,1219.49 L295.23,1216.58 L296.87,1213.7 L298.53,1210.84 L300.22,1208 L301.94,1205.19 L303.68,1202.41 L305.46,1199.65 L307.26,1196.93 L309.1,1194.24 L310.97,1191.58 L312.87,1188.95 L314.8,1186.36 L316.76,1183.81 L318.76,1181.3 L320.79,1178.82 L322.85,1176.39 L324.96,1174 L327.09,1171.66 L329.27,1169.36 L331.48,1167.11 L333.73,1164.9 L336.02,1162.75 L338.34,1160.65 L340.71,1158.6 L343.12,1156.6 L345.56,1154.66 L348.05,1152.78 L350.59,1150.95 L353.16,1149.18 L355.78,1147.48 L358.43,1145.83 L361.13,1144.25 L363.86,1142.72 L366.63,1141.26 L369.43,1139.86 L372.27,1138.52 L375.13,1137.25 L378.03,1136.03 L380.95,1134.88 L383.9,1133.8 L386.88,1132.78 L389.88,1131.82 L392.9,1130.93 L395.94,1130.11 L399,1129.35 L402.08,1128.66 L405.17,1128.03 L408.28,1127.47 L411.4,1126.98 L414.54,1126.55 L417.68,1126.2 L420.83,1125.91 L423.99,1125.69 L427.16,1125.54 L430.32,1125.46 L433.49,1125.45 L436.67,1125.51 L439.84,1125.64 L443.01,1125.85 L446.18,1126.12 L449.34,1126.46 L452.51,1126.86 L455.67,1127.32 L458.83,1127.85 L461.98,1128.43 L465.14,1129.07 L468.29,1129.76 L471.44,1130.5 L474.58,1131.3 L477.72,1132.14 L480.86,1133.03 L484,1133.96 L487.13,1134.93 L490.26,1135.94 L493.38,1136.99 L496.5,1138.07 L499.62,1139.19 L502.73,1140.33 L505.84,1141.51 L508.94,1142.71 L512.04,1143.93 L515.14,1145.18 L518.23,1146.45 L521.31,1147.73 L524.39,1149.04 L527.47,1150.35 L530.54,1151.68 L533.61,1153.01 L536.67,1154.36 L539.72,1155.71 L542.77,1157.06 L545.81,1158.41 L548.85,1159.77 L551.88,1161.12 L554.9,1162.46 L557.92,1163.8 L560.93,1165.13 L563.94,1166.45 L566.94,1167.76 L569.94,1169.06 L572.94,1170.36 L575.93,1171.64 L578.92,1172.92 L581.91,1174.18 L584.9,1175.43 L587.88,1176.68 L590.87,1177.91 L593.86,1179.13 L596.85,1180.34 L599.84,1181.53 L602.83,1182.72 L605.83,1183.89 L608.83,1185.04 L611.83,1186.19 L614.84,1187.31 L617.85,1188.43 L620.87,1189.53 L623.9,1190.62 L626.93,1191.69 L629.96,1192.75 L633,1193.8 L636.04,1194.83 L639.09,1195.85 L642.14,1196.85 L645.19,1197.84 L648.25,1198.82 L651.32,1199.79 L654.39,1200.74 L657.46,1201.68 L660.54,1202.6 L663.62,1203.52 L666.7,1204.42 L669.79,1205.3 L672.89,1206.18 L675.99,1207.04 L679.09,1207.89 L682.19,1208.73 L685.3,1209.55 L688.41,1210.36 L691.53,1211.16 L694.65,1211.95 L697.77,1212.73 L700.9,1213.49 L704.03,1214.24 L707.16,1214.98 L710.3,1215.71 L713.44,1216.43 L716.58,1217.13 L719.73,1217.83 L722.88,1218.51 L726.03,1219.18 L729.19,1219.84 L732.34,1220.49 L735.51,1221.13 L738.67,1221.75 L741.84,1222.37 L745.01,1222.97 L748.18,1223.57 L751.35,1224.15 L754.53,1224.72 L757.71,1225.28 L760.89,1225.83 L764.08,1226.37 L767.26,1226.9 L770.45,1227.42 L773.65,1227.93 L776.84,1228.43 L780.03,1228.92 L783.23,1229.4 L786.43,1229.87 L789.63,1230.33 L792.84,1230.78 L796.04,1231.22 L799.25,1231.65 L802.46,1232.08 L805.67,1232.49 L808.88,1232.89 L812.1,1233.28 L815.31,1233.67 L818.53,1234.04 L821.75,1234.41 L824.97,1234.77 L828.19,1235.12 L831.41,1235.46 L834.63,1235.79 L837.86,1236.11 L841.08,1236.42 L844.31,1236.73 L847.54,1237.02 L850.76,1237.31 L853.99,1237.59 L857.22,1237.87 L860.45,1238.13 L863.68,1238.39 L866.92,1238.63 L870.15,1238.87 L873.38,1239.11 L876.62,1239.33 L879.85,1239.55 L883.09,1239.76 L886.32,1239.96 L889.55,1240.15 L892.79,1240.34 L896.03,1240.52 L899.26,1240.7 L902.5,1240.86 L905.73,1241.02 L908.97,1241.17 L912.2,1241.32 L915.44,1241.46 L918.67,1241.59 L921.91,1241.71 L925.14,1241.83 L928.37,1241.94 L931.61,1242.05 L934.84,1242.15 L938.07,1242.24 L941.31,1242.33 L944.54,1242.41 L947.77,1242.49 L951,1242.55 L954.22,1242.62 L957.45,1242.68 L960.68,1242.73 L963.91,1242.77 L967.13,1242.81 L970.35,1242.85 L973.58,1242.88 L976.8,1242.9 L980.02,1242.92" stroke="#f7705c" stroke-width="3.5" fill="none"/>
<path d="M268.88,1268.39 V1276.99 M326.16,1168.38 V1176.98 M383.44,1129.67 V1138.27 M440.72,1121.4 V1130 M498,1133.35 V1143.87 M555.28,1156.22 V1169.03 M612.56,1178.91 V1194.01 M669.84,1197.02 V1213.62 M727.12,1211.11 V1227.71 M784.4,1221.27 V1237.87 M841.68,1228.18 V1244.78 M898.96,1232.38 V1248.98 M956.24,1234.35 V1250.95 " stroke="#f7705c" stroke-width="3.5" fill="none"/>
<path d="M218.46,1429.6 L219.4,1426.53 L220.34,1423.47 L221.27,1420.42 L222.2,1417.37 L223.14,1414.33 L224.06,1411.3 L224.99,1408.27 L225.92,1405.24 L226.85,1402.22 L227.78,1399.2 L228.71,1396.19 L229.64,1393.18 L230.58,1390.18 L231.51,1387.18 L232.45,1384.19 L233.39,1381.19 L234.34,1378.2 L235.28,1375.22 L236.24,1372.23 L237.19,1369.25 L238.15,1366.27 L239.12,1363.3 L240.09,1360.32 L241.07,1357.35 L242.06,1354.38 L243.05,1351.41 L244.05,1348.44 L245.05,1345.47 L246.07,1342.51 L247.09,1339.54 L248.12,1336.58 L249.16,1333.61 L250.21,1330.65 L251.27,1327.68 L252.35,1324.71 L253.43,1321.75 L254.52,1318.78 L255.62,1315.81 L256.74,1312.84 L257.87,1309.87 L259.01,1306.9 L260.17,1303.92 L261.33,1300.94 L262.52,1297.97 L263.71,1294.98 L264.92,1292 L266.15,1289.01 L267.39,1286.02 L268.65,1283.03 L269.92,1280.03 L271.21,1277.04 L272.52,1274.04 L273.85,1271.04 L275.19,1268.05 L276.55,1265.06 L277.94,1262.08 L279.34,1259.1 L280.76,1256.13 L282.2,1253.17 L283.67,1250.22 L285.16,1247.28 L286.66,1244.36 L288.19,1241.45 L289.75,1238.56 L291.33,1235.68 L292.93,1232.83 L294.56,1229.99 L296.21,1227.17 L297.89,1224.38 L299.59,1221.61 L301.32,1218.86 L303.08,1216.15 L304.86,1213.45 L306.67,1210.79 L308.52,1208.16 L310.39,1205.56 L312.29,1203 L314.22,1200.47 L316.18,1197.97 L318.17,1195.51 L320.19,1193.09 L322.25,1190.71 L324.34,1188.37 L326.46,1186.08 L328.61,1183.82 L330.8,1181.61 L333.02,1179.45 L335.28,1177.34 L337.57,1175.27 L339.9,1173.26 L342.26,1171.29 L344.67,1169.38 L347.11,1167.53 L349.58,1165.73 L352.1,1163.98 L354.65,1162.3 L357.24,1160.67 L359.87,1159.1 L362.53,1157.59 L365.22,1156.13 L367.95,1154.74 L370.71,1153.4 L373.49,1152.12 L376.31,1150.9 L379.15,1149.74 L382.02,1148.64 L384.91,1147.6 L387.83,1146.62 L390.76,1145.69 L393.72,1144.83 L396.7,1144.03 L399.7,1143.28 L402.71,1142.6 L405.74,1141.97 L408.78,1141.41 L411.84,1140.9 L414.91,1140.46 L417.99,1140.08 L421.08,1139.75 L424.18,1139.49 L427.28,1139.29 L430.39,1139.15 L433.51,1139.07 L436.63,1139.05 L439.75,1139.1 L442.87,1139.2 L446,1139.37 L449.12,1139.59 L452.24,1139.87 L455.37,1140.2 L458.49,1140.58 L461.62,1141.02 L464.74,1141.5 L467.87,1142.04 L470.99,1142.62 L474.12,1143.24 L477.24,1143.91 L480.36,1144.61 L483.48,1145.36 L486.59,1146.15 L489.71,1146.97 L492.82,1147.82 L495.94,1148.71 L499.04,1149.63 L502.15,1150.58 L505.25,1151.55 L508.36,1152.55 L511.45,1153.58 L514.55,1154.63 L517.64,1155.7 L520.72,1156.79 L523.81,1157.9 L526.89,1159.02 L529.96,1160.16 L533.03,1161.31 L536.09,1162.47 L539.15,1163.64 L542.21,1164.82 L545.26,1166 L548.3,1167.19 L551.34,1168.38 L554.37,1169.57 L557.4,1170.76 L560.42,1171.95 L563.43,1173.14 L566.44,1174.32 L569.45,1175.5 L572.45,1176.68 L575.45,1177.85 L578.45,1179.02 L581.44,1180.18 L584.43,1181.34 L587.42,1182.48 L590.41,1183.62 L593.39,1184.76 L596.38,1185.88 L599.37,1186.99 L602.36,1188.1 L605.35,1189.19 L608.34,1190.27 L611.34,1191.34 L614.33,1192.4 L617.33,1193.44 L620.34,1194.48 L623.34,1195.5 L626.35,1196.5 L629.37,1197.5 L632.38,1198.48 L635.4,1199.45 L638.42,1200.41 L641.44,1201.36 L644.47,1202.29 L647.5,1203.21 L650.53,1204.12 L653.57,1205.02 L656.61,1205.91 L659.65,1206.78 L662.69,1207.65 L665.74,1208.5 L668.79,1209.34 L671.84,1210.16 L674.89,1210.98 L677.95,1211.79 L681.01,1212.58 L684.07,1213.36 L687.13,1214.13 L690.2,1214.89 L693.27,1215.64 L696.34,1216.38 L699.42,1217.1 L702.49,1217.82 L705.57,1218.52 L708.65,1219.21 L711.74,1219.89 L714.82,1220.56 L717.91,1221.23 L721,1221.87 L724.1,1222.51 L727.19,1223.14 L730.29,1223.76 L733.39,1224.37 L736.49,1224.96 L739.59,1225.55 L742.7,1226.12 L745.81,1226.69 L748.92,1227.25 L752.03,1227.79 L755.15,1228.33 L758.26,1228.85 L761.38,1229.37 L764.5,1229.87 L767.62,1230.37 L770.75,1230.85 L773.87,1231.33 L777,1231.79 L780.13,1232.25 L783.26,1232.69 L786.4,1233.13 L789.53,1233.56 L792.67,1233.97 L795.81,1234.38 L798.95,1234.78 L802.09,1235.17 L805.24,1235.55 L808.38,1235.92 L811.53,1236.28 L814.68,1236.64 L817.83,1236.98 L820.98,1237.31 L824.14,1237.64 L827.29,1237.96 L830.45,1238.26 L833.61,1238.56 L836.77,1238.85 L839.93,1239.14 L843.09,1239.41 L846.26,1239.67 L849.43,1239.93 L852.59,1240.18 L855.76,1240.42 L858.93,1240.65 L862.1,1240.87 L865.27,1241.08 L868.45,1241.29 L871.62,1241.49 L874.8,1241.68 L877.98,1241.86 L881.16,1242.03 L884.34,1242.2 L887.52,1242.36 L890.7,1242.51 L893.88,1242.65 L897.07,1242.79 L900.25,1242.91 L903.44,1243.03 L906.62,1243.15 L909.81,1243.25 L913,1243.35 L916.19,1243.44 L919.38,1243.52 L922.57,1243.59 L925.77,1243.66 L928.96,1243.72 L932.16,1243.78 L935.35,1243.82 L938.55,1243.86 L941.74,1243.9 L944.94,1243.92 L948.14,1243.94 L951.34,1243.96 L954.54,1243.96 L957.74,1243.96 L960.94,1243.95 L964.14,1243.94 L967.34,1243.92 L970.55,1243.89 L973.75,1243.86 L976.95,1243.82 L980.16,1243.77" stroke="#fe9f6d" stroke-width="3.5" fill="none"/>
<path d="M268.88,1278.18 V1286.78 M326.16,1182.1 V1190.7 M383.44,1143.83 V1152.43 M440.72,1134.83 V1143.43 M498,1144.06 V1154.58 M555.28,1163.52 V1176.33 M612.56,1184.22 V1199.32 M669.84,1201.32 V1217.92 M727.12,1214.83 V1231.43 M784.4,1224.55 V1241.15 M841.68,1230.99 V1247.59 M898.96,1234.56 V1251.16 M956.24,1235.66 V1252.26 " stroke="#fe9f6d" stroke-width="3.5" fill="none"/>
<path d="M227.42,1429.43 L228.3,1426.53 L229.17,1423.63 L230.04,1420.73 L230.92,1417.82 L231.8,1414.92 L232.67,1412.01 L233.55,1409.1 L234.44,1406.2 L235.32,1403.29 L236.21,1400.38 L237.1,1397.47 L238,1394.56 L238.9,1391.65 L239.81,1388.74 L240.72,1385.83 L241.63,1382.92 L242.56,1380.01 L243.49,1377.1 L244.42,1374.19 L245.36,1371.29 L246.31,1368.38 L247.27,1365.47 L248.24,1362.57 L249.21,1359.66 L250.19,1356.76 L251.19,1353.86 L252.19,1350.96 L253.2,1348.06 L254.23,1345.16 L255.26,1342.27 L256.31,1339.37 L257.36,1336.48 L258.43,1333.59 L259.52,1330.71 L260.61,1327.82 L261.72,1324.94 L262.84,1322.06 L263.98,1319.18 L265.13,1316.31 L266.29,1313.44 L267.47,1310.57 L268.67,1307.7 L269.88,1304.84 L271.11,1301.98 L272.35,1299.13 L273.61,1296.28 L274.89,1293.43 L276.19,1290.59 L277.5,1287.75 L278.84,1284.91 L280.19,1282.08 L281.56,1279.26 L282.95,1276.45 L284.37,1273.64 L285.8,1270.85 L287.26,1268.07 L288.73,1265.3 L290.23,1262.54 L291.75,1259.8 L293.3,1257.07 L294.87,1254.36 L296.46,1251.67 L298.08,1249 L299.72,1246.35 L301.39,1243.72 L303.08,1241.11 L304.8,1238.53 L306.55,1235.97 L308.32,1233.44 L310.12,1230.93 L311.95,1228.46 L313.81,1226.01 L315.69,1223.59 L317.61,1221.21 L319.56,1218.85 L321.53,1216.53 L323.54,1214.25 L325.58,1212 L327.65,1209.79 L329.75,1207.62 L331.88,1205.49 L334.05,1203.4 L336.25,1201.35 L338.48,1199.34 L340.75,1197.38 L343.05,1195.46 L345.39,1193.59 L347.77,1191.76 L350.18,1189.99 L352.62,1188.26 L355.11,1186.58 L357.63,1184.96 L360.18,1183.38 L362.77,1181.86 L365.39,1180.39 L368.04,1178.96 L370.71,1177.59 L373.42,1176.27 L376.16,1175 L378.92,1173.77 L381.7,1172.6 L384.51,1171.48 L387.34,1170.41 L390.19,1169.39 L393.06,1168.42 L395.95,1167.5 L398.86,1166.63 L401.78,1165.81 L404.72,1165.04 L407.67,1164.32 L410.64,1163.65 L413.61,1163.04 L416.6,1162.47 L419.59,1161.95 L422.6,1161.48 L425.61,1161.06 L428.62,1160.69 L431.64,1160.37 L434.66,1160.11 L437.68,1159.89 L440.71,1159.72 L443.73,1159.6 L446.75,1159.53 L449.78,1159.5 L452.8,1159.53 L455.82,1159.6 L458.84,1159.71 L461.86,1159.86 L464.88,1160.06 L467.9,1160.3 L470.92,1160.58 L473.94,1160.9 L476.96,1161.25 L479.97,1161.65 L482.99,1162.07 L486.01,1162.54 L489.02,1163.03 L492.04,1163.56 L495.05,1164.12 L498.07,1164.71 L501.08,1165.33 L504.1,1165.98 L507.11,1166.65 L510.12,1167.35 L513.14,1168.07 L516.15,1168.82 L519.16,1169.6 L522.17,1170.39 L525.18,1171.2 L528.19,1172.04 L531.2,1172.89 L534.21,1173.76 L537.22,1174.64 L540.23,1175.55 L543.23,1176.46 L546.24,1177.39 L549.25,1178.33 L552.25,1179.28 L555.26,1180.24 L558.26,1181.21 L561.27,1182.19 L564.27,1183.18 L567.28,1184.17 L570.28,1185.16 L573.28,1186.16 L576.28,1187.16 L579.29,1188.16 L582.29,1189.16 L585.29,1190.17 L588.29,1191.17 L591.28,1192.16 L594.28,1193.15 L597.28,1194.14 L600.28,1195.12 L603.28,1196.1 L606.27,1197.06 L609.27,1198.02 L612.26,1198.96 L615.26,1199.9 L618.25,1200.82 L621.25,1201.73 L624.24,1202.63 L627.23,1203.52 L630.23,1204.4 L633.22,1205.26 L636.21,1206.12 L639.2,1206.96 L642.19,1207.79 L645.18,1208.61 L648.17,1209.42 L651.16,1210.22 L654.16,1211.01 L657.15,1211.78 L660.14,1212.55 L663.13,1213.3 L666.12,1214.05 L669.11,1214.78 L672.1,1215.51 L675.09,1216.22 L678.08,1216.92 L681.07,1217.61 L684.06,1218.3 L687.05,1218.97 L690.04,1219.63 L693.04,1220.28 L696.03,1220.92 L699.02,1221.55 L702.01,1222.17 L705.01,1222.78 L708,1223.38 L711,1223.98 L713.99,1224.56 L716.99,1225.13 L719.98,1225.69 L722.98,1226.24 L725.98,1226.79 L728.97,1227.32 L731.97,1227.85 L734.97,1228.36 L737.97,1228.87 L740.98,1229.37 L743.98,1229.85 L746.98,1230.33 L749.98,1230.8 L752.99,1231.26 L755.99,1231.71 L759,1232.16 L762.01,1232.59 L765.02,1233.02 L768.03,1233.43 L771.04,1233.84 L774.05,1234.24 L777.07,1234.63 L780.08,1235.01 L783.1,1235.39 L786.12,1235.76 L789.14,1236.11 L792.16,1236.46 L795.18,1236.8 L798.2,1237.14 L801.23,1237.46 L804.25,1237.78 L807.28,1238.09 L810.31,1238.39 L813.34,1238.69 L816.37,1238.97 L819.41,1239.25 L822.44,1239.52 L825.48,1239.79 L828.52,1240.04 L831.56,1240.29 L834.61,1240.53 L837.65,1240.77 L840.7,1240.99 L843.75,1241.21 L846.8,1241.42 L849.85,1241.63 L852.91,1241.83 L855.97,1242.02 L859.03,1242.2 L862.09,1242.38 L865.15,1242.55 L868.22,1242.72 L871.29,1242.88 L874.36,1243.03 L877.43,1243.17 L880.5,1243.31 L883.58,1243.44 L886.66,1243.57 L889.74,1243.69 L892.83,1243.8 L895.92,1243.91 L899.01,1244.01 L902.1,1244.1 L905.2,1244.19 L908.29,1244.27 L911.39,1244.35 L914.5,1244.42 L917.6,1244.49 L920.71,1244.55 L923.82,1244.6 L926.94,1244.65 L930.06,1244.69 L933.18,1244.73 L936.3,1244.76 L939.43,1244.79 L942.56,1244.81 L945.69,1244.83 L948.82,1244.84 L951.96,1244.84 L955.1,1244.84 L958.25,1244.84 L961.4,1244.83 L964.55,1244.82 L967.7,1244.8 L970.86,1244.78 L974.02,1244.75 L977.19,1244.72 L980.35,1244.68" stroke="#fecf92" stroke-width="3.5" fill="none"/>
<path d="M268.88,1302.9 V1311.5 M326.16,1207.08 V1215.68 M383.44,1167.61 V1176.21 M440.72,1155.42 V1164.02 M498,1159.44 V1169.96 M555.28,1173.84 V1186.66 M612.56,1191.51 V1206.61 M669.84,1206.66 V1223.26 M727.12,1218.69 V1235.29 M784.4,1227.25 V1243.85 M841.68,1232.76 V1249.36 M898.96,1235.71 V1252.31 M956.24,1236.54 V1253.14 " stroke="#fecf92" stroke-width="3.5" fill="none"/>
<path d="M211.6,1150.2 V1199.6 M268.88,967.9 V1000.9 M326.16,945.6 V957.6 M383.44,957.4 V969.4 M440.72,1027.5 V1047.5 M498,1102 V1118 M555.28,1165 V1177 M612.56,1211 V1223 M669.84,1225 V1237 M727.12,1237.7 V1249.7 M784.4,1243 V1255 M841.68,1251 V1263 M898.96,1242.4 V1254.4 M956.24,1235.6 V1247.6 " stroke="#140e36" stroke-width="3.5" fill="none"/>
<circle cx="211.6" cy="1174.9" r="7.9" fill="#140e36"/>
<circle cx="268.88" cy="984.4" r="7.9" fill="#140e36"/>
<circle cx="326.16" cy="951.6" r="7.9" fill="#140e36"/>
<circle cx="383.44" cy="963.4" r="7.9" fill="#140e36"/>
<circle cx="440.72" cy="1037.5" r="7.9" fill="#140e36"/>
<circle cx="498" cy="1110" r="7.9" fill="#140e36"/>
<circle cx="555.28" cy="1171" r="7.9" fill="#140e36"/>
<circle cx="612.56" cy="1217" r="7.9" fill="#140e36"/>
<circle cx="669.84" cy="1231" r="7.9" fill="#140e36"/>
<circle cx="727.12" cy="1243.7" r="7.9" fill="#140e36"/>
<circle cx="784.4" cy="1249" r="7.9" fill="#140e36"/>
<circle cx="841.68" cy="1257" r="7.9" fill="#140e36"/>
<circle cx="898.96" cy="1248.4" r="7.9" fill="#140e36"/>
<circle cx="956.24" cy="1241.6" r="7.9" fill="#140e36"/>
</g>
<rect x="136.9" y="781.4" width="831.2" height="619.7" fill="none" stroke="#000" stroke-width="1.95"/>
<path d="M136.9,1401.1 h-8.5 M136.9,1323.64 h-8.5 M136.9,1246.17 h-8.5 M136.9,1168.71 h-8.5 M136.9,1091.25 h-8.5 M136.9,1013.79 h-8.5 M136.9,936.32 h-8.5 M136.9,858.86 h-8.5 M136.9,781.4 h-8.5 M183.5,1401.1 v8.5 M276.81,1401.1 v8.5 M370.12,1401.1 v8.5 M463.43,1401.1 v8.5 M556.74,1401.1 v8.5 M650.05,1401.1 v8.5 M743.36,1401.1 v8.5 M836.67,1401.1 v8.5 M929.98,1401.1 v8.5 " stroke="#000" stroke-width="1.95" fill="none"/>
<text x="35.08" y="1410.2" font-size="24.9" textLength="85" lengthAdjust="spacingAndGlyphs">−0.050</text>
<text x="35.58" y="1332.74" font-size="24.9" textLength="84.57" lengthAdjust="spacingAndGlyphs">−0.025</text>
<text x="54.08" y="1255.27" font-size="24.9" textLength="65.95" lengthAdjust="spacingAndGlyphs">0.000</text>
<text x="54.58" y="1177.81" font-size="24.9" textLength="65.52" lengthAdjust="spacingAndGlyphs">0.025</text>
<text x="54.08" y="1100.35" font-size="24.9" textLength="65.95" lengthAdjust="spacingAndGlyphs">0.050</text>
<text x="54.58" y="1022.89" font-size="24.9" textLength="65.52" lengthAdjust="spacingAndGlyphs">0.075</text>
<text x="54.08" y="945.42" font-size="24.9" textLength="65.95" lengthAdjust="spacingAndGlyphs">0.100</text>
<text x="54.58" y="867.96" font-size="24.9" textLength="65.52" lengthAdjust="spacingAndGlyphs">0.125</text>
<text x="54.08" y="790.5" font-size="24.9" textLength="65.95" lengthAdjust="spacingAndGlyphs">0.150</text>
<text x="165.42" y="1435.4" font-size="24.9" textLength="36.13" lengthAdjust="spacingAndGlyphs">0.4</text>
<text x="258.74" y="1435.4" font-size="24.9" textLength="35.71" lengthAdjust="spacingAndGlyphs">0.5</text>
<text x="352.03" y="1435.4" font-size="24.9" textLength="36.37" lengthAdjust="spacingAndGlyphs">0.6</text>
<text x="445.35" y="1435.4" font-size="24.9" textLength="35.98" lengthAdjust="spacingAndGlyphs">0.7</text>
<text x="538.66" y="1435.4" font-size="24.9" textLength="36.22" lengthAdjust="spacingAndGlyphs">0.8</text>
<text x="631.97" y="1435.4" font-size="24.9" textLength="36.28" lengthAdjust="spacingAndGlyphs">0.9</text>
<text x="725.35" y="1435.4" font-size="24.9" textLength="36.08" lengthAdjust="spacingAndGlyphs">1.0</text>
<text x="818.68" y="1435.4" font-size="24.9" textLength="35.69" lengthAdjust="spacingAndGlyphs">1.1</text>
<text x="912" y="1435.4" font-size="24.9" textLength="35.53" lengthAdjust="spacingAndGlyphs">1.2</text>
<text x="353.22" y="1466.4" font-size="24.9" textLength="360.67" lengthAdjust="spacingAndGlyphs">Normalized kink displacement,</text>
<text x="720.7" y="1466.4" font-size="24.9" textLength="7.99" lengthAdjust="spacingAndGlyphs" font-style="italic">r</text>
<text x="728.9" y="1466.4" font-size="24.9" textLength="7.2" lengthAdjust="spacingAndGlyphs">/</text>
<text x="737.16" y="1466.4" font-size="24.9" textLength="12.3" lengthAdjust="spacingAndGlyphs" font-style="italic">ξ</text>
<g transform="translate(19.6,1210.5) rotate(-90)">
<text x="-2.18" y="0" font-size="24.9" textLength="190.98" lengthAdjust="spacingAndGlyphs">Kink correlation,</text>
<text x="195.3" y="0" font-size="24.9" textLength="17.08" lengthAdjust="spacingAndGlyphs" font-style="italic">C</text>
<text x="212.71" y="0" font-size="24.9" textLength="6.91" lengthAdjust="spacingAndGlyphs">(</text>
<text x="222.04" y="0" font-size="24.9" textLength="9.13" lengthAdjust="spacingAndGlyphs" font-style="italic">r</text>
<text x="232.59" y="0" font-size="24.9" textLength="6.41" lengthAdjust="spacingAndGlyphs">)</text>
</g>
<path d="M789.4,805.4 L802.6,818.6 M789.4,818.6 L802.6,805.4" stroke="#808080" stroke-width="2.45"/>
<text x="837.85" y="820.5" font-size="24.9" textLength="49.3" lengthAdjust="spacingAndGlyphs">sim.</text>
<path d="M772,847.5 H819.7" stroke="#808080" stroke-width="3.5" stroke-dasharray="3.5 5.8"/>
<text x="838.19" y="854.5" font-size="24.9" textLength="5.64" lengthAdjust="spacingAndGlyphs" font-style="italic">l</text>
<text x="844.4" y="854.5" font-size="24.9" textLength="7.8" lengthAdjust="spacingAndGlyphs">/</text>
<text x="852.06" y="854.5" font-size="24.9" textLength="12.3" lengthAdjust="spacingAndGlyphs" font-style="italic">ξ</text>
<text x="870.26" y="854.5" font-size="24.9" textLength="18.39" lengthAdjust="spacingAndGlyphs">=</text>
<text x="893.81" y="854.5" font-size="24.9" textLength="50.97" lengthAdjust="spacingAndGlyphs">1.31</text>
<path d="M796.0,871.7 V895.3" stroke="#140e36" stroke-width="3.5"/>
<circle cx="796.0" cy="883.5" r="7.9" fill="#140e36"/>
<text x="837.84" y="891.7" font-size="24.9" textLength="48.2" lengthAdjust="spacingAndGlyphs">ZNE</text>
<path d="M772,918.1 H819.7" stroke="#140e36" stroke-width="3.5" stroke-dasharray="3.5 5.8"/>
<text x="838.19" y="925.7" font-size="24.9" textLength="5.64" lengthAdjust="spacingAndGlyphs" font-style="italic">l</text>
<text x="844.4" y="925.7" font-size="24.9" textLength="7.8" lengthAdjust="spacingAndGlyphs">/</text>
<text x="852.06" y="925.7" font-size="24.9" textLength="12.3" lengthAdjust="spacingAndGlyphs" font-style="italic">ξ</text>
<text x="870.26" y="925.7" font-size="24.9" textLength="18.39" lengthAdjust="spacingAndGlyphs">=</text>
<text x="893.8" y="925.7" font-size="24.9" textLength="51.01" lengthAdjust="spacingAndGlyphs">1.17</text>
<path d="M796.0,943.2 V966.8" stroke="#3b0f70" stroke-width="3.5"/>
<text x="838.22" y="961.7" font-size="24.9" textLength="11.42" lengthAdjust="spacingAndGlyphs" font-style="italic">κ</text>
<text x="852.09" y="961.7" font-size="24.9" textLength="18.03" lengthAdjust="spacingAndGlyphs">=</text>
<text x="871.31" y="961.7" font-size="24.9" textLength="13.1" lengthAdjust="spacingAndGlyphs">1</text>
<path d="M796.0,977.3 V1000.9" stroke="#641a80" stroke-width="3.5"/>
<text x="838.22" y="995.8" font-size="24.9" textLength="11.42" lengthAdjust="spacingAndGlyphs" font-style="italic">κ</text>
<text x="852.09" y="995.8" font-size="24.9" textLength="18.03" lengthAdjust="spacingAndGlyphs">=</text>
<text x="871.12" y="995.8" font-size="24.9" textLength="50.47" lengthAdjust="spacingAndGlyphs">1.12</text>
<path d="M796.0,1011.5 V1035.1" stroke="#8c2981" stroke-width="3.5"/>
<text x="838.22" y="1030" font-size="24.9" textLength="11.42" lengthAdjust="spacingAndGlyphs" font-style="italic">κ</text>
<text x="852.09" y="1030" font-size="24.9" textLength="18.03" lengthAdjust="spacingAndGlyphs">=</text>
<text x="871.1" y="1030" font-size="24.9" textLength="51.13" lengthAdjust="spacingAndGlyphs">1.29</text>
<path d="M796.0,1045.6 V1069.2" stroke="#b73779" stroke-width="3.5"/>
<text x="838.22" y="1064.1" font-size="24.9" textLength="11.42" lengthAdjust="spacingAndGlyphs" font-style="italic">κ</text>
<text x="852.09" y="1064.1" font-size="24.9" textLength="18.03" lengthAdjust="spacingAndGlyphs">=</text>
<text x="871.15" y="1064.1" font-size="24.9" textLength="35.63" lengthAdjust="spacingAndGlyphs">1.5</text>
<path d="M796.0,1079.6 V1103.2" stroke="#de4968" stroke-width="3.5"/>
<text x="838.22" y="1098.1" font-size="24.9" textLength="11.42" lengthAdjust="spacingAndGlyphs" font-style="italic">κ</text>
<text x="852.09" y="1098.1" font-size="24.9" textLength="18.03" lengthAdjust="spacingAndGlyphs">=</text>
<text x="871.12" y="1098.1" font-size="24.9" textLength="36.15" lengthAdjust="spacingAndGlyphs">1.8</text>
<path d="M796.0,1113.7 V1137.3" stroke="#f7705c" stroke-width="3.5"/>
<text x="838.22" y="1132.2" font-size="24.9" textLength="11.42" lengthAdjust="spacingAndGlyphs" font-style="italic">κ</text>
<text x="852.09" y="1132.2" font-size="24.9" textLength="18.03" lengthAdjust="spacingAndGlyphs">=</text>
<text x="871.05" y="1132.2" font-size="24.9" textLength="13.22" lengthAdjust="spacingAndGlyphs">2</text>
<path d="M796.0,1147.7 V1171.3" stroke="#fe9f6d" stroke-width="3.5"/>
<text x="838.22" y="1166.2" font-size="24.9" textLength="11.42" lengthAdjust="spacingAndGlyphs" font-style="italic">κ</text>
<text x="852.09" y="1166.2" font-size="24.9" textLength="18.03" lengthAdjust="spacingAndGlyphs">=</text>
<text x="870.93" y="1166.2" font-size="24.9" textLength="50.75" lengthAdjust="spacingAndGlyphs">2.25</text>
<path d="M796.0,1181.7 V1205.3" stroke="#fecf92" stroke-width="3.5"/>
<text x="838.22" y="1200.2" font-size="24.9" textLength="11.42" lengthAdjust="spacingAndGlyphs" font-style="italic">κ</text>
<text x="852.09" y="1200.2" font-size="24.9" textLength="18.03" lengthAdjust="spacingAndGlyphs">=</text>
<text x="870.92" y="1200.2" font-size="24.9" textLength="51.03" lengthAdjust="spacingAndGlyphs">2.57</text>
<clipPath id="c3"><rect x="136.9" y="1519.2" width="831.2" height="619.6"/></clipPath>
<g clip-path="url(#c3)">
<path d="M195.24,2156.39 L195.9,2151.96 L196.56,2147.54 L197.22,2143.12 L197.89,2138.71 L198.56,2134.31 L199.23,2129.91 L199.9,2125.51 L200.58,2121.13 L201.27,2116.75 L201.96,2112.37 L202.65,2108 L203.34,2103.63 L204.04,2099.27 L204.75,2094.91 L205.45,2090.56 L206.17,2086.21 L206.88,2081.87 L207.6,2077.54 L208.33,2073.2 L209.06,2068.87 L209.79,2064.55 L210.53,2060.23 L211.27,2055.91 L212.02,2051.6 L212.78,2047.29 L213.53,2042.99 L214.3,2038.68 L215.07,2034.39 L215.84,2030.09 L216.62,2025.8 L217.4,2021.51 L218.19,2017.23 L218.99,2012.94 L219.79,2008.66 L220.6,2004.39 L221.41,2000.11 L222.23,1995.84 L223.05,1991.57 L223.88,1987.3 L224.71,1983.04 L225.56,1978.78 L226.4,1974.52 L227.26,1970.26 L228.12,1966 L228.98,1961.75 L229.86,1957.49 L230.74,1953.24 L231.62,1948.99 L232.51,1944.74 L233.41,1940.49 L234.32,1936.24 L235.23,1932 L236.15,1927.75 L237.08,1923.5 L238.01,1919.26 L238.95,1915.02 L239.9,1910.77 L240.86,1906.53 L241.82,1902.28 L242.79,1898.04 L243.77,1893.8 L244.75,1889.56 L245.75,1885.31 L246.75,1881.07 L247.75,1876.82 L248.77,1872.58 L249.8,1868.33 L250.83,1864.09 L251.87,1859.84 L252.92,1855.59 L253.97,1851.34 L255.04,1847.09 L256.11,1842.84 L257.19,1838.58 L258.28,1834.33 L259.38,1830.07 L260.49,1825.82 L261.6,1821.56 L262.73,1817.29 L263.86,1813.03 L265.01,1808.76 L266.16,1804.49 L267.32,1800.22 L268.49,1795.95 L269.67,1791.67 L270.86,1787.4 L272.06,1783.12 L273.28,1778.84 L274.51,1774.57 L275.77,1770.31 L277.04,1766.05 L278.35,1761.8 L279.68,1757.56 L281.03,1753.34 L282.43,1749.13 L283.85,1744.94 L285.31,1740.77 L286.81,1736.62 L288.36,1732.49 L289.94,1728.39 L291.58,1724.31 L293.26,1720.26 L294.99,1716.25 L296.78,1712.26 L298.62,1708.31 L300.52,1704.4 L302.48,1700.52 L304.51,1696.69 L306.6,1692.89 L308.76,1689.14 L310.98,1685.44 L313.29,1681.78 L315.66,1678.17 L318.12,1674.61 L320.65,1671.11 L323.27,1667.66 L325.97,1664.27 L328.76,1660.94 L331.63,1657.67 L334.6,1654.46 L337.67,1651.32 L340.83,1648.24 L344.09,1645.23 L347.45,1642.3 L350.9,1639.5 L354.45,1636.86 L358.09,1634.45 L361.81,1632.3 L365.61,1630.47 L369.48,1629.01 L373.43,1627.96 L377.44,1627.38 L381.51,1627.3 L385.62,1627.68 L389.77,1628.48 L393.93,1629.64 L398.09,1631.11 L402.22,1632.84 L406.33,1634.78 L410.38,1636.88 L414.37,1639.08 L418.28,1641.35 L422.11,1643.69 L425.87,1646.09 L429.56,1648.56 L433.19,1651.09 L436.75,1653.68 L440.24,1656.33 L443.68,1659.04 L447.05,1661.79 L450.37,1664.61 L453.64,1667.47 L456.85,1670.38 L460.02,1673.34 L463.14,1676.34 L466.21,1679.38 L469.25,1682.47 L472.24,1685.59 L475.19,1688.75 L478.11,1691.95 L481,1695.18 L483.86,1698.44 L486.69,1701.73 L489.49,1705.05 L492.27,1708.39 L495.03,1711.75 L497.77,1715.14 L500.49,1718.55 L503.2,1721.97 L505.9,1725.41 L508.59,1728.87 L511.27,1732.33 L513.95,1735.81 L516.62,1739.29 L519.3,1742.78 L521.97,1746.28 L524.65,1749.78 L527.34,1753.27 L530.04,1756.77 L532.75,1760.26 L535.47,1763.75 L538.2,1767.23 L540.94,1770.71 L543.7,1774.18 L546.47,1777.64 L549.25,1781.1 L552.05,1784.54 L554.86,1787.98 L557.68,1791.4 L560.52,1794.82 L563.38,1798.22 L566.25,1801.6 L569.13,1804.98 L572.03,1808.34 L574.95,1811.68 L577.88,1815.01 L580.83,1818.32 L583.8,1821.61 L586.79,1824.88 L589.79,1828.14 L592.81,1831.37 L595.85,1834.58 L598.91,1837.77 L601.98,1840.93 L605.08,1844.08 L608.2,1847.19 L611.33,1850.28 L614.49,1853.35 L617.67,1856.39 L620.87,1859.4 L624.09,1862.38 L627.33,1865.33 L630.59,1868.26 L633.88,1871.15 L637.19,1874 L640.52,1876.83 L643.88,1879.62 L647.26,1882.38 L650.66,1885.1 L654.09,1887.79 L657.54,1890.44 L661.02,1893.05 L664.52,1895.62 L668.05,1898.16 L671.6,1900.65 L675.18,1903.1 L678.79,1905.51 L682.42,1907.88 L686.08,1910.21 L689.76,1912.49 L693.48,1914.73 L697.21,1916.93 L700.98,1919.09 L704.76,1921.2 L708.57,1923.27 L712.4,1925.31 L716.26,1927.3 L720.14,1929.25 L724.04,1931.16 L727.96,1933.03 L731.9,1934.85 L735.86,1936.64 L739.84,1938.39 L743.85,1940.1 L747.87,1941.77 L751.91,1943.4 L755.96,1944.99 L760.04,1946.54 L764.13,1948.05 L768.24,1949.53 L772.36,1950.96 L776.5,1952.36 L780.66,1953.72 L784.83,1955.04 L789.01,1956.33 L793.21,1957.57 L797.42,1958.78 L801.65,1959.96 L805.88,1961.09 L810.13,1962.19 L814.39,1963.25 L818.66,1964.28 L822.94,1965.27 L827.23,1966.22 L831.53,1967.14 L835.84,1968.03 L840.16,1968.87 L844.49,1969.69 L848.82,1970.47 L853.16,1971.21 L857.51,1971.92 L861.86,1972.59 L866.22,1973.23 L870.58,1973.84 L874.95,1974.41 L879.32,1974.95 L883.7,1975.46 L888.08,1975.93 L892.46,1976.37 L896.85,1976.78 L901.23,1977.15 L905.62,1977.5 L910.01,1977.81 L914.4,1978.08 L918.79,1978.33 L923.18,1978.54 L927.57,1978.73 L931.95,1978.88 L936.34,1979 L940.72,1979.09 L945.1,1979.15 L949.48,1979.18 L953.85,1979.18 L958.21,1979.15 L962.58,1979.09 L966.93,1979 L971.29,1978.88 L975.63,1978.73 L979.97,1978.55" stroke="#808080" stroke-width="3.5" fill="none"/>
<path d="M202.62,2138.58 L203.1,2134.47 L203.59,2130.36 L204.09,2126.25 L204.6,2122.13 L205.12,2118.02 L205.65,2113.9 L206.18,2109.78 L206.73,2105.66 L207.29,2101.53 L207.85,2097.4 L208.43,2093.28 L209.01,2089.15 L209.6,2085.02 L210.21,2080.88 L210.82,2076.75 L211.44,2072.61 L212.07,2068.48 L212.71,2064.34 L213.36,2060.2 L214.02,2056.07 L214.69,2051.93 L215.37,2047.79 L216.06,2043.65 L216.76,2039.51 L217.46,2035.37 L218.18,2031.23 L218.91,2027.09 L219.64,2022.96 L220.39,2018.82 L221.14,2014.68 L221.9,2010.54 L222.68,2006.41 L223.46,2002.27 L224.25,1998.14 L225.06,1994 L225.87,1989.87 L226.69,1985.74 L227.52,1981.61 L228.36,1977.48 L229.21,1973.35 L230.07,1969.23 L230.94,1965.11 L231.82,1960.99 L232.71,1956.87 L233.61,1952.75 L234.52,1948.64 L235.44,1944.53 L236.37,1940.42 L237.3,1936.31 L238.25,1932.21 L239.21,1928.11 L240.17,1924.01 L241.15,1919.92 L242.14,1915.83 L243.13,1911.74 L244.14,1907.65 L245.15,1903.57 L246.18,1899.5 L247.21,1895.43 L248.26,1891.36 L249.31,1887.29 L250.37,1883.23 L251.45,1879.18 L252.53,1875.12 L253.62,1871.08 L254.73,1867.03 L255.84,1863 L256.96,1858.96 L258.1,1854.94 L259.24,1850.91 L260.39,1846.89 L261.55,1842.88 L262.73,1838.88 L263.91,1834.87 L265.1,1830.88 L266.3,1826.89 L267.51,1822.91 L268.73,1818.93 L269.97,1814.96 L271.21,1810.99 L272.46,1807.03 L273.72,1803.08 L274.99,1799.13 L276.28,1795.19 L277.57,1791.26 L278.89,1787.33 L280.22,1783.4 L281.57,1779.48 L282.93,1775.56 L284.32,1771.64 L285.74,1767.73 L287.17,1763.81 L288.64,1759.9 L290.13,1755.98 L291.65,1752.07 L293.21,1748.15 L294.79,1744.24 L296.41,1740.32 L298.07,1736.4 L299.76,1732.47 L301.49,1728.54 L303.27,1724.61 L305.08,1720.68 L306.95,1716.75 L308.87,1712.84 L310.86,1708.96 L312.91,1705.11 L315.03,1701.31 L317.23,1697.55 L319.51,1693.85 L321.88,1690.22 L324.35,1686.67 L326.91,1683.2 L329.58,1679.83 L332.36,1676.56 L335.25,1673.4 L338.24,1670.38 L341.33,1667.5 L344.52,1664.79 L347.81,1662.26 L351.19,1659.93 L354.65,1657.81 L358.2,1655.91 L361.83,1654.26 L365.54,1652.85 L369.31,1651.7 L373.14,1650.79 L377,1650.14 L380.91,1649.73 L384.83,1649.57 L388.76,1649.65 L392.7,1649.98 L396.62,1650.56 L400.53,1651.38 L404.4,1652.44 L408.24,1653.73 L412.04,1655.24 L415.8,1656.94 L419.52,1658.8 L423.2,1660.81 L426.84,1662.95 L430.44,1665.18 L434,1667.48 L437.52,1669.85 L440.99,1672.26 L444.42,1674.71 L447.82,1677.21 L451.18,1679.74 L454.5,1682.32 L457.78,1684.93 L461.03,1687.59 L464.25,1690.28 L467.43,1693 L470.58,1695.76 L473.7,1698.55 L476.8,1701.38 L479.86,1704.23 L482.9,1707.11 L485.91,1710.02 L488.9,1712.96 L491.87,1715.92 L494.81,1718.91 L497.73,1721.92 L500.63,1724.95 L503.51,1728 L506.38,1731.07 L509.23,1734.16 L512.06,1737.27 L514.88,1740.39 L517.68,1743.53 L520.47,1746.68 L523.26,1749.84 L526.03,1753.02 L528.79,1756.2 L531.55,1759.39 L534.3,1762.59 L537.04,1765.79 L539.78,1769 L542.52,1772.21 L545.25,1775.43 L547.99,1778.64 L550.72,1781.86 L553.46,1785.07 L556.2,1788.28 L558.94,1791.49 L561.68,1794.69 L564.44,1797.89 L567.2,1801.08 L569.97,1804.26 L572.75,1807.43 L575.53,1810.59 L578.33,1813.74 L581.15,1816.87 L583.97,1819.99 L586.82,1823.09 L589.67,1826.18 L592.55,1829.24 L595.44,1832.29 L598.36,1835.32 L601.29,1838.32 L604.25,1841.3 L607.23,1844.26 L610.23,1847.19 L613.26,1850.09 L616.31,1852.97 L619.39,1855.82 L622.5,1858.63 L625.64,1861.42 L628.81,1864.17 L632,1866.89 L635.22,1869.59 L638.47,1872.25 L641.74,1874.87 L645.04,1877.47 L648.37,1880.04 L651.72,1882.57 L655.09,1885.07 L658.49,1887.54 L661.91,1889.97 L665.36,1892.37 L668.83,1894.74 L672.32,1897.08 L675.83,1899.38 L679.37,1901.65 L682.92,1903.88 L686.5,1906.08 L690.1,1908.25 L693.72,1910.38 L697.35,1912.48 L701.01,1914.55 L704.69,1916.57 L708.38,1918.57 L712.09,1920.53 L715.82,1922.45 L719.57,1924.34 L723.34,1926.19 L727.12,1928.01 L730.91,1929.79 L734.73,1931.53 L738.55,1933.24 L742.4,1934.91 L746.26,1936.55 L750.13,1938.14 L754.01,1939.7 L757.91,1941.23 L761.82,1942.71 L765.75,1944.16 L769.68,1945.57 L773.63,1946.95 L777.59,1948.28 L781.56,1949.58 L785.54,1950.83 L789.53,1952.05 L793.53,1953.24 L797.54,1954.38 L801.57,1955.5 L805.6,1956.57 L809.63,1957.61 L813.68,1958.62 L817.74,1959.59 L821.8,1960.53 L825.87,1961.43 L829.96,1962.31 L834.04,1963.15 L838.14,1963.96 L842.24,1964.74 L846.35,1965.49 L850.47,1966.22 L854.59,1966.91 L858.72,1967.58 L862.85,1968.21 L866.99,1968.82 L871.14,1969.41 L875.29,1969.97 L879.45,1970.5 L883.61,1971.01 L887.77,1971.49 L891.94,1971.95 L896.12,1972.39 L900.29,1972.8 L904.47,1973.2 L908.66,1973.57 L912.85,1973.92 L917.04,1974.25 L921.23,1974.56 L925.42,1974.85 L929.62,1975.13 L933.82,1975.38 L938.02,1975.62 L942.22,1975.84 L946.42,1976.04 L950.63,1976.23 L954.83,1976.41 L959.04,1976.56 L963.24,1976.71 L967.44,1976.84 L971.65,1976.96 L975.85,1977.07 L980.05,1977.16" stroke="#808080" stroke-width="3.5" fill="none" stroke-dasharray="3.5 5.8"/>
<path d="M191.4,2123 L205,2136.6 M191.4,2136.6 L205,2123 M246.85,1843 L260.45,1856.6 M246.85,1856.6 L260.45,1843 M302.3,1682 L315.9,1695.6 M302.3,1695.6 L315.9,1682 M357.75,1623.5 L371.35,1637.1 M357.75,1637.1 L371.35,1623.5 M413.2,1632 L426.8,1645.6 M413.2,1645.6 L426.8,1632 M468.65,1684 L482.25,1697.6 M468.65,1697.6 L482.25,1684 M524.1,1751 L537.7,1764.6 M524.1,1764.6 L537.7,1751 M579.55,1814.5 L593.15,1828.1 M579.55,1828.1 L593.15,1814.5 M635,1869.5 L648.6,1883.1 M635,1883.1 L648.6,1869.5 M690.45,1910.6 L704.05,1924.2 M690.45,1924.2 L704.05,1910.6 M745.9,1938 L759.5,1951.6 M745.9,1951.6 L759.5,1938 M801.35,1954 L814.95,1967.6 M801.35,1967.6 L814.95,1954 M856.8,1962.6 L870.4,1976.2 M856.8,1976.2 L870.4,1962.6 M912.25,1968 L925.85,1981.6 M912.25,1981.6 L925.85,1968 " stroke="#808080" stroke-width="2.45" fill="none"/>
<path d="M159.8,2160.09 L160.22,2155.17 L160.66,2150.25 L161.11,2145.33 L161.56,2140.42 L162.03,2135.51 L162.51,2130.61 L163,2125.7 L163.5,2120.8 L164.01,2115.9 L164.53,2111 L165.06,2106.11 L165.6,2101.22 L166.15,2096.33 L166.71,2091.44 L167.28,2086.55 L167.86,2081.67 L168.45,2076.79 L169.04,2071.91 L169.65,2067.03 L170.27,2062.16 L170.9,2057.28 L171.54,2052.41 L172.18,2047.54 L172.84,2042.68 L173.51,2037.81 L174.18,2032.95 L174.86,2028.08 L175.56,2023.22 L176.26,2018.37 L176.97,2013.51 L177.68,2008.65 L178.41,2003.8 L179.15,1998.95 L179.89,1994.1 L180.64,1989.25 L181.4,1984.4 L182.17,1979.55 L182.95,1974.71 L183.74,1969.87 L184.53,1965.02 L185.33,1960.18 L186.14,1955.34 L186.96,1950.5 L187.78,1945.67 L188.61,1940.83 L189.45,1935.99 L190.3,1931.16 L191.16,1926.33 L192.02,1921.5 L192.89,1916.66 L193.76,1911.83 L194.65,1907 L195.54,1902.18 L196.44,1897.35 L197.34,1892.52 L198.25,1887.69 L199.17,1882.87 L200.09,1878.04 L201.02,1873.22 L201.96,1868.4 L202.91,1863.57 L203.86,1858.75 L204.81,1853.93 L205.78,1849.1 L206.75,1844.28 L207.72,1839.46 L208.7,1834.64 L209.69,1829.82 L210.68,1825 L211.68,1820.18 L212.68,1815.36 L213.69,1810.54 L214.71,1805.72 L215.73,1800.9 L216.75,1796.08 L217.79,1791.26 L218.83,1786.44 L219.88,1781.63 L220.94,1776.82 L222.01,1772.01 L223.1,1767.2 L224.2,1762.4 L225.32,1757.6 L226.45,1752.82 L227.61,1748.03 L228.79,1743.26 L229.99,1738.49 L231.21,1733.74 L232.46,1728.99 L233.74,1724.25 L235.05,1719.53 L236.38,1714.81 L237.75,1710.11 L239.15,1705.43 L240.58,1700.75 L242.05,1696.09 L243.56,1691.45 L245.11,1686.82 L246.69,1682.21 L248.32,1677.62 L249.99,1673.05 L251.71,1668.49 L253.47,1663.95 L255.28,1659.44 L257.15,1654.93 L259.08,1650.44 L261.07,1645.96 L263.13,1641.48 L265.26,1637.02 L267.47,1632.55 L269.76,1628.08 L272.13,1623.62 L274.6,1619.14 L277.17,1614.68 L279.87,1610.28 L282.75,1606.01 L285.85,1601.95 L289.2,1598.16 L292.81,1594.7 L296.67,1591.63 L300.75,1588.99 L305.01,1586.84 L309.43,1585.22 L313.99,1584.2 L318.65,1583.81 L323.39,1584.1 L328.16,1585.02 L332.89,1586.41 L337.52,1588.14 L342,1590.08 L346.32,1592.23 L350.51,1594.56 L354.55,1597.08 L358.46,1599.77 L362.25,1602.63 L365.91,1605.64 L369.46,1608.81 L372.9,1612.11 L376.24,1615.55 L379.48,1619.11 L382.62,1622.78 L385.69,1626.56 L388.67,1630.44 L391.58,1634.41 L394.43,1638.46 L397.21,1642.58 L399.94,1646.77 L402.62,1651.01 L405.25,1655.3 L407.85,1659.62 L410.41,1663.98 L412.95,1668.36 L415.48,1672.75 L417.98,1677.14 L420.48,1681.54 L422.98,1685.91 L425.48,1690.27 L428,1694.6 L430.52,1698.91 L433.05,1703.19 L435.58,1707.44 L438.13,1711.68 L440.69,1715.89 L443.25,1720.08 L445.82,1724.25 L448.4,1728.4 L450.99,1732.53 L453.59,1736.65 L456.19,1740.76 L458.8,1744.85 L461.42,1748.93 L464.05,1753 L466.68,1757.05 L469.32,1761.1 L471.97,1765.15 L474.62,1769.18 L477.28,1773.21 L479.95,1777.24 L482.63,1781.26 L485.31,1785.28 L487.99,1789.31 L490.69,1793.33 L493.38,1797.35 L496.09,1801.38 L498.8,1805.41 L501.51,1809.45 L504.23,1813.5 L506.96,1817.55 L509.69,1821.61 L512.42,1825.68 L515.16,1829.76 L517.91,1833.86 L520.66,1837.96 L523.43,1842.07 L526.2,1846.18 L528.99,1850.28 L531.8,1854.38 L534.62,1858.48 L537.47,1862.56 L540.34,1866.63 L543.23,1870.68 L546.15,1874.71 L549.1,1878.72 L552.08,1882.7 L555.1,1886.65 L558.15,1890.57 L561.24,1894.45 L564.37,1898.29 L567.54,1902.1 L570.75,1905.85 L574.02,1909.56 L577.33,1913.21 L580.69,1916.81 L584.1,1920.36 L587.58,1923.84 L591.1,1927.26 L594.69,1930.61 L598.34,1933.89 L602.05,1937.09 L605.83,1940.22 L609.67,1943.28 L613.57,1946.26 L617.53,1949.16 L621.54,1951.99 L625.61,1954.73 L629.73,1957.4 L633.9,1959.99 L638.12,1962.51 L642.39,1964.94 L646.7,1967.29 L651.05,1969.57 L655.44,1971.76 L659.87,1973.87 L664.34,1975.9 L668.84,1977.85 L673.37,1979.72 L677.94,1981.51 L682.53,1983.21 L687.15,1984.83 L691.79,1986.36 L696.45,1987.82 L701.14,1989.18 L705.84,1990.47 L710.56,1991.67 L715.3,1992.79 L720.05,1993.83 L724.82,1994.8 L729.61,1995.69 L734.41,1996.51 L739.22,1997.26 L744.05,1997.94 L748.89,1998.56 L753.75,1999.11 L758.61,1999.6 L763.49,2000.03 L768.37,2000.4 L773.27,2000.72 L778.17,2000.99 L783.09,2001.2 L788.01,2001.36 L792.94,2001.48 L797.87,2001.55 L802.82,2001.58 L807.76,2001.57 L812.72,2001.52 L817.67,2001.43 L822.63,2001.31 L827.6,2001.15 L832.56,2000.97 L837.53,2000.75 L842.5,2000.51 L847.47,2000.24 L852.44,1999.96 L857.41,1999.65 L862.38,1999.32 L867.35,1998.98 L872.31,1998.62 L877.27,1998.25 L882.23,1997.87 L887.18,1997.49 L892.13,1997.09 L897.07,1996.7 L902.01,1996.3 L906.94,1995.9 L911.86,1995.51 L916.78,1995.12 L921.68,1994.73 L926.58,1994.36 L931.47,1993.99 L936.34,1993.64 L941.21,1993.3 L946.07,1992.98 L950.91,1992.68 L955.74,1992.4 L960.55,1992.15 L965.36,1991.91 L970.14,1991.71 L974.91,1991.54 L979.67,1991.39" stroke="#140e36" stroke-width="3.5" fill="none"/>
<path d="M183.44,2159.77 L183.89,2155.86 L184.35,2151.95 L184.82,2148.03 L185.31,2144.11 L185.81,2140.19 L186.33,2136.26 L186.85,2132.34 L187.39,2128.41 L187.95,2124.48 L188.51,2120.54 L189.09,2116.61 L189.68,2112.67 L190.29,2108.74 L190.9,2104.8 L191.53,2100.86 L192.17,2096.92 L192.82,2092.97 L193.48,2089.03 L194.16,2085.09 L194.84,2081.15 L195.54,2077.21 L196.25,2073.27 L196.97,2069.32 L197.7,2065.38 L198.44,2061.44 L199.2,2057.5 L199.96,2053.57 L200.73,2049.63 L201.51,2045.7 L202.31,2041.76 L203.11,2037.83 L203.92,2033.9 L204.75,2029.98 L205.58,2026.05 L206.42,2022.13 L207.27,2018.21 L208.13,2014.29 L209,2010.38 L209.88,2006.47 L210.76,2002.56 L211.66,1998.66 L212.56,1994.76 L213.47,1990.87 L214.39,1986.98 L215.32,1983.09 L216.26,1979.21 L217.2,1975.33 L218.15,1971.46 L219.11,1967.6 L220.08,1963.73 L221.05,1959.88 L222.03,1956.03 L223.02,1952.18 L224.02,1948.35 L225.02,1944.51 L226.02,1940.69 L227.04,1936.87 L228.06,1933.05 L229.09,1929.25 L230.12,1925.45 L231.17,1921.65 L232.22,1917.85 L233.28,1914.07 L234.36,1910.28 L235.44,1906.5 L236.53,1902.72 L237.64,1898.94 L238.75,1895.16 L239.88,1891.39 L241.02,1887.61 L242.18,1883.84 L243.35,1880.07 L244.53,1876.29 L245.73,1872.52 L246.94,1868.74 L248.17,1864.96 L249.41,1861.18 L250.68,1857.39 L251.96,1853.6 L253.25,1849.81 L254.57,1846.01 L255.9,1842.21 L257.26,1838.4 L258.63,1834.59 L260.03,1830.77 L261.44,1826.95 L262.88,1823.12 L264.34,1819.28 L265.82,1815.43 L267.33,1811.58 L268.87,1807.74 L270.44,1803.91 L272.06,1800.1 L273.71,1796.31 L275.42,1792.54 L277.17,1788.81 L278.98,1785.12 L280.85,1781.48 L282.78,1777.89 L284.78,1774.35 L286.85,1770.88 L288.99,1767.47 L291.21,1764.14 L293.51,1760.89 L295.9,1757.72 L298.38,1754.65 L300.96,1751.67 L303.63,1748.8 L306.4,1746.04 L309.28,1743.39 L312.27,1740.86 L315.38,1738.45 L318.6,1736.18 L321.93,1734.05 L325.36,1732.09 L328.88,1730.3 L332.48,1728.71 L336.15,1727.33 L339.88,1726.19 L343.64,1725.28 L347.45,1724.64 L351.27,1724.28 L355.11,1724.2 L358.96,1724.39 L362.8,1724.82 L366.64,1725.48 L370.47,1726.35 L374.27,1727.4 L378.05,1728.61 L381.8,1729.98 L385.5,1731.47 L389.16,1733.07 L392.76,1734.76 L396.32,1736.54 L399.82,1738.4 L403.27,1740.34 L406.68,1742.35 L410.04,1744.44 L413.37,1746.59 L416.64,1748.81 L419.88,1751.1 L423.09,1753.44 L426.25,1755.84 L429.39,1758.3 L432.49,1760.8 L435.56,1763.36 L438.61,1765.95 L441.62,1768.59 L444.62,1771.27 L447.59,1773.98 L450.54,1776.72 L453.47,1779.49 L456.38,1782.29 L459.28,1785.1 L462.17,1787.94 L465.04,1790.79 L467.9,1793.66 L470.76,1796.53 L473.61,1799.41 L476.46,1802.3 L479.3,1805.18 L482.14,1808.06 L484.99,1810.93 L487.84,1813.8 L490.69,1816.65 L493.54,1819.5 L496.4,1822.33 L499.27,1825.15 L502.15,1827.96 L505.03,1830.75 L507.92,1833.53 L510.81,1836.29 L513.72,1839.04 L516.63,1841.78 L519.56,1844.5 L522.5,1847.2 L525.45,1849.88 L528.41,1852.55 L531.38,1855.19 L534.37,1857.82 L537.37,1860.43 L540.39,1863.02 L543.42,1865.58 L546.47,1868.12 L549.54,1870.65 L552.62,1873.14 L555.73,1875.62 L558.85,1878.07 L561.99,1880.49 L565.15,1882.89 L568.33,1885.27 L571.53,1887.62 L574.76,1889.94 L578,1892.23 L581.26,1894.5 L584.55,1896.74 L587.86,1898.95 L591.18,1901.13 L594.53,1903.28 L597.89,1905.41 L601.27,1907.5 L604.68,1909.57 L608.1,1911.6 L611.53,1913.61 L614.99,1915.58 L618.46,1917.53 L621.95,1919.44 L625.46,1921.33 L628.99,1923.18 L632.53,1925 L636.09,1926.79 L639.66,1928.54 L643.25,1930.26 L646.85,1931.95 L650.47,1933.61 L654.11,1935.23 L657.75,1936.82 L661.42,1938.38 L665.09,1939.9 L668.78,1941.39 L672.49,1942.84 L676.21,1944.25 L679.94,1945.63 L683.68,1946.98 L687.43,1948.29 L691.2,1949.56 L694.98,1950.8 L698.77,1952 L702.57,1953.16 L706.38,1954.29 L710.2,1955.37 L714.04,1956.42 L717.88,1957.43 L721.73,1958.4 L725.59,1959.34 L729.47,1960.24 L733.35,1961.1 L737.24,1961.92 L741.13,1962.71 L745.04,1963.47 L748.95,1964.19 L752.87,1964.89 L756.8,1965.55 L760.74,1966.18 L764.68,1966.79 L768.63,1967.36 L772.58,1967.91 L776.55,1968.44 L780.51,1968.94 L784.48,1969.41 L788.46,1969.87 L792.44,1970.3 L796.43,1970.71 L800.42,1971.1 L804.41,1971.47 L808.41,1971.82 L812.41,1972.16 L816.41,1972.48 L820.42,1972.78 L824.43,1973.07 L828.44,1973.35 L832.45,1973.62 L836.47,1973.87 L840.49,1974.12 L844.5,1974.35 L848.52,1974.58 L852.54,1974.8 L856.56,1975.01 L860.58,1975.22 L864.6,1975.42 L868.62,1975.62 L872.63,1975.81 L876.65,1976.01 L880.67,1976.2 L884.68,1976.4 L888.69,1976.59 L892.7,1976.79 L896.71,1976.99 L900.71,1977.2 L904.71,1977.41 L908.71,1977.63 L912.7,1977.85 L916.69,1978.08 L920.68,1978.32 L924.66,1978.57 L928.63,1978.84 L932.6,1979.11 L936.57,1979.4 L940.53,1979.7 L944.48,1980.01 L948.43,1980.35 L952.37,1980.69 L956.31,1981.06 L960.23,1981.44 L964.15,1981.85 L968.07,1982.27 L971.97,1982.72 L975.87,1983.19 L979.76,1983.68" stroke="#140e36" stroke-width="3.5" fill="none" stroke-dasharray="3.5 5.8"/>
<path d="M201.45,2160.13 L202.31,2156.58 L203.16,2153.03 L204,2149.48 L204.85,2145.92 L205.68,2142.37 L206.51,2138.81 L207.34,2135.25 L208.16,2131.7 L208.98,2128.14 L209.79,2124.58 L210.6,2121.02 L211.41,2117.46 L212.21,2113.9 L213.01,2110.34 L213.81,2106.78 L214.6,2103.22 L215.4,2099.65 L216.19,2096.09 L216.98,2092.53 L217.77,2088.97 L218.56,2085.41 L219.35,2081.84 L220.14,2078.28 L220.93,2074.72 L221.72,2071.16 L222.51,2067.6 L223.3,2064.04 L224.09,2060.48 L224.88,2056.92 L225.68,2053.36 L226.48,2049.8 L227.28,2046.24 L228.08,2042.69 L228.89,2039.13 L229.69,2035.58 L230.51,2032.02 L231.32,2028.47 L232.14,2024.92 L232.97,2021.37 L233.8,2017.82 L234.63,2014.28 L235.47,2010.73 L236.31,2007.19 L237.16,2003.64 L238.02,2000.1 L238.88,1996.56 L239.75,1993.03 L240.63,1989.49 L241.51,1985.96 L242.4,1982.43 L243.3,1978.9 L244.21,1975.37 L245.12,1971.84 L246.05,1968.32 L246.98,1964.8 L247.92,1961.28 L248.87,1957.77 L249.83,1954.25 L250.8,1950.74 L251.78,1947.23 L252.77,1943.73 L253.78,1940.23 L254.79,1936.73 L255.82,1933.23 L256.85,1929.74 L257.9,1926.25 L258.97,1922.76 L260.05,1919.28 L261.15,1915.8 L262.26,1912.32 L263.38,1908.85 L264.53,1905.38 L265.69,1901.92 L266.88,1898.46 L268.08,1895 L269.3,1891.55 L270.55,1888.1 L271.81,1884.65 L273.1,1881.22 L274.41,1877.78 L275.75,1874.35 L277.11,1870.93 L278.49,1867.51 L279.9,1864.09 L281.34,1860.69 L282.82,1857.3 L284.33,1853.92 L285.9,1850.58 L287.51,1847.27 L289.18,1843.99 L290.92,1840.76 L292.73,1837.58 L294.61,1834.46 L296.57,1831.4 L298.62,1828.4 L300.77,1825.49 L303.01,1822.65 L305.36,1819.9 L307.82,1817.25 L310.39,1814.69 L313.09,1812.24 L315.9,1809.9 L318.81,1807.67 L321.83,1805.55 L324.94,1803.54 L328.13,1801.65 L331.4,1799.88 L334.73,1798.24 L338.12,1796.71 L341.56,1795.32 L345.04,1794.05 L348.56,1792.91 L352.1,1791.9 L355.66,1791.03 L359.24,1790.3 L362.81,1789.7 L366.37,1789.25 L369.92,1788.94 L373.45,1788.78 L376.96,1788.76 L380.44,1788.87 L383.89,1789.13 L387.33,1789.51 L390.74,1790.03 L394.13,1790.66 L397.49,1791.42 L400.84,1792.29 L404.16,1793.27 L407.47,1794.35 L410.75,1795.54 L414.02,1796.83 L417.26,1798.21 L420.49,1799.68 L423.7,1801.24 L426.89,1802.88 L430.06,1804.6 L433.22,1806.39 L436.36,1808.25 L439.48,1810.17 L442.59,1812.16 L445.69,1814.2 L448.76,1816.3 L451.83,1818.45 L454.88,1820.64 L457.92,1822.87 L460.94,1825.14 L463.96,1827.44 L466.96,1829.76 L469.95,1832.12 L472.92,1834.49 L475.89,1836.88 L478.85,1839.28 L481.8,1841.69 L484.74,1844.1 L487.67,1846.51 L490.59,1848.92 L493.5,1851.32 L496.41,1853.71 L499.31,1856.09 L502.21,1858.46 L505.1,1860.82 L507.98,1863.16 L510.87,1865.5 L513.75,1867.82 L516.64,1870.12 L519.52,1872.41 L522.41,1874.68 L525.29,1876.94 L528.18,1879.17 L531.08,1881.39 L533.98,1883.59 L536.88,1885.77 L539.79,1887.93 L542.71,1890.06 L545.64,1892.17 L548.57,1894.26 L551.52,1896.32 L554.47,1898.36 L557.44,1900.37 L560.42,1902.35 L563.42,1904.31 L566.43,1906.23 L569.45,1908.13 L572.49,1910 L575.55,1911.83 L578.63,1913.63 L581.72,1915.4 L584.84,1917.14 L587.97,1918.85 L591.11,1920.53 L594.28,1922.17 L597.46,1923.79 L600.65,1925.37 L603.86,1926.93 L607.09,1928.45 L610.34,1929.95 L613.6,1931.42 L616.87,1932.86 L620.16,1934.27 L623.46,1935.65 L626.78,1937.01 L630.11,1938.33 L633.46,1939.63 L636.82,1940.91 L640.19,1942.15 L643.57,1943.38 L646.97,1944.57 L650.38,1945.74 L653.8,1946.88 L657.24,1948 L660.68,1949.1 L664.14,1950.17 L667.61,1951.21 L671.09,1952.24 L674.58,1953.23 L678.08,1954.21 L681.59,1955.16 L685.11,1956.09 L688.64,1957 L692.18,1957.89 L695.73,1958.75 L699.28,1959.59 L702.85,1960.42 L706.42,1961.22 L710.01,1962 L713.6,1962.76 L717.19,1963.5 L720.8,1964.22 L724.41,1964.92 L728.03,1965.61 L731.65,1966.27 L735.28,1966.92 L738.92,1967.54 L742.56,1968.16 L746.21,1968.75 L749.86,1969.32 L753.52,1969.88 L757.18,1970.43 L760.85,1970.95 L764.52,1971.46 L768.2,1971.96 L771.87,1972.44 L775.56,1972.9 L779.24,1973.35 L782.93,1973.79 L786.62,1974.21 L790.31,1974.62 L794.01,1975.01 L797.7,1975.39 L801.4,1975.76 L805.1,1976.11 L808.8,1976.46 L812.5,1976.79 L816.2,1977.11 L819.91,1977.42 L823.61,1977.71 L827.31,1978 L831.01,1978.28 L834.71,1978.54 L838.41,1978.8 L842.11,1979.04 L845.8,1979.28 L849.5,1979.51 L853.19,1979.73 L856.88,1979.94 L860.57,1980.14 L864.25,1980.34 L867.93,1980.53 L871.61,1980.71 L875.29,1980.88 L878.96,1981.05 L882.62,1981.21 L886.28,1981.37 L889.94,1981.52 L893.59,1981.66 L897.24,1981.8 L900.88,1981.94 L904.52,1982.07 L908.15,1982.19 L911.77,1982.31 L915.39,1982.43 L919,1982.55 L922.6,1982.66 L926.2,1982.77 L929.78,1982.88 L933.36,1982.99 L936.94,1983.09 L940.5,1983.2 L944.06,1983.3 L947.6,1983.4 L951.14,1983.5 L954.67,1983.6 L958.19,1983.7 L961.7,1983.8 L965.19,1983.9 L968.68,1984.01 L972.16,1984.11 L975.63,1984.22 L979.08,1984.33" stroke="#3b0f70" stroke-width="3.5" fill="none"/>
<path d="M221.55,2067.62 V2076.22 M280.3,1858.86 V1867.46 M339.05,1792.03 V1800.63 M397.8,1787.2 V1795.8 M456.55,1817.43 V1826.29 M515.3,1863.44 V1874.66 M574.05,1904.15 V1917.71 M632.8,1931.42 V1947.33 M691.55,1949.43 V1966.03 M750.3,1961.09 V1977.69 M809.05,1968.18 V1984.78 M867.8,1972.22 V1988.82 M926.55,1974.48 V1991.08 " stroke="#3b0f70" stroke-width="3.5" fill="none"/>
<path d="M197.62,2160.12 L198.58,2156.64 L199.53,2153.16 L200.47,2149.68 L201.4,2146.19 L202.32,2142.71 L203.23,2139.22 L204.13,2135.73 L205.02,2132.24 L205.9,2128.75 L206.77,2125.26 L207.64,2121.77 L208.49,2118.27 L209.35,2114.78 L210.19,2111.28 L211.03,2107.79 L211.87,2104.29 L212.7,2100.8 L213.53,2097.3 L214.35,2093.81 L215.17,2090.31 L215.99,2086.81 L216.81,2083.32 L217.62,2079.82 L218.43,2076.33 L219.25,2072.83 L220.06,2069.34 L220.87,2065.85 L221.68,2062.36 L222.5,2058.86 L223.31,2055.37 L224.13,2051.88 L224.95,2048.4 L225.78,2044.91 L226.61,2041.43 L227.44,2037.94 L228.28,2034.46 L229.12,2030.98 L229.97,2027.5 L230.82,2024.03 L231.68,2020.55 L232.55,2017.08 L233.43,2013.61 L234.31,2010.14 L235.2,2006.68 L236.1,2003.21 L237.01,1999.75 L237.94,1996.3 L238.87,1992.84 L239.81,1989.39 L240.76,1985.94 L241.73,1982.5 L242.71,1979.06 L243.7,1975.62 L244.71,1972.18 L245.73,1968.75 L246.76,1965.32 L247.81,1961.9 L248.87,1958.48 L249.95,1955.06 L251.05,1951.65 L252.16,1948.24 L253.29,1944.84 L254.44,1941.44 L255.61,1938.04 L256.79,1934.65 L258,1931.27 L259.22,1927.88 L260.47,1924.5 L261.73,1921.13 L263.02,1917.76 L264.33,1914.39 L265.66,1911.02 L267.02,1907.65 L268.39,1904.29 L269.79,1900.93 L271.22,1897.57 L272.67,1894.21 L274.14,1890.85 L275.64,1887.49 L277.17,1884.14 L278.72,1880.78 L280.3,1877.42 L281.91,1874.07 L283.55,1870.72 L285.23,1867.39 L286.94,1864.08 L288.69,1860.8 L290.48,1857.55 L292.32,1854.33 L294.2,1851.16 L296.14,1848.04 L298.13,1844.97 L300.17,1841.96 L302.27,1839.02 L304.43,1836.15 L306.65,1833.35 L308.94,1830.64 L311.3,1828.02 L313.73,1825.49 L316.24,1823.06 L318.82,1820.74 L321.48,1818.53 L324.22,1816.44 L327.05,1814.47 L329.96,1812.62 L332.96,1810.92 L336.05,1809.34 L339.21,1807.9 L342.44,1806.59 L345.74,1805.41 L349.1,1804.35 L352.51,1803.43 L355.97,1802.63 L359.46,1801.95 L362.98,1801.4 L366.54,1800.96 L370.11,1800.65 L373.69,1800.46 L377.28,1800.39 L380.87,1800.43 L384.46,1800.59 L388.03,1800.86 L391.58,1801.24 L395.11,1801.74 L398.6,1802.34 L402.06,1803.05 L405.48,1803.87 L408.87,1804.79 L412.22,1805.81 L415.54,1806.92 L418.83,1808.12 L422.09,1809.4 L425.32,1810.77 L428.52,1812.22 L431.69,1813.75 L434.84,1815.35 L437.97,1817.02 L441.07,1818.76 L444.15,1820.55 L447.21,1822.41 L450.25,1824.32 L453.28,1826.28 L456.28,1828.3 L459.27,1830.35 L462.25,1832.45 L465.21,1834.58 L468.16,1836.75 L471.1,1838.95 L474.03,1841.18 L476.95,1843.43 L479.87,1845.7 L482.78,1847.99 L485.68,1850.29 L488.58,1852.6 L491.47,1854.91 L494.37,1857.23 L497.27,1859.55 L500.16,1861.86 L503.06,1864.16 L505.96,1866.45 L508.87,1868.73 L511.79,1870.99 L514.71,1873.23 L517.64,1875.44 L520.57,1877.62 L523.52,1879.78 L526.47,1881.92 L529.43,1884.03 L532.4,1886.12 L535.38,1888.18 L538.37,1890.21 L541.37,1892.22 L544.38,1894.21 L547.39,1896.17 L550.42,1898.1 L553.45,1900.01 L556.49,1901.9 L559.55,1903.75 L562.61,1905.59 L565.68,1907.4 L568.76,1909.18 L571.85,1910.94 L574.95,1912.68 L578.06,1914.39 L581.18,1916.07 L584.31,1917.73 L587.45,1919.36 L590.6,1920.97 L593.76,1922.56 L596.94,1924.12 L600.12,1925.65 L603.31,1927.16 L606.51,1928.64 L609.73,1930.1 L612.95,1931.54 L616.19,1932.95 L619.44,1934.33 L622.69,1935.69 L625.96,1937.03 L629.24,1938.34 L632.53,1939.62 L635.84,1940.88 L639.15,1942.12 L642.48,1943.33 L645.81,1944.51 L649.16,1945.68 L652.52,1946.82 L655.88,1947.93 L659.26,1949.03 L662.65,1950.1 L666.05,1951.14 L669.45,1952.17 L672.87,1953.17 L676.29,1954.15 L679.73,1955.11 L683.17,1956.05 L686.62,1956.97 L690.08,1957.86 L693.55,1958.74 L697.02,1959.59 L700.5,1960.43 L703.99,1961.25 L707.49,1962.04 L711,1962.82 L714.51,1963.58 L718.03,1964.32 L721.55,1965.04 L725.08,1965.74 L728.62,1966.42 L732.16,1967.09 L735.71,1967.74 L739.26,1968.37 L742.82,1968.99 L746.39,1969.59 L749.96,1970.17 L753.53,1970.73 L757.11,1971.28 L760.69,1971.82 L764.28,1972.34 L767.87,1972.84 L771.47,1973.33 L775.06,1973.81 L778.67,1974.27 L782.27,1974.71 L785.88,1975.14 L789.49,1975.56 L793.1,1975.97 L796.72,1976.36 L800.33,1976.74 L803.95,1977.11 L807.57,1977.46 L811.2,1977.81 L814.82,1978.14 L818.44,1978.46 L822.07,1978.76 L825.7,1979.06 L829.32,1979.35 L832.95,1979.62 L836.58,1979.89 L840.2,1980.15 L843.83,1980.39 L847.46,1980.63 L851.08,1980.86 L854.71,1981.07 L858.33,1981.28 L861.96,1981.49 L865.58,1981.68 L869.2,1981.87 L872.81,1982.04 L876.43,1982.21 L880.04,1982.38 L883.65,1982.53 L887.26,1982.68 L890.87,1982.83 L894.47,1982.96 L898.07,1983.1 L901.66,1983.22 L905.26,1983.34 L908.84,1983.46 L912.43,1983.57 L916.01,1983.68 L919.58,1983.78 L923.15,1983.88 L926.72,1983.97 L930.28,1984.06 L933.84,1984.15 L937.39,1984.24 L940.93,1984.32 L944.47,1984.4 L948,1984.47 L951.53,1984.55 L955.05,1984.62 L958.56,1984.7 L962.07,1984.77 L965.57,1984.84 L969.06,1984.91 L972.54,1984.98 L976.02,1985.04 L979.49,1985.11" stroke="#641a80" stroke-width="3.5" fill="none"/>
<path d="M221.55,2058.63 V2067.23 M280.3,1873.13 V1881.73 M339.05,1803.67 V1812.27 M397.8,1797.9 V1806.5 M456.55,1824.05 V1832.91 M515.3,1868.07 V1879.28 M574.05,1905.39 V1918.95 M632.8,1931.77 V1947.68 M691.55,1949.93 V1966.53 M750.3,1961.92 V1978.52 M809.05,1969.3 V1985.9 M867.8,1973.49 V1990.09 M926.55,1975.67 V1992.27 " stroke="#641a80" stroke-width="3.5" fill="none"/>
<path d="M194.06,2160.12 L195.08,2156.69 L196.1,2153.26 L197.09,2149.83 L198.08,2146.4 L199.05,2142.96 L200.01,2139.53 L200.97,2136.09 L201.91,2132.65 L202.84,2129.2 L203.76,2125.76 L204.68,2122.32 L205.58,2118.87 L206.48,2115.42 L207.37,2111.98 L208.26,2108.53 L209.14,2105.08 L210.01,2101.63 L210.88,2098.18 L211.75,2094.73 L212.61,2091.28 L213.47,2087.83 L214.32,2084.39 L215.17,2080.94 L216.03,2077.49 L216.88,2074.04 L217.73,2070.59 L218.58,2067.14 L219.43,2063.7 L220.28,2060.25 L221.13,2056.8 L221.98,2053.36 L222.84,2049.92 L223.7,2046.48 L224.56,2043.04 L225.43,2039.6 L226.3,2036.16 L227.18,2032.73 L228.07,2029.29 L228.96,2025.86 L229.85,2022.43 L230.76,2019 L231.67,2015.58 L232.59,2012.16 L233.52,2008.74 L234.45,2005.32 L235.4,2001.9 L236.36,1998.49 L237.33,1995.08 L238.31,1991.68 L239.31,1988.27 L240.31,1984.87 L241.33,1981.48 L242.36,1978.08 L243.41,1974.69 L244.47,1971.31 L245.55,1967.93 L246.64,1964.55 L247.75,1961.17 L248.88,1957.8 L250.02,1954.44 L251.18,1951.08 L252.36,1947.72 L253.56,1944.37 L254.78,1941.02 L256.01,1937.68 L257.27,1934.34 L258.55,1931.01 L259.85,1927.68 L261.18,1924.35 L262.52,1921.04 L263.89,1917.72 L265.28,1914.41 L266.7,1911.11 L268.14,1907.81 L269.6,1904.52 L271.1,1901.23 L272.61,1897.94 L274.16,1894.66 L275.73,1891.39 L277.33,1888.12 L278.96,1884.86 L280.61,1881.6 L282.3,1878.34 L284.01,1875.09 L285.76,1871.86 L287.54,1868.63 L289.36,1865.43 L291.21,1862.26 L293.11,1859.12 L295.06,1856.03 L297.05,1852.98 L299.09,1849.98 L301.19,1847.05 L303.34,1844.18 L305.55,1841.39 L307.82,1838.67 L310.15,1836.04 L312.55,1833.51 L315.02,1831.07 L317.56,1828.73 L320.17,1826.51 L322.86,1824.41 L325.63,1822.43 L328.48,1820.58 L331.42,1818.86 L334.44,1817.29 L337.53,1815.85 L340.7,1814.55 L343.94,1813.39 L347.23,1812.35 L350.58,1811.44 L353.98,1810.66 L357.41,1810.01 L360.89,1809.48 L364.39,1809.07 L367.91,1808.77 L371.45,1808.6 L375.01,1808.53 L378.56,1808.58 L382.12,1808.74 L385.67,1809.01 L389.2,1809.39 L392.72,1809.86 L396.21,1810.44 L399.67,1811.12 L403.1,1811.89 L406.49,1812.76 L409.85,1813.72 L413.18,1814.76 L416.48,1815.89 L419.76,1817.1 L423,1818.38 L426.22,1819.74 L429.42,1821.18 L432.59,1822.67 L435.74,1824.24 L438.87,1825.86 L441.98,1827.54 L445.07,1829.28 L448.14,1831.07 L451.2,1832.91 L454.24,1834.79 L457.26,1836.71 L460.27,1838.68 L463.27,1840.68 L466.26,1842.71 L469.23,1844.77 L472.2,1846.86 L475.16,1848.97 L478.11,1851.1 L481.06,1853.25 L484,1855.41 L486.94,1857.58 L489.88,1859.75 L492.81,1861.93 L495.75,1864.12 L498.68,1866.29 L501.62,1868.47 L504.56,1870.63 L507.51,1872.78 L510.46,1874.92 L513.42,1877.04 L516.38,1879.13 L519.35,1881.2 L522.34,1883.25 L525.32,1885.28 L528.32,1887.29 L531.33,1889.27 L534.34,1891.23 L537.36,1893.16 L540.39,1895.07 L543.43,1896.96 L546.48,1898.83 L549.53,1900.67 L552.6,1902.5 L555.67,1904.29 L558.75,1906.07 L561.84,1907.82 L564.94,1909.55 L568.05,1911.25 L571.16,1912.94 L574.29,1914.6 L577.42,1916.23 L580.56,1917.85 L583.71,1919.44 L586.87,1921 L590.04,1922.55 L593.22,1924.07 L596.4,1925.57 L599.6,1927.04 L602.81,1928.49 L606.02,1929.92 L609.24,1931.33 L612.48,1932.71 L615.72,1934.07 L618.97,1935.4 L622.23,1936.71 L625.5,1938 L628.78,1939.27 L632.07,1940.51 L635.37,1941.73 L638.68,1942.92 L642,1944.09 L645.32,1945.24 L648.66,1946.37 L652.01,1947.48 L655.36,1948.56 L658.72,1949.62 L662.09,1950.66 L665.47,1951.68 L668.86,1952.67 L672.25,1953.65 L675.65,1954.6 L679.06,1955.54 L682.48,1956.45 L685.91,1957.35 L689.34,1958.22 L692.78,1959.08 L696.22,1959.92 L699.67,1960.73 L703.13,1961.53 L706.6,1962.31 L710.07,1963.07 L713.54,1963.82 L717.03,1964.54 L720.51,1965.25 L724.01,1965.94 L727.51,1966.62 L731.01,1967.27 L734.52,1967.91 L738.03,1968.54 L741.55,1969.14 L745.08,1969.73 L748.6,1970.31 L752.14,1970.87 L755.67,1971.41 L759.21,1971.94 L762.76,1972.46 L766.3,1972.96 L769.85,1973.44 L773.41,1973.91 L776.96,1974.37 L780.52,1974.82 L784.09,1975.25 L787.65,1975.66 L791.22,1976.07 L794.79,1976.46 L798.36,1976.84 L801.94,1977.2 L805.51,1977.56 L809.09,1977.9 L812.67,1978.23 L816.25,1978.55 L819.83,1978.86 L823.41,1979.16 L827,1979.44 L830.58,1979.72 L834.17,1979.99 L837.75,1980.24 L841.34,1980.49 L844.92,1980.73 L848.51,1980.95 L852.09,1981.17 L855.68,1981.38 L859.26,1981.58 L862.84,1981.78 L866.43,1981.96 L870.01,1982.14 L873.59,1982.31 L877.17,1982.47 L880.74,1982.62 L884.32,1982.77 L887.89,1982.91 L891.46,1983.05 L895.03,1983.17 L898.6,1983.3 L902.17,1983.41 L905.73,1983.52 L909.29,1983.63 L912.84,1983.73 L916.4,1983.82 L919.95,1983.91 L923.49,1984 L927.04,1984.08 L930.58,1984.16 L934.11,1984.24 L937.64,1984.31 L941.17,1984.37 L944.69,1984.44 L948.21,1984.5 L951.72,1984.56 L955.23,1984.62 L958.73,1984.67 L962.23,1984.72 L965.72,1984.78 L969.21,1984.83 L972.69,1984.87 L976.17,1984.92 L979.64,1984.97" stroke="#8c2981" stroke-width="3.5" fill="none"/>
<path d="M221.55,2050.81 V2059.41 M280.3,1877.91 V1886.51 M339.05,1810.93 V1819.53 M397.8,1806.45 V1815.05 M456.55,1831.83 V1840.69 M515.3,1872.76 V1883.97 M574.05,1907.69 V1921.25 M632.8,1932.82 V1948.73 M691.55,1950.48 V1967.08 M750.3,1962.28 V1978.88 M809.05,1969.6 V1986.2 M867.8,1973.73 V1990.33 M926.55,1975.77 V1992.37 " stroke="#8c2981" stroke-width="3.5" fill="none"/>
<path d="M189.39,2159.73 L190.77,2156.56 L192.11,2153.37 L193.4,2150.15 L194.65,2146.92 L195.85,2143.67 L197.02,2140.4 L198.14,2137.12 L199.24,2133.82 L200.29,2130.5 L201.32,2127.18 L202.32,2123.84 L203.28,2120.49 L204.23,2117.13 L205.14,2113.76 L206.04,2110.38 L206.91,2106.99 L207.77,2103.59 L208.61,2100.19 L209.43,2096.78 L210.25,2093.37 L211.05,2089.95 L211.84,2086.53 L212.62,2083.11 L213.4,2079.69 L214.18,2076.26 L214.96,2072.84 L215.73,2069.42 L216.51,2066 L217.29,2062.59 L218.08,2059.17 L218.88,2055.77 L219.69,2052.37 L220.51,2048.97 L221.34,2045.58 L222.19,2042.2 L223.05,2038.83 L223.93,2035.47 L224.82,2032.11 L225.72,2028.76 L226.64,2025.41 L227.57,2022.07 L228.52,2018.74 L229.48,2015.41 L230.46,2012.09 L231.45,2008.77 L232.46,2005.45 L233.48,2002.15 L234.51,1998.84 L235.56,1995.54 L236.62,1992.24 L237.7,1988.95 L238.79,1985.66 L239.9,1982.37 L241.02,1979.09 L242.15,1975.81 L243.3,1972.53 L244.46,1969.25 L245.64,1965.98 L246.83,1962.7 L248.04,1959.43 L249.26,1956.16 L250.49,1952.89 L251.74,1949.62 L253.01,1946.35 L254.29,1943.08 L255.58,1939.81 L256.88,1936.54 L258.21,1933.27 L259.55,1930.01 L260.91,1926.74 L262.3,1923.49 L263.71,1920.24 L265.15,1917 L266.61,1913.77 L268.11,1910.56 L269.64,1907.35 L271.21,1904.16 L272.81,1900.99 L274.45,1897.84 L276.14,1894.71 L277.86,1891.59 L279.64,1888.5 L281.46,1885.44 L283.33,1882.4 L285.25,1879.39 L287.22,1876.42 L289.25,1873.49 L291.32,1870.6 L293.45,1867.77 L295.64,1864.99 L297.88,1862.27 L300.18,1859.62 L302.53,1857.04 L304.94,1854.53 L307.41,1852.11 L309.94,1849.77 L312.52,1847.52 L315.17,1845.36 L317.88,1843.31 L320.66,1841.35 L323.49,1839.51 L326.39,1837.79 L329.36,1836.18 L332.39,1834.7 L335.48,1833.34 L338.63,1832.1 L341.83,1830.99 L345.09,1829.99 L348.38,1829.11 L351.71,1828.34 L355.08,1827.68 L358.48,1827.13 L361.91,1826.69 L365.35,1826.36 L368.82,1826.13 L372.29,1826 L375.77,1825.97 L379.26,1826.04 L382.74,1826.2 L386.22,1826.46 L389.69,1826.81 L393.14,1827.25 L396.57,1827.78 L399.98,1828.39 L403.36,1829.09 L406.72,1829.87 L410.05,1830.72 L413.37,1831.65 L416.66,1832.66 L419.92,1833.73 L423.17,1834.87 L426.4,1836.07 L429.61,1837.33 L432.8,1838.66 L435.98,1840.04 L439.14,1841.47 L442.28,1842.95 L445.41,1844.49 L448.53,1846.06 L451.63,1847.68 L454.72,1849.34 L457.8,1851.04 L460.87,1852.77 L463.93,1854.53 L466.98,1856.32 L470.02,1858.14 L473.06,1859.98 L476.09,1861.84 L479.11,1863.72 L482.13,1865.62 L485.14,1867.52 L488.16,1869.44 L491.17,1871.37 L494.17,1873.3 L497.18,1875.23 L500.19,1877.16 L503.2,1879.09 L506.21,1881.01 L509.22,1882.92 L512.24,1884.82 L515.26,1886.71 L518.29,1888.58 L521.32,1890.43 L524.36,1892.26 L527.4,1894.08 L530.44,1895.88 L533.5,1897.66 L536.56,1899.43 L539.62,1901.18 L542.69,1902.91 L545.76,1904.62 L548.84,1906.31 L551.93,1907.98 L555.02,1909.64 L558.12,1911.28 L561.23,1912.9 L564.34,1914.5 L567.46,1916.08 L570.58,1917.64 L573.71,1919.19 L576.85,1920.71 L579.99,1922.22 L583.14,1923.7 L586.3,1925.17 L589.46,1926.61 L592.63,1928.04 L595.81,1929.44 L598.99,1930.83 L602.18,1932.19 L605.38,1933.54 L608.58,1934.86 L611.8,1936.16 L615.02,1937.45 L618.24,1938.71 L621.48,1939.95 L624.72,1941.17 L627.97,1942.37 L631.23,1943.54 L634.49,1944.7 L637.77,1945.83 L641.05,1946.94 L644.34,1948.03 L647.63,1949.1 L650.93,1950.15 L654.24,1951.18 L657.56,1952.19 L660.89,1953.17 L664.22,1954.14 L667.55,1955.09 L670.9,1956.02 L674.25,1956.93 L677.61,1957.82 L680.97,1958.69 L684.34,1959.54 L687.71,1960.37 L691.09,1961.19 L694.48,1961.99 L697.87,1962.77 L701.27,1963.53 L704.67,1964.27 L708.08,1965 L711.5,1965.71 L714.91,1966.41 L718.34,1967.08 L721.76,1967.74 L725.2,1968.39 L728.63,1969.02 L732.07,1969.63 L735.52,1970.23 L738.97,1970.81 L742.42,1971.38 L745.88,1971.93 L749.34,1972.46 L752.8,1972.99 L756.27,1973.49 L759.74,1973.99 L763.22,1974.47 L766.69,1974.94 L770.17,1975.39 L773.66,1975.83 L777.14,1976.26 L780.63,1976.67 L784.12,1977.07 L787.62,1977.46 L791.11,1977.84 L794.61,1978.2 L798.11,1978.55 L801.61,1978.89 L805.11,1979.22 L808.62,1979.54 L812.13,1979.85 L815.63,1980.15 L819.14,1980.43 L822.65,1980.71 L826.16,1980.98 L829.68,1981.23 L833.19,1981.48 L836.7,1981.71 L840.22,1981.94 L843.73,1982.16 L847.24,1982.37 L850.76,1982.57 L854.27,1982.76 L857.79,1982.95 L861.3,1983.12 L864.82,1983.29 L868.33,1983.45 L871.84,1983.61 L875.35,1983.75 L878.87,1983.89 L882.38,1984.02 L885.88,1984.15 L889.39,1984.27 L892.9,1984.38 L896.4,1984.49 L899.91,1984.59 L903.41,1984.69 L906.91,1984.78 L910.41,1984.86 L913.9,1984.94 L917.4,1985.02 L920.89,1985.09 L924.38,1985.16 L927.86,1985.22 L931.35,1985.28 L934.83,1985.33 L938.3,1985.39 L941.78,1985.43 L945.25,1985.48 L948.72,1985.52 L952.18,1985.56 L955.64,1985.6 L959.1,1985.64 L962.56,1985.67 L966.01,1985.7 L969.45,1985.73 L972.89,1985.76 L976.33,1985.79 L979.76,1985.82" stroke="#b73779" stroke-width="3.5" fill="none"/>
<path d="M221.55,2040.44 V2049.04 M280.3,1883.09 V1891.69 M339.05,1827.66 V1836.26 M397.8,1823.7 V1832.3 M456.55,1845.92 V1854.78 M515.3,1881.12 V1892.34 M574.05,1912.57 V1926.13 M632.8,1936.14 V1952.05 M691.55,1953 V1969.6 M750.3,1964.31 V1980.91 M809.05,1971.28 V1987.88 M867.8,1975.13 V1991.73 M926.55,1976.9 V1993.5 " stroke="#b73779" stroke-width="3.5" fill="none"/>
<path d="M239.53,2159.16 L240.73,2156.47 L241.92,2153.76 L243.09,2151.03 L244.24,2148.28 L245.37,2145.51 L246.48,2142.72 L247.58,2139.92 L248.66,2137.1 L249.73,2134.27 L250.79,2131.42 L251.83,2128.55 L252.86,2125.68 L253.87,2122.78 L254.88,2119.88 L255.88,2116.96 L256.87,2114.04 L257.85,2111.1 L258.82,2108.15 L259.78,2105.19 L260.74,2102.22 L261.69,2099.25 L262.64,2096.27 L263.59,2093.28 L264.53,2090.28 L265.47,2087.27 L266.41,2084.27 L267.35,2081.25 L268.28,2078.24 L269.22,2075.21 L270.16,2072.19 L271.1,2069.16 L272.05,2066.14 L273,2063.11 L273.95,2060.08 L274.91,2057.05 L275.88,2054.02 L276.85,2050.99 L277.83,2047.96 L278.82,2044.94 L279.82,2041.92 L280.83,2038.9 L281.84,2035.89 L282.87,2032.88 L283.92,2029.88 L284.97,2026.89 L286.04,2023.9 L287.13,2020.91 L288.23,2017.94 L289.35,2014.98 L290.48,2012.02 L291.63,2009.07 L292.8,2006.14 L293.99,2003.21 L295.2,2000.3 L296.43,1997.4 L297.68,1994.51 L298.95,1991.63 L300.25,1988.77 L301.57,1985.92 L302.92,1983.09 L304.29,1980.28 L305.68,1977.48 L307.11,1974.69 L308.56,1971.93 L310.04,1969.18 L311.55,1966.46 L313.09,1963.75 L314.66,1961.06 L316.26,1958.39 L317.9,1955.75 L319.57,1953.12 L321.27,1950.52 L323,1947.94 L324.78,1945.38 L326.58,1942.85 L328.43,1940.35 L330.31,1937.87 L332.23,1935.41 L334.19,1932.99 L336.19,1930.59 L338.22,1928.21 L340.28,1925.87 L342.39,1923.56 L344.52,1921.28 L346.69,1919.04 L348.89,1916.82 L351.13,1914.64 L353.39,1912.5 L355.69,1910.39 L358.02,1908.32 L360.38,1906.28 L362.76,1904.28 L365.18,1902.33 L367.62,1900.41 L370.1,1898.53 L372.59,1896.7 L375.12,1894.9 L377.67,1893.16 L380.24,1891.45 L382.84,1889.79 L385.47,1888.18 L388.11,1886.61 L390.78,1885.09 L393.47,1883.62 L396.19,1882.2 L398.92,1880.83 L401.67,1879.51 L404.45,1878.25 L407.24,1877.03 L410.05,1875.87 L412.88,1874.77 L415.72,1873.72 L418.58,1872.72 L421.46,1871.79 L424.35,1870.91 L427.26,1870.09 L430.18,1869.33 L433.11,1868.64 L436.06,1868 L439.02,1867.42 L441.99,1866.91 L444.97,1866.47 L447.96,1866.09 L450.96,1865.77 L453.97,1865.52 L456.99,1865.34 L460.01,1865.23 L463.05,1865.18 L466.08,1865.19 L469.13,1865.27 L472.18,1865.41 L475.24,1865.6 L478.3,1865.86 L481.36,1866.17 L484.42,1866.53 L487.49,1866.94 L490.56,1867.4 L493.63,1867.92 L496.7,1868.47 L499.77,1869.08 L502.84,1869.72 L505.9,1870.41 L508.97,1871.14 L512.03,1871.91 L515.09,1872.71 L518.14,1873.55 L521.19,1874.42 L524.23,1875.32 L527.26,1876.25 L530.29,1877.21 L533.32,1878.2 L536.33,1879.21 L539.33,1880.24 L542.33,1881.29 L545.32,1882.37 L548.29,1883.46 L551.26,1884.57 L554.22,1885.69 L557.18,1886.84 L560.13,1887.99 L563.07,1889.16 L566,1890.34 L568.93,1891.53 L571.85,1892.73 L574.77,1893.94 L577.68,1895.15 L580.59,1896.37 L583.49,1897.6 L586.39,1898.82 L589.29,1900.05 L592.18,1901.29 L595.07,1902.52 L597.96,1903.75 L600.85,1904.97 L603.74,1906.2 L606.62,1907.41 L609.51,1908.63 L612.39,1909.83 L615.28,1911.03 L618.16,1912.21 L621.05,1913.39 L623.94,1914.55 L626.83,1915.7 L629.72,1916.84 L632.61,1917.96 L635.51,1919.06 L638.41,1920.15 L641.31,1921.22 L644.22,1922.27 L647.13,1923.31 L650.04,1924.33 L652.96,1925.34 L655.88,1926.33 L658.8,1927.31 L661.73,1928.27 L664.66,1929.22 L667.59,1930.16 L670.53,1931.08 L673.47,1931.99 L676.42,1932.89 L679.37,1933.78 L682.32,1934.65 L685.28,1935.52 L688.24,1936.37 L691.21,1937.22 L694.18,1938.05 L697.16,1938.88 L700.14,1939.69 L703.12,1940.5 L706.11,1941.29 L709.1,1942.08 L712.09,1942.85 L715.09,1943.62 L718.1,1944.38 L721.1,1945.13 L724.11,1945.86 L727.13,1946.59 L730.14,1947.31 L733.16,1948.03 L736.19,1948.73 L739.22,1949.42 L742.25,1950.1 L745.28,1950.78 L748.32,1951.45 L751.36,1952.1 L754.4,1952.75 L757.44,1953.39 L760.49,1954.02 L763.54,1954.65 L766.6,1955.26 L769.65,1955.87 L772.71,1956.46 L775.77,1957.05 L778.84,1957.63 L781.9,1958.21 L784.97,1958.77 L788.04,1959.33 L791.11,1959.87 L794.19,1960.41 L797.26,1960.95 L800.34,1961.47 L803.42,1961.99 L806.51,1962.5 L809.59,1963 L812.67,1963.49 L815.76,1963.98 L818.85,1964.45 L821.94,1964.92 L825.03,1965.39 L828.12,1965.84 L831.22,1966.29 L834.31,1966.73 L837.41,1967.17 L840.51,1967.59 L843.61,1968.01 L846.7,1968.43 L849.8,1968.83 L852.9,1969.23 L856.01,1969.62 L859.11,1970.01 L862.21,1970.39 L865.31,1970.76 L868.42,1971.12 L871.52,1971.48 L874.63,1971.83 L877.73,1972.18 L880.83,1972.52 L883.94,1972.85 L887.04,1973.18 L890.15,1973.5 L893.25,1973.81 L896.36,1974.12 L899.46,1974.42 L902.56,1974.72 L905.67,1975.01 L908.77,1975.29 L911.87,1975.57 L914.97,1975.84 L918.08,1976.11 L921.18,1976.37 L924.28,1976.62 L927.37,1976.87 L930.47,1977.12 L933.57,1977.36 L936.66,1977.59 L939.76,1977.82 L942.85,1978.04 L945.94,1978.26 L949.03,1978.47 L952.12,1978.68 L955.21,1978.88 L958.3,1979.08 L961.38,1979.27 L964.47,1979.46 L967.55,1979.64 L970.63,1979.82 L973.7,1979.99 L976.78,1980.16 L979.85,1980.32" stroke="#de4968" stroke-width="3.5" fill="none"/>
<path d="M280.3,2036.17 V2044.77 M339.05,1922.97 V1931.57 M397.8,1877.09 V1885.69 M456.55,1860.94 V1869.8 M515.3,1867.16 V1878.37 M574.05,1886.86 V1900.42 M632.8,1910.07 V1925.99 M691.55,1929.01 V1945.61 M750.3,1943.57 V1960.17 M809.05,1954.61 V1971.21 M867.8,1962.75 V1979.35 M926.55,1968.51 V1985.11 " stroke="#de4968" stroke-width="3.5" fill="none"/>
<path d="M265.73,2159.1 L266.67,2156.46 L267.62,2153.8 L268.56,2151.13 L269.5,2148.46 L270.43,2145.78 L271.37,2143.1 L272.31,2140.4 L273.24,2137.71 L274.18,2135 L275.11,2132.29 L276.05,2129.58 L276.99,2126.86 L277.93,2124.13 L278.87,2121.4 L279.82,2118.67 L280.77,2115.93 L281.72,2113.19 L282.68,2110.45 L283.64,2107.7 L284.61,2104.96 L285.58,2102.21 L286.56,2099.46 L287.55,2096.71 L288.54,2093.95 L289.54,2091.2 L290.55,2088.45 L291.56,2085.69 L292.59,2082.94 L293.62,2080.19 L294.66,2077.43 L295.71,2074.68 L296.78,2071.94 L297.85,2069.19 L298.94,2066.45 L300.03,2063.71 L301.14,2060.97 L302.26,2058.23 L303.4,2055.5 L304.55,2052.78 L305.71,2050.05 L306.89,2047.34 L308.08,2044.62 L309.29,2041.92 L310.51,2039.21 L311.75,2036.52 L313,2033.83 L314.27,2031.15 L315.56,2028.47 L316.87,2025.8 L318.2,2023.14 L319.54,2020.49 L320.91,2017.85 L322.29,2015.21 L323.69,2012.59 L325.12,2009.97 L326.56,2007.36 L328.03,2004.76 L329.52,2002.18 L331.03,1999.6 L332.56,1997.04 L334.12,1994.48 L335.7,1991.94 L337.3,1989.41 L338.93,1986.9 L340.58,1984.4 L342.25,1981.91 L343.94,1979.44 L345.66,1976.99 L347.39,1974.56 L349.16,1972.14 L350.94,1969.74 L352.74,1967.36 L354.57,1965.01 L356.42,1962.67 L358.29,1960.35 L360.19,1958.06 L362.11,1955.79 L364.04,1953.54 L366,1951.32 L367.99,1949.12 L369.99,1946.95 L372.02,1944.81 L374.07,1942.69 L376.14,1940.6 L378.23,1938.54 L380.34,1936.52 L382.48,1934.52 L384.63,1932.55 L386.81,1930.61 L389.01,1928.71 L391.23,1926.84 L393.47,1925 L395.74,1923.2 L398.02,1921.43 L400.33,1919.7 L402.65,1918 L405,1916.35 L407.37,1914.73 L409.76,1913.15 L412.17,1911.61 L414.6,1910.11 L417.05,1908.65 L419.53,1907.24 L422.02,1905.86 L424.54,1904.53 L427.07,1903.25 L429.63,1902 L432.2,1900.81 L434.8,1899.66 L437.42,1898.55 L440.05,1897.49 L442.71,1896.48 L445.38,1895.51 L448.07,1894.59 L450.77,1893.71 L453.49,1892.87 L456.23,1892.08 L458.98,1891.33 L461.74,1890.63 L464.52,1889.97 L467.31,1889.35 L470.11,1888.78 L472.92,1888.25 L475.75,1887.75 L478.58,1887.31 L481.42,1886.9 L484.27,1886.54 L487.13,1886.21 L490,1885.93 L492.87,1885.69 L495.75,1885.49 L498.63,1885.32 L501.52,1885.2 L504.42,1885.12 L507.31,1885.08 L510.21,1885.08 L513.11,1885.11 L516.01,1885.19 L518.92,1885.3 L521.82,1885.45 L524.72,1885.63 L527.63,1885.85 L530.54,1886.11 L533.44,1886.4 L536.35,1886.71 L539.26,1887.06 L542.17,1887.44 L545.08,1887.85 L547.99,1888.29 L550.9,1888.75 L553.81,1889.24 L556.72,1889.76 L559.63,1890.3 L562.54,1890.86 L565.45,1891.44 L568.35,1892.05 L571.26,1892.67 L574.17,1893.32 L577.08,1893.98 L579.98,1894.66 L582.89,1895.36 L585.79,1896.07 L588.7,1896.79 L591.6,1897.53 L594.5,1898.28 L597.4,1899.04 L600.3,1899.81 L603.2,1900.59 L606.1,1901.38 L608.99,1902.18 L611.88,1902.98 L614.78,1903.79 L617.67,1904.6 L620.55,1905.41 L623.44,1906.23 L626.32,1907.05 L629.2,1907.87 L632.08,1908.68 L634.96,1909.5 L637.83,1910.31 L640.71,1911.13 L643.58,1911.94 L646.44,1912.74 L649.31,1913.55 L652.17,1914.35 L655.03,1915.15 L657.89,1915.95 L660.75,1916.74 L663.61,1917.53 L666.46,1918.32 L669.31,1919.11 L672.16,1919.89 L675.01,1920.67 L677.86,1921.45 L680.71,1922.23 L683.55,1923 L686.4,1923.76 L689.24,1924.53 L692.08,1925.29 L694.92,1926.05 L697.76,1926.8 L700.6,1927.55 L703.44,1928.3 L706.27,1929.05 L709.11,1929.79 L711.94,1930.52 L714.78,1931.25 L717.61,1931.98 L720.44,1932.71 L723.27,1933.43 L726.11,1934.14 L728.94,1934.85 L731.77,1935.56 L734.6,1936.27 L737.43,1936.96 L740.26,1937.66 L743.09,1938.35 L745.92,1939.03 L748.75,1939.71 L751.58,1940.39 L754.41,1941.06 L757.24,1941.73 L760.07,1942.39 L762.9,1943.05 L765.73,1943.7 L768.57,1944.34 L771.4,1944.99 L774.23,1945.62 L777.06,1946.25 L779.9,1946.88 L782.73,1947.5 L785.57,1948.11 L788.41,1948.72 L791.24,1949.33 L794.08,1949.92 L796.92,1950.52 L799.76,1951.1 L802.6,1951.68 L805.45,1952.26 L808.29,1952.82 L811.14,1953.39 L813.98,1953.94 L816.83,1954.49 L819.68,1955.04 L822.53,1955.57 L825.39,1956.11 L828.24,1956.63 L831.1,1957.15 L833.96,1957.66 L836.82,1958.16 L839.68,1958.66 L842.54,1959.15 L845.41,1959.64 L848.28,1960.12 L851.15,1960.59 L854.02,1961.05 L856.9,1961.51 L859.77,1961.96 L862.65,1962.4 L865.54,1962.83 L868.42,1963.26 L871.31,1963.68 L874.2,1964.09 L877.09,1964.5 L879.99,1964.9 L882.89,1965.29 L885.79,1965.67 L888.69,1966.04 L891.6,1966.41 L894.51,1966.77 L897.42,1967.12 L900.34,1967.46 L903.26,1967.8 L906.19,1968.12 L909.11,1968.44 L912.04,1968.75 L914.98,1969.05 L917.91,1969.34 L920.86,1969.63 L923.8,1969.9 L926.75,1970.17 L929.7,1970.43 L932.66,1970.68 L935.62,1970.92 L938.58,1971.15 L941.55,1971.37 L944.52,1971.59 L947.5,1971.79 L950.48,1971.99 L953.47,1972.18 L956.46,1972.35 L959.45,1972.52 L962.45,1972.68 L965.45,1972.83 L968.46,1972.97 L971.47,1973.1 L974.49,1973.22 L977.51,1973.33 L980.53,1973.43" stroke="#f7705c" stroke-width="3.5" fill="none"/>
<path d="M280.3,2112.99 V2121.59 M339.05,1982.41 V1991.01 M397.8,1917.3 V1925.9 M456.55,1887.56 V1896.43 M515.3,1879.56 V1890.77 M574.05,1886.51 V1900.07 M632.8,1900.93 V1916.84 M691.55,1916.85 V1933.45 M750.3,1931.79 V1948.39 M809.05,1944.67 V1961.27 M867.8,1954.87 V1971.47 M926.55,1961.85 V1978.45 " stroke="#f7705c" stroke-width="3.5" fill="none"/>
<path d="M267.08,2158.99 L268.08,2156.46 L269.08,2153.92 L270.08,2151.37 L271.08,2148.81 L272.07,2146.24 L273.06,2143.67 L274.05,2141.08 L275.04,2138.49 L276.03,2135.88 L277.02,2133.28 L278.01,2130.66 L279,2128.04 L279.99,2125.41 L280.99,2122.77 L281.98,2120.13 L282.98,2117.49 L283.99,2114.84 L285,2112.19 L286.01,2109.53 L287.03,2106.87 L288.05,2104.2 L289.08,2101.54 L290.11,2098.87 L291.15,2096.2 L292.2,2093.52 L293.26,2090.85 L294.33,2088.18 L295.4,2085.5 L296.49,2082.83 L297.58,2080.15 L298.68,2077.48 L299.8,2074.81 L300.92,2072.14 L302.06,2069.47 L303.21,2066.8 L304.38,2064.14 L305.55,2061.48 L306.74,2058.82 L307.94,2056.17 L309.16,2053.52 L310.4,2050.88 L311.64,2048.24 L312.91,2045.6 L314.19,2042.98 L315.49,2040.36 L316.81,2037.74 L318.14,2035.13 L319.49,2032.53 L320.86,2029.94 L322.25,2027.36 L323.66,2024.79 L325.09,2022.23 L326.53,2019.68 L328,2017.14 L329.49,2014.62 L330.99,2012.1 L332.52,2009.61 L334.07,2007.12 L335.64,2004.66 L337.23,2002.2 L338.84,1999.77 L340.47,1997.35 L342.13,1994.95 L343.81,1992.57 L345.51,1990.21 L347.23,1987.87 L348.98,1985.55 L350.75,1983.25 L352.54,1980.98 L354.36,1978.72 L356.21,1976.49 L358.07,1974.29 L359.96,1972.11 L361.88,1969.95 L363.82,1967.83 L365.79,1965.72 L367.79,1963.65 L369.81,1961.61 L371.85,1959.59 L373.92,1957.6 L376.02,1955.65 L378.13,1953.72 L380.28,1951.82 L382.44,1949.96 L384.63,1948.13 L386.84,1946.33 L389.08,1944.56 L391.33,1942.83 L393.61,1941.13 L395.9,1939.47 L398.22,1937.84 L400.56,1936.25 L402.91,1934.7 L405.29,1933.18 L407.68,1931.7 L410.09,1930.26 L412.52,1928.85 L414.96,1927.49 L417.43,1926.17 L419.91,1924.88 L422.4,1923.64 L424.91,1922.43 L427.44,1921.27 L429.98,1920.16 L432.53,1919.08 L435.1,1918.05 L437.68,1917.06 L440.27,1916.11 L442.88,1915.21 L445.5,1914.34 L448.13,1913.51 L450.77,1912.73 L453.43,1911.98 L456.1,1911.27 L458.78,1910.6 L461.47,1909.97 L464.17,1909.37 L466.88,1908.81 L469.6,1908.29 L472.33,1907.8 L475.08,1907.34 L477.83,1906.92 L480.59,1906.53 L483.36,1906.18 L486.14,1905.85 L488.92,1905.56 L491.72,1905.3 L494.52,1905.07 L497.33,1904.87 L500.15,1904.71 L502.98,1904.56 L505.81,1904.45 L508.65,1904.37 L511.5,1904.31 L514.35,1904.28 L517.21,1904.28 L520.07,1904.3 L522.94,1904.35 L525.81,1904.42 L528.69,1904.51 L531.58,1904.63 L534.46,1904.77 L537.36,1904.93 L540.25,1905.12 L543.15,1905.33 L546.05,1905.55 L548.96,1905.8 L551.87,1906.07 L554.78,1906.35 L557.69,1906.65 L560.61,1906.98 L563.53,1907.31 L566.44,1907.67 L569.36,1908.04 L572.29,1908.43 L575.21,1908.83 L578.13,1909.25 L581.05,1909.68 L583.97,1910.12 L586.89,1910.58 L589.82,1911.05 L592.74,1911.53 L595.65,1912.02 L598.57,1912.52 L601.49,1913.03 L604.4,1913.55 L607.31,1914.08 L610.22,1914.62 L613.13,1915.17 L616.03,1915.72 L618.94,1916.28 L621.83,1916.84 L624.73,1917.42 L627.62,1917.99 L630.5,1918.57 L633.38,1919.16 L636.26,1919.75 L639.13,1920.34 L641.99,1920.93 L644.86,1921.53 L647.71,1922.13 L650.57,1922.73 L653.42,1923.33 L656.26,1923.94 L659.1,1924.55 L661.94,1925.16 L664.77,1925.77 L667.6,1926.39 L670.43,1927.01 L673.25,1927.63 L676.07,1928.25 L678.88,1928.87 L681.7,1929.49 L684.51,1930.11 L687.31,1930.74 L690.11,1931.36 L692.91,1931.99 L695.71,1932.62 L698.51,1933.24 L701.3,1933.87 L704.09,1934.5 L706.87,1935.13 L709.66,1935.75 L712.44,1936.38 L715.22,1937.01 L718,1937.64 L720.78,1938.26 L723.55,1938.89 L726.32,1939.51 L729.09,1940.14 L731.86,1940.76 L734.63,1941.38 L737.4,1942 L740.16,1942.62 L742.93,1943.24 L745.69,1943.85 L748.45,1944.47 L751.22,1945.08 L753.98,1945.69 L756.74,1946.3 L759.5,1946.9 L762.25,1947.5 L765.01,1948.11 L767.77,1948.7 L770.53,1949.3 L773.29,1949.89 L776.04,1950.48 L778.8,1951.06 L781.56,1951.65 L784.32,1952.23 L787.08,1952.8 L789.84,1953.37 L792.6,1953.94 L795.36,1954.5 L798.12,1955.06 L800.88,1955.62 L803.64,1956.17 L806.41,1956.72 L809.17,1957.26 L811.94,1957.8 L814.71,1958.33 L817.47,1958.86 L820.24,1959.38 L823.02,1959.9 L825.79,1960.41 L828.57,1960.92 L831.34,1961.42 L834.12,1961.91 L836.91,1962.4 L839.69,1962.88 L842.48,1963.36 L845.26,1963.83 L848.05,1964.3 L850.85,1964.76 L853.64,1965.21 L856.44,1965.65 L859.25,1966.09 L862.05,1966.52 L864.86,1966.95 L867.67,1967.36 L870.48,1967.77 L873.3,1968.17 L876.12,1968.57 L878.95,1968.95 L881.77,1969.33 L884.61,1969.7 L887.44,1970.07 L890.28,1970.42 L893.12,1970.77 L895.97,1971.1 L898.82,1971.43 L901.68,1971.75 L904.54,1972.06 L907.41,1972.37 L910.27,1972.66 L913.15,1972.94 L916.03,1973.22 L918.91,1973.48 L921.8,1973.74 L924.69,1973.98 L927.59,1974.22 L930.5,1974.44 L933.41,1974.66 L936.32,1974.87 L939.24,1975.06 L942.17,1975.24 L945.1,1975.42 L948.04,1975.58 L950.98,1975.73 L953.93,1975.87 L956.89,1976 L959.85,1976.12 L962.82,1976.23 L965.79,1976.33 L968.77,1976.41 L971.76,1976.48 L974.76,1976.54 L977.76,1976.59 L980.77,1976.63" stroke="#fe9f6d" stroke-width="3.5" fill="none"/>
<path d="M280.3,2120.29 V2128.89 M339.05,1995.16 V2003.76 M397.8,1933.84 V1942.44 M456.55,1906.73 V1915.59 M515.3,1898.67 V1909.89 M574.05,1901.89 V1915.45 M632.8,1911.08 V1927 M691.55,1923.38 V1939.98 M750.3,1936.58 V1953.18 M809.05,1948.94 V1965.54 M867.8,1959.08 V1975.68 M926.55,1965.83 V1982.43 " stroke="#fe9f6d" stroke-width="3.5" fill="none"/>
<path d="M270.13,2159.52 L271.37,2156.98 L272.59,2154.45 L273.79,2151.9 L274.98,2149.35 L276.14,2146.8 L277.29,2144.24 L278.42,2141.67 L279.54,2139.1 L280.65,2136.53 L281.74,2133.95 L282.83,2131.38 L283.9,2128.79 L284.96,2126.21 L286.02,2123.62 L287.07,2121.03 L288.11,2118.44 L289.15,2115.84 L290.18,2113.25 L291.21,2110.65 L292.24,2108.06 L293.27,2105.46 L294.3,2102.86 L295.32,2100.27 L296.35,2097.68 L297.39,2095.08 L298.43,2092.49 L299.47,2089.9 L300.52,2087.31 L301.58,2084.73 L302.64,2082.14 L303.72,2079.56 L304.81,2076.99 L305.9,2074.41 L307.01,2071.84 L308.14,2069.28 L309.27,2066.72 L310.43,2064.16 L311.6,2061.61 L312.78,2059.07 L313.99,2056.53 L315.22,2054 L316.46,2051.48 L317.73,2048.96 L319.02,2046.45 L320.34,2043.94 L321.68,2041.45 L323.04,2038.96 L324.43,2036.48 L325.85,2034.01 L327.3,2031.55 L328.77,2029.1 L330.26,2026.66 L331.79,2024.23 L333.33,2021.82 L334.91,2019.42 L336.5,2017.03 L338.12,2014.66 L339.77,2012.3 L341.44,2009.95 L343.13,2007.62 L344.85,2005.31 L346.59,2003.02 L348.35,2000.74 L350.14,1998.48 L351.95,1996.24 L353.78,1994.02 L355.64,1991.83 L357.51,1989.65 L359.41,1987.49 L361.33,1985.36 L363.27,1983.24 L365.23,1981.16 L367.21,1979.09 L369.22,1977.05 L371.24,1975.04 L373.29,1973.05 L375.35,1971.08 L377.44,1969.15 L379.54,1967.24 L381.66,1965.36 L383.8,1963.51 L385.97,1961.69 L388.15,1959.9 L390.34,1958.13 L392.56,1956.4 L394.79,1954.71 L397.05,1953.04 L399.32,1951.41 L401.6,1949.81 L403.91,1948.25 L406.23,1946.72 L408.57,1945.23 L410.92,1943.77 L413.29,1942.35 L415.67,1940.97 L418.08,1939.62 L420.49,1938.32 L422.93,1937.05 L425.37,1935.83 L427.84,1934.64 L430.31,1933.5 L432.8,1932.39 L435.31,1931.33 L437.83,1930.31 L440.36,1929.33 L442.91,1928.39 L445.46,1927.49 L448.04,1926.63 L450.62,1925.81 L453.22,1925.02 L455.83,1924.27 L458.45,1923.56 L461.08,1922.89 L463.72,1922.25 L466.38,1921.64 L469.04,1921.07 L471.72,1920.54 L474.4,1920.04 L477.1,1919.57 L479.8,1919.13 L482.52,1918.72 L485.24,1918.35 L487.97,1918.01 L490.71,1917.69 L493.46,1917.41 L496.22,1917.15 L498.99,1916.93 L501.76,1916.73 L504.54,1916.56 L507.33,1916.42 L510.12,1916.3 L512.92,1916.21 L515.73,1916.14 L518.54,1916.1 L521.36,1916.08 L524.19,1916.09 L527.02,1916.12 L529.85,1916.17 L532.69,1916.25 L535.53,1916.34 L538.38,1916.46 L541.23,1916.6 L544.09,1916.75 L546.95,1916.93 L549.81,1917.13 L552.68,1917.34 L555.55,1917.57 L558.42,1917.82 L561.29,1918.08 L564.16,1918.36 L567.04,1918.66 L569.92,1918.97 L572.79,1919.3 L575.67,1919.64 L578.55,1919.99 L581.43,1920.36 L584.31,1920.73 L587.19,1921.12 L590.07,1921.52 L592.95,1921.94 L595.83,1922.36 L598.71,1922.79 L601.58,1923.23 L604.45,1923.68 L607.32,1924.13 L610.19,1924.6 L613.06,1925.07 L615.92,1925.54 L618.78,1926.03 L621.64,1926.51 L624.49,1927.01 L627.34,1927.5 L630.19,1928 L633.03,1928.51 L635.87,1929.01 L638.7,1929.52 L641.53,1930.03 L644.35,1930.54 L647.17,1931.05 L649.98,1931.57 L652.79,1932.09 L655.6,1932.61 L658.4,1933.13 L661.2,1933.65 L663.99,1934.17 L666.78,1934.7 L669.57,1935.22 L672.35,1935.75 L675.13,1936.28 L677.91,1936.81 L680.68,1937.34 L683.46,1937.87 L686.22,1938.4 L688.99,1938.93 L691.75,1939.47 L694.51,1940 L697.26,1940.53 L700.02,1941.06 L702.77,1941.6 L705.52,1942.13 L708.26,1942.66 L711.01,1943.19 L713.75,1943.73 L716.49,1944.26 L719.23,1944.79 L721.96,1945.32 L724.7,1945.85 L727.43,1946.37 L730.16,1946.9 L732.89,1947.43 L735.62,1947.95 L738.35,1948.48 L741.07,1949 L743.79,1949.52 L746.52,1950.04 L749.24,1950.56 L751.96,1951.07 L754.68,1951.59 L757.4,1952.1 L760.12,1952.61 L762.84,1953.11 L765.56,1953.62 L768.28,1954.12 L771,1954.62 L773.71,1955.12 L776.43,1955.62 L779.15,1956.11 L781.87,1956.6 L784.58,1957.08 L787.3,1957.57 L790.02,1958.05 L792.74,1958.52 L795.46,1959 L798.18,1959.47 L800.9,1959.93 L803.63,1960.4 L806.35,1960.85 L809.07,1961.31 L811.8,1961.76 L814.52,1962.21 L817.25,1962.65 L819.98,1963.09 L822.71,1963.52 L825.44,1963.95 L828.18,1964.38 L830.91,1964.8 L833.65,1965.21 L836.39,1965.62 L839.13,1966.03 L841.88,1966.43 L844.62,1966.83 L847.37,1967.22 L850.12,1967.6 L852.88,1967.98 L855.63,1968.35 L858.39,1968.72 L861.15,1969.08 L863.92,1969.44 L866.68,1969.79 L869.45,1970.13 L872.23,1970.47 L875,1970.8 L877.78,1971.13 L880.57,1971.45 L883.35,1971.76 L886.14,1972.07 L888.94,1972.37 L891.74,1972.66 L894.54,1972.94 L897.34,1973.22 L900.15,1973.49 L902.97,1973.76 L905.78,1974.01 L908.61,1974.26 L911.43,1974.5 L914.27,1974.74 L917.1,1974.96 L919.94,1975.18 L922.79,1975.39 L925.64,1975.59 L928.49,1975.79 L931.35,1975.97 L934.22,1976.15 L937.09,1976.32 L939.97,1976.48 L942.85,1976.63 L945.73,1976.77 L948.63,1976.91 L951.52,1977.03 L954.43,1977.15 L957.34,1977.25 L960.25,1977.35 L963.18,1977.44 L966.1,1977.52 L969.04,1977.59 L971.98,1977.65 L974.93,1977.7 L977.88,1977.74 L980.84,1977.77" stroke="#fecf92" stroke-width="3.5" fill="none"/>
<path d="M280.3,2133.05 V2141.65 M339.05,2009.03 V2017.63 M397.8,1948.2 V1956.8 M456.55,1919.65 V1928.51 M515.3,1910.55 V1921.76 M574.05,1912.66 V1926.23 M632.8,1920.51 V1936.42 M691.55,1931.13 V1947.73 M750.3,1942.46 V1959.06 M809.05,1953.01 V1969.61 M867.8,1961.63 V1978.23 M926.55,1967.36 V1983.96 " stroke="#fecf92" stroke-width="3.5" fill="none"/>
<path d="M162.8,2024.8 V2214.8 M221.55,1698.1 V1849.1 M280.3,1547 V1661 M339.05,1566 V1634 M397.8,1626.5 V1659.5 M456.55,1728 V1748 M515.3,1825 V1841 M574.05,1899.1 V1928.1 M632.8,1958.1 V1987.9 M691.55,1976.3 V1999.7 M750.3,1977.9 V2001.5 M809.05,1988.5 V2005.5 M867.8,1998.5 V2014.5 M926.55,1983 V1999 " stroke="#140e36" stroke-width="3.5" fill="none"/>
<circle cx="162.8" cy="2119.8" r="7.9" fill="#140e36"/>
<circle cx="221.55" cy="1773.6" r="7.9" fill="#140e36"/>
<circle cx="280.3" cy="1604" r="7.9" fill="#140e36"/>
<circle cx="339.05" cy="1600" r="7.9" fill="#140e36"/>
<circle cx="397.8" cy="1643" r="7.9" fill="#140e36"/>
<circle cx="456.55" cy="1738" r="7.9" fill="#140e36"/>
<circle cx="515.3" cy="1833" r="7.9" fill="#140e36"/>
<circle cx="574.05" cy="1913.6" r="7.9" fill="#140e36"/>
<circle cx="632.8" cy="1973" r="7.9" fill="#140e36"/>
<circle cx="691.55" cy="1988" r="7.9" fill="#140e36"/>
<circle cx="750.3" cy="1989.7" r="7.9" fill="#140e36"/>
<circle cx="809.05" cy="1997" r="7.9" fill="#140e36"/>
<circle cx="867.8" cy="2006.5" r="7.9" fill="#140e36"/>
<circle cx="926.55" cy="1991" r="7.9" fill="#140e36"/>
</g>
<rect x="136.9" y="1519.2" width="831.2" height="619.6" fill="none" stroke="#000" stroke-width="1.95"/>
<path d="M136.9,2138.8 h-8.5 M136.9,2061.35 h-8.5 M136.9,1983.9 h-8.5 M136.9,1906.45 h-8.5 M136.9,1829 h-8.5 M136.9,1751.55 h-8.5 M136.9,1674.1 h-8.5 M136.9,1596.65 h-8.5 M136.9,1519.2 h-8.5 M183.5,2138.8 v8.5 M276.81,2138.8 v8.5 M370.12,2138.8 v8.5 M463.43,2138.8 v8.5 M556.74,2138.8 v8.5 M650.05,2138.8 v8.5 M743.36,2138.8 v8.5 M836.67,2138.8 v8.5 M929.98,2138.8 v8.5 " stroke="#000" stroke-width="1.95" fill="none"/>
<text x="35.08" y="2147.9" font-size="24.9" textLength="85" lengthAdjust="spacingAndGlyphs">−0.050</text>
<text x="35.58" y="2070.45" font-size="24.9" textLength="84.57" lengthAdjust="spacingAndGlyphs">−0.025</text>
<text x="54.08" y="1993" font-size="24.9" textLength="65.95" lengthAdjust="spacingAndGlyphs">0.000</text>
<text x="54.58" y="1915.55" font-size="24.9" textLength="65.52" lengthAdjust="spacingAndGlyphs">0.025</text>
<text x="54.08" y="1838.1" font-size="24.9" textLength="65.95" lengthAdjust="spacingAndGlyphs">0.050</text>
<text x="54.58" y="1760.65" font-size="24.9" textLength="65.52" lengthAdjust="spacingAndGlyphs">0.075</text>
<text x="54.08" y="1683.2" font-size="24.9" textLength="65.95" lengthAdjust="spacingAndGlyphs">0.100</text>
<text x="54.58" y="1605.75" font-size="24.9" textLength="65.52" lengthAdjust="spacingAndGlyphs">0.125</text>
<text x="54.08" y="1528.3" font-size="24.9" textLength="65.95" lengthAdjust="spacingAndGlyphs">0.150</text>
<text x="165.42" y="2173.1" font-size="24.9" textLength="36.13" lengthAdjust="spacingAndGlyphs">0.4</text>
<text x="258.74" y="2173.1" font-size="24.9" textLength="35.71" lengthAdjust="spacingAndGlyphs">0.5</text>
<text x="352.03" y="2173.1" font-size="24.9" textLength="36.37" lengthAdjust="spacingAndGlyphs">0.6</text>
<text x="445.35" y="2173.1" font-size="24.9" textLength="35.98" lengthAdjust="spacingAndGlyphs">0.7</text>
<text x="538.66" y="2173.1" font-size="24.9" textLength="36.22" lengthAdjust="spacingAndGlyphs">0.8</text>
<text x="631.97" y="2173.1" font-size="24.9" textLength="36.28" lengthAdjust="spacingAndGlyphs">0.9</text>
<text x="725.35" y="2173.1" font-size="24.9" textLength="36.08" lengthAdjust="spacingAndGlyphs">1.0</text>
<text x="818.68" y="2173.1" font-size="24.9" textLength="35.69" lengthAdjust="spacingAndGlyphs">1.1</text>
<text x="912" y="2173.1" font-size="24.9" textLength="35.53" lengthAdjust="spacingAndGlyphs">1.2</text>
<text x="353.22" y="2204.1" font-size="24.9" textLength="360.67" lengthAdjust="spacingAndGlyphs">Normalized kink displacement,</text>
<text x="720.7" y="2204.1" font-size="24.9" textLength="7.99" lengthAdjust="spacingAndGlyphs" font-style="italic">r</text>
<text x="728.9" y="2204.1" font-size="24.9" textLength="7.2" lengthAdjust="spacingAndGlyphs">/</text>
<text x="737.16" y="2204.1" font-size="24.9" textLength="12.3" lengthAdjust="spacingAndGlyphs" font-style="italic">ξ</text>
<g transform="translate(19.6,1947.9) rotate(-90)">
<text x="-2.18" y="0" font-size="24.9" textLength="190.98" lengthAdjust="spacingAndGlyphs">Kink correlation,</text>
<text x="195.3" y="0" font-size="24.9" textLength="17.08" lengthAdjust="spacingAndGlyphs" font-style="italic">C</text>
<text x="212.71" y="0" font-size="24.9" textLength="6.91" lengthAdjust="spacingAndGlyphs">(</text>
<text x="222.04" y="0" font-size="24.9" textLength="9.13" lengthAdjust="spacingAndGlyphs" font-style="italic">r</text>
<text x="232.59" y="0" font-size="24.9" textLength="6.41" lengthAdjust="spacingAndGlyphs">)</text>
</g>
<path d="M789.4,1543.2 L802.6,1556.4 M789.4,1556.4 L802.6,1543.2" stroke="#808080" stroke-width="2.45"/>
<text x="837.85" y="1558.3" font-size="24.9" textLength="49.3" lengthAdjust="spacingAndGlyphs">sim.</text>
<path d="M772,1585.3 H819.7" stroke="#808080" stroke-width="3.5" stroke-dasharray="3.5 5.8"/>
<text x="838.19" y="1592.3" font-size="24.9" textLength="5.64" lengthAdjust="spacingAndGlyphs" font-style="italic">l</text>
<text x="844.4" y="1592.3" font-size="24.9" textLength="7.8" lengthAdjust="spacingAndGlyphs">/</text>
<text x="852.06" y="1592.3" font-size="24.9" textLength="12.3" lengthAdjust="spacingAndGlyphs" font-style="italic">ξ</text>
<text x="870.26" y="1592.3" font-size="24.9" textLength="18.39" lengthAdjust="spacingAndGlyphs">=</text>
<text x="893.81" y="1592.3" font-size="24.9" textLength="50.97" lengthAdjust="spacingAndGlyphs">1.31</text>
<path d="M796.0,1609.5 V1633.1" stroke="#140e36" stroke-width="3.5"/>
<circle cx="796.0" cy="1621.3" r="7.9" fill="#140e36"/>
<text x="837.84" y="1629.5" font-size="24.9" textLength="48.2" lengthAdjust="spacingAndGlyphs">ZNE</text>
<path d="M772,1655.9 H819.7" stroke="#140e36" stroke-width="3.5" stroke-dasharray="3.5 5.8"/>
<text x="838.19" y="1663.5" font-size="24.9" textLength="5.64" lengthAdjust="spacingAndGlyphs" font-style="italic">l</text>
<text x="844.4" y="1663.5" font-size="24.9" textLength="7.8" lengthAdjust="spacingAndGlyphs">/</text>
<text x="852.06" y="1663.5" font-size="24.9" textLength="12.3" lengthAdjust="spacingAndGlyphs" font-style="italic">ξ</text>
<text x="870.26" y="1663.5" font-size="24.9" textLength="18.39" lengthAdjust="spacingAndGlyphs">=</text>
<text x="893.91" y="1663.5" font-size="24.9" textLength="34.54" lengthAdjust="spacingAndGlyphs">1.2</text>
<path d="M796.0,1681 V1704.6" stroke="#3b0f70" stroke-width="3.5"/>
<text x="838.22" y="1699.5" font-size="24.9" textLength="11.42" lengthAdjust="spacingAndGlyphs" font-style="italic">κ</text>
<text x="852.09" y="1699.5" font-size="24.9" textLength="18.03" lengthAdjust="spacingAndGlyphs">=</text>
<text x="871.31" y="1699.5" font-size="24.9" textLength="13.1" lengthAdjust="spacingAndGlyphs">1</text>
<path d="M796.0,1715.1 V1738.7" stroke="#641a80" stroke-width="3.5"/>
<text x="838.22" y="1733.6" font-size="24.9" textLength="11.42" lengthAdjust="spacingAndGlyphs" font-style="italic">κ</text>
<text x="852.09" y="1733.6" font-size="24.9" textLength="18.03" lengthAdjust="spacingAndGlyphs">=</text>
<text x="871.12" y="1733.6" font-size="24.9" textLength="50.47" lengthAdjust="spacingAndGlyphs">1.12</text>
<path d="M796.0,1749.3 V1772.9" stroke="#8c2981" stroke-width="3.5"/>
<text x="838.22" y="1767.8" font-size="24.9" textLength="11.42" lengthAdjust="spacingAndGlyphs" font-style="italic">κ</text>
<text x="852.09" y="1767.8" font-size="24.9" textLength="18.03" lengthAdjust="spacingAndGlyphs">=</text>
<text x="871.1" y="1767.8" font-size="24.9" textLength="51.13" lengthAdjust="spacingAndGlyphs">1.29</text>
<path d="M796.0,1783.4 V1807" stroke="#b73779" stroke-width="3.5"/>
<text x="838.22" y="1801.9" font-size="24.9" textLength="11.42" lengthAdjust="spacingAndGlyphs" font-style="italic">κ</text>
<text x="852.09" y="1801.9" font-size="24.9" textLength="18.03" lengthAdjust="spacingAndGlyphs">=</text>
<text x="871.15" y="1801.9" font-size="24.9" textLength="35.63" lengthAdjust="spacingAndGlyphs">1.5</text>
<path d="M796.0,1817.4 V1841" stroke="#de4968" stroke-width="3.5"/>
<text x="838.22" y="1835.9" font-size="24.9" textLength="11.42" lengthAdjust="spacingAndGlyphs" font-style="italic">κ</text>
<text x="852.09" y="1835.9" font-size="24.9" textLength="18.03" lengthAdjust="spacingAndGlyphs">=</text>
<text x="871.12" y="1835.9" font-size="24.9" textLength="36.15" lengthAdjust="spacingAndGlyphs">1.8</text>
<path d="M796.0,1851.5 V1875.1" stroke="#f7705c" stroke-width="3.5"/>
<text x="838.22" y="1870" font-size="24.9" textLength="11.42" lengthAdjust="spacingAndGlyphs" font-style="italic">κ</text>
<text x="852.09" y="1870" font-size="24.9" textLength="18.03" lengthAdjust="spacingAndGlyphs">=</text>
<text x="871.05" y="1870" font-size="24.9" textLength="13.22" lengthAdjust="spacingAndGlyphs">2</text>
<path d="M796.0,1885.5 V1909.1" stroke="#fe9f6d" stroke-width="3.5"/>
<text x="838.22" y="1904" font-size="24.9" textLength="11.42" lengthAdjust="spacingAndGlyphs" font-style="italic">κ</text>
<text x="852.09" y="1904" font-size="24.9" textLength="18.03" lengthAdjust="spacingAndGlyphs">=</text>
<text x="870.93" y="1904" font-size="24.9" textLength="50.75" lengthAdjust="spacingAndGlyphs">2.25</text>
<path d="M796.0,1919.5 V1943.1" stroke="#fecf92" stroke-width="3.5"/>
<text x="838.22" y="1938" font-size="24.9" textLength="11.42" lengthAdjust="spacingAndGlyphs" font-style="italic">κ</text>
<text x="852.09" y="1938" font-size="24.9" textLength="18.03" lengthAdjust="spacingAndGlyphs">=</text>
<text x="870.92" y="1938" font-size="24.9" textLength="51.03" lengthAdjust="spacingAndGlyphs">2.57</text>
</svg></body></html>
